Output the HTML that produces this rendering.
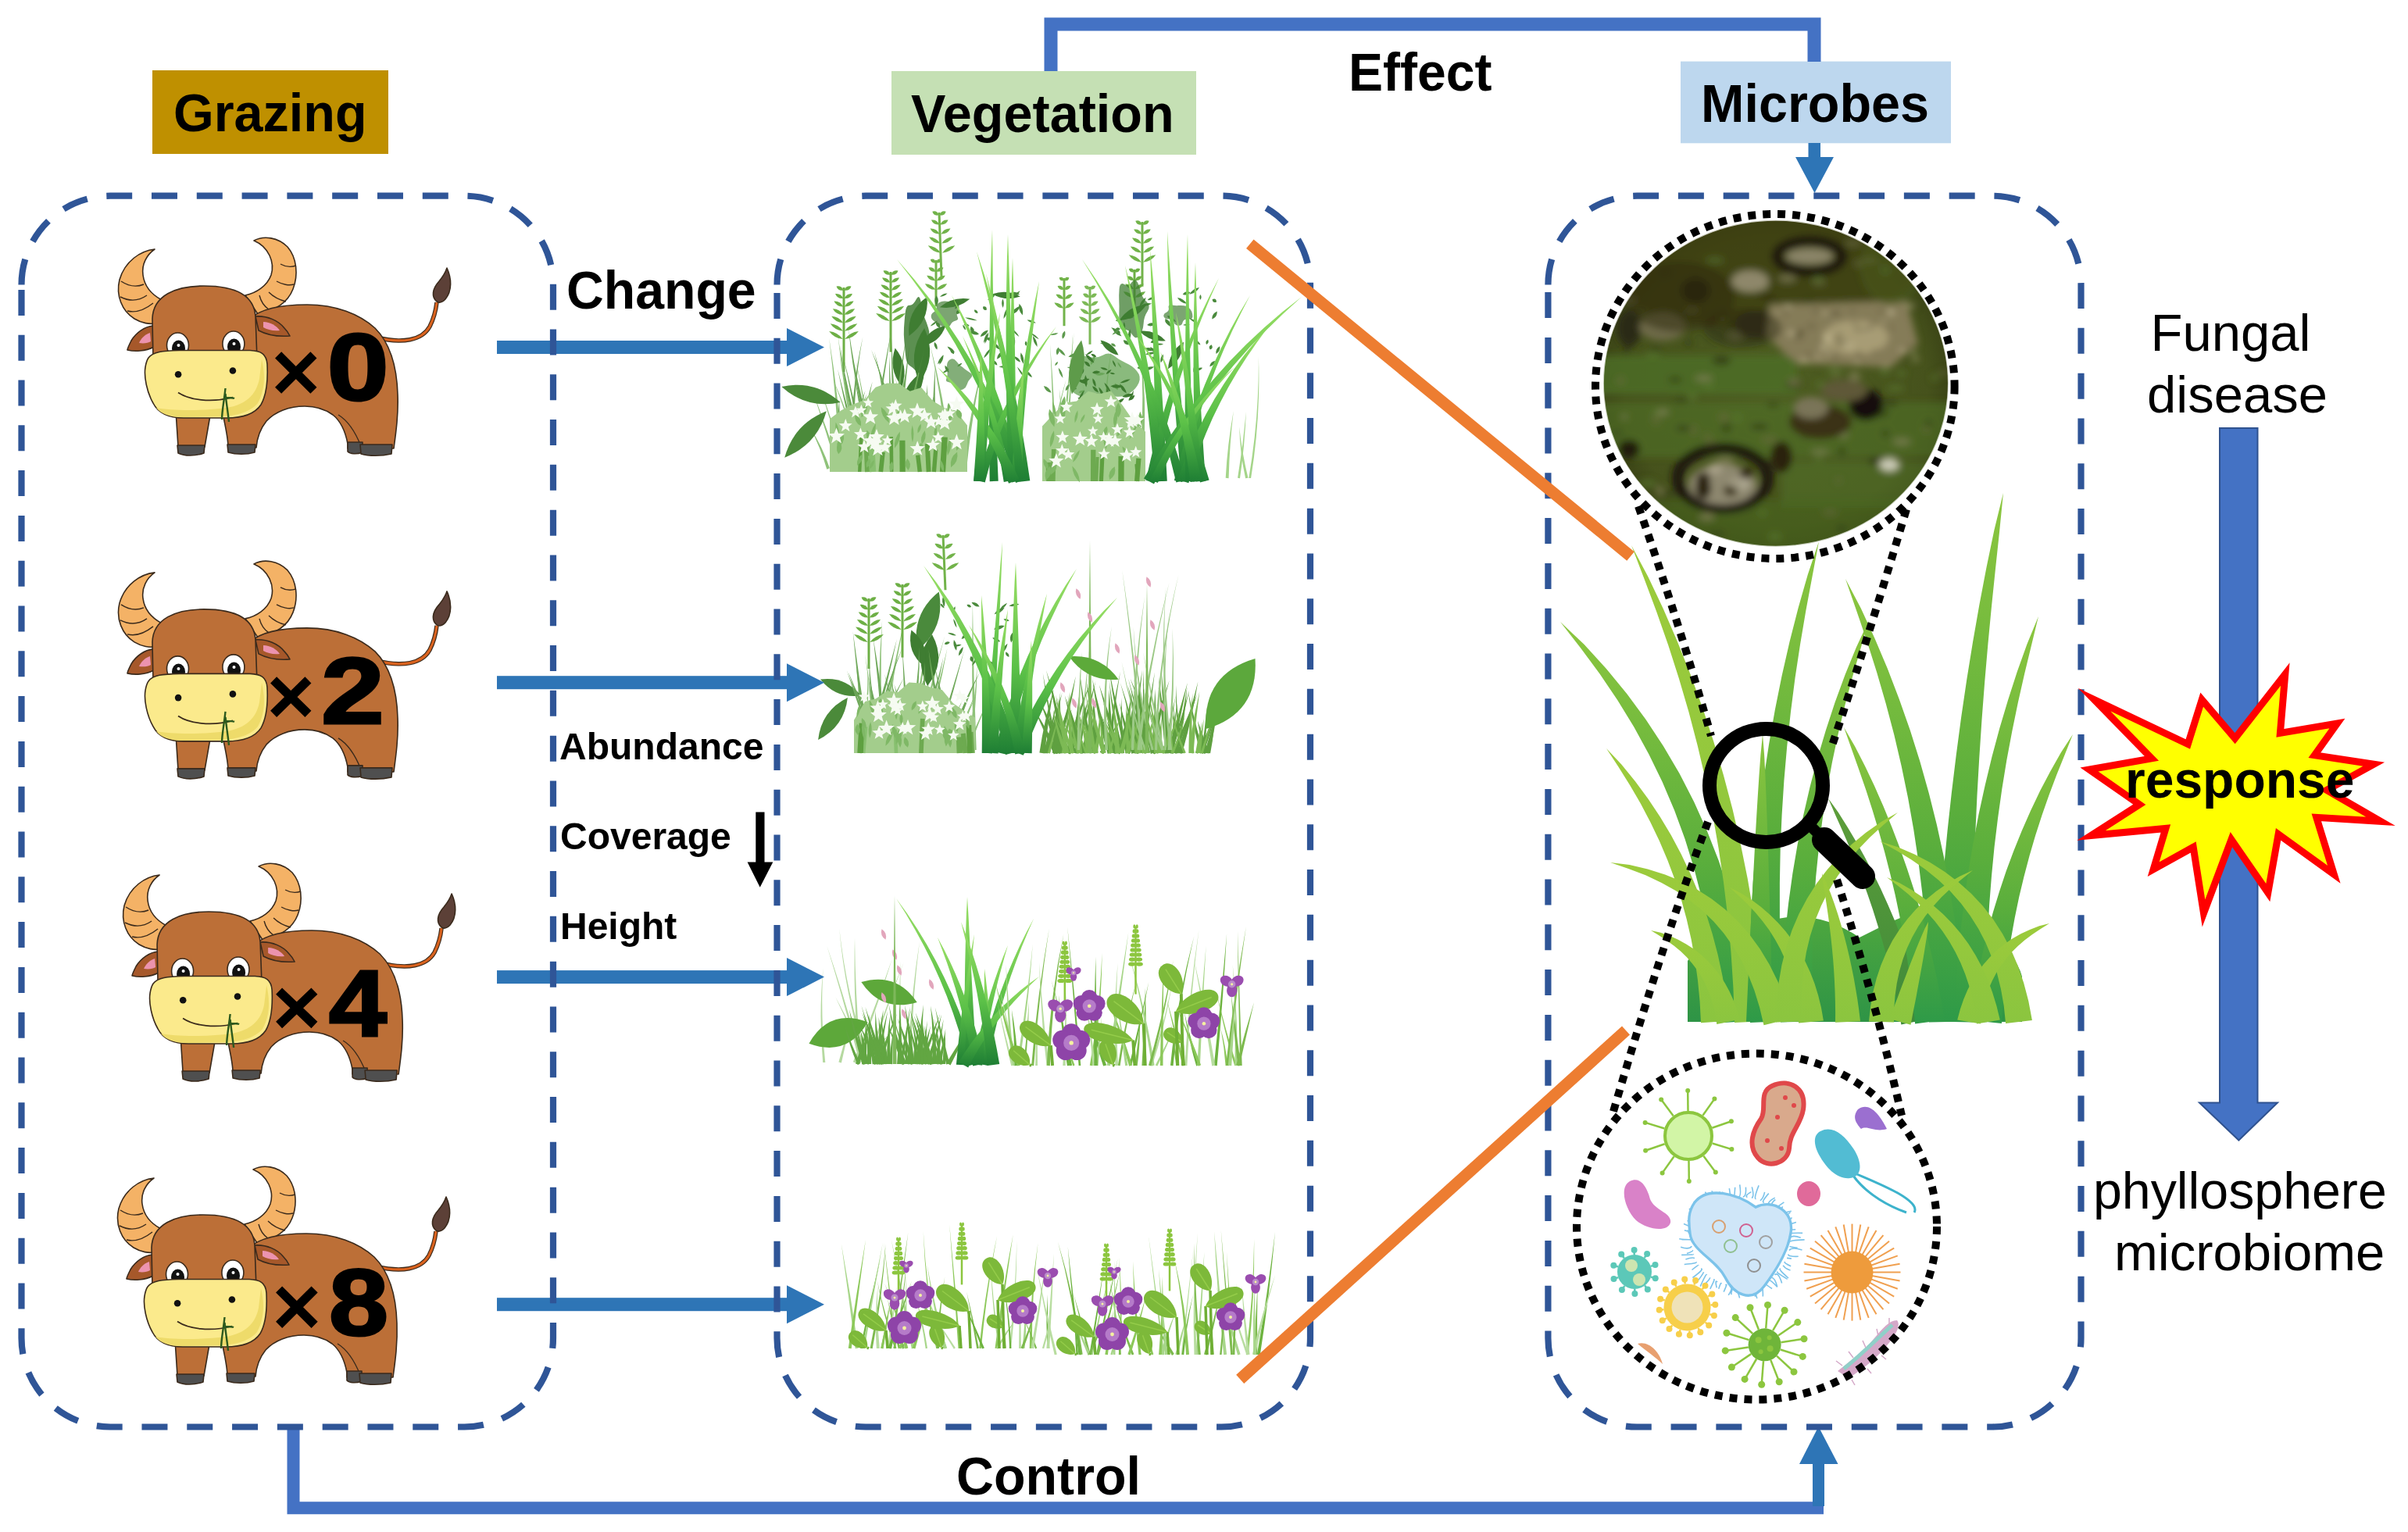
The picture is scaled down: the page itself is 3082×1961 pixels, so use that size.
<!DOCTYPE html>
<html><head><meta charset="utf-8">
<style>
html,body{margin:0;padding:0;background:#fff;width:3082px;height:1961px;overflow:hidden}
svg{display:block}
text{font-family:"Liberation Sans",sans-serif}
.b{font-weight:bold}
</style></head><body>
<svg width="3082" height="1961" viewBox="0 0 3082 1961">
<defs>
<linearGradient id="gG4" x1="0" y1="0" x2="0" y2="1"><stop offset="0" stop-color="#4FA83E"/><stop offset="1" stop-color="#2E9446"/></linearGradient>
<linearGradient id="gG1" x1="0" y1="0" x2="0" y2="1"><stop offset="0" stop-color="#8CC63F"/><stop offset="0.6" stop-color="#5AAE3C"/><stop offset="1" stop-color="#2E9A48"/></linearGradient>
<linearGradient id="gG2" x1="0" y1="0" x2="0" y2="1"><stop offset="0" stop-color="#9CCB3B"/><stop offset="1" stop-color="#8BC53F"/></linearGradient>
<linearGradient id="gG3" x1="0" y1="0" x2="0" y2="1"><stop offset="0" stop-color="#5E9E3A"/><stop offset="1" stop-color="#3E8A3A"/></linearGradient>
<radialGradient id="gPh" cx="0.5" cy="0.5" r="0.55"><stop offset="0" stop-color="#4E5E22"/><stop offset="0.8" stop-color="#46521C"/><stop offset="1" stop-color="#353C12"/></radialGradient>
<clipPath id="clipPh"><ellipse cx="2272.9" cy="490.7" rx="221" ry="209"/></clipPath>
<filter id="blur4" x="-20%" y="-20%" width="140%" height="140%"><feGaussianBlur stdDeviation="5"/></filter>
<linearGradient id="gBr" x1="0" y1="0" x2="0" y2="1" gradientUnits="objectBoundingBox"><stop offset="0" stop-color="#9BE066"/><stop offset="0.55" stop-color="#5CC148"/><stop offset="1" stop-color="#1E7E34"/></linearGradient>
<g id="cow" stroke="#3a2a1c" stroke-width="1.6" stroke-linejoin="round">
 <!-- tail -->
 <path d="M352,142 C385,150 410,146 420,128 C426,116 428,106 429,97" fill="none" stroke="#3a2a1c" stroke-width="5.5"/>
 <path d="M352,142 C385,150 410,146 420,128 C426,116 428,106 429,97" fill="none" stroke="#D9621E" stroke-width="3.2"/>
 <path d="M429,96 C422,90 423,80 432,70 C437,64 440,59 442,53 C448,66 449,82 440,93 C436,97 432,98 429,96 Z" fill="#5C4037"/>
 <!-- left horn -->
 <path d="M68,29 C50,31 30,44 23,68 C18,88 26,108 42,118 C52,124 62,125 67,124 L77,94 C66,88 55,78 53,62 C51,48 58,36 68,29 Z" fill="#F4B266"/>
 <path d="M25,70 C34,76 44,78 54,74 M24,90 C36,96 48,95 58,88 M33,108 C45,111 56,106 66,98" fill="none" stroke-width="1.4"/>
 <!-- right horn -->
 <path d="M195,18 C208,11 226,14 238,26 C250,40 252,62 245,80 C238,98 220,108 200,112 L184,88 C198,85 212,76 217,62 C222,46 214,26 195,18 Z" fill="#F4B266"/>
 <path d="M229,48 C236,52 243,52 249,50 M224,70 C231,74 240,76 246,74 M214,84 C220,90 228,94 236,96 M202,88 C204,96 208,102 214,106" fill="none" stroke-width="1.4"/>
 <!-- front left leg (behind) -->
 <path d="M95,236 L140,236 L132,282 L98,282 Z" fill="#BC6F37"/>
 <!-- body -->
 <path d="M190,118 C205,104 235,100 263,100 C300,100 330,112 350,130 C370,150 378,180 379,215 C380,240 377,262 374,284 L315,284 L315,278 C312,262 306,249 296,241 C285,233 272,230 260,230 C240,230 222,237 211,249 C203,259 199,270 198,283 L162,283 C162,260 150,230 150,200 C150,160 170,130 190,118 Z" fill="#BC6F37"/>
 <path d="M303,241 C318,250 326,266 332,281" fill="none" stroke-width="1.4"/>
 <!-- hooves -->
 <path d="M315,276 L334,276 L334,289 C326,292 318,291 315,288 Z" fill="#4f4f4f"/>
 <path d="M331,279 L372,279 L371,291 C358,294 342,294 332,291 Z" fill="#4f4f4f"/>
 <path d="M97,280 L132,280 L131,290 C120,294 106,294 98,290 Z" fill="#4f4f4f"/>
 <path d="M161,279 L197,279 L196,289 C186,292 172,292 162,289 Z" fill="#4f4f4f"/>
 <!-- ears -->
 <path d="M66,127 C55,128 44,136 38,146 C35,152 33,156 33,158 C42,160 56,160 67,154 Z" fill="#A6582A"/>
 <path d="M62,136 C55,138 50,144 48,149 C54,150 60,149 63,147 Z" fill="#EC93AE" stroke="none"/>
 <path d="M197,115 C212,114 226,120 234,130 C238,134 240,138 241,140 C228,141 212,139 201,133 Z" fill="#A6582A"/>
 <path d="M207,122 C216,122 224,127 228,133 C220,134 212,132 207,129 Z" fill="#EC93AE" stroke="none"/>
 <!-- head -->
 <path d="M66,170 L65,118 C66,88 95,76 131,76 C168,76 195,86 197,115 L199,170 Z" fill="#BC6F37"/>
 <!-- eyes -->
 <ellipse cx="97.5" cy="152" rx="14" ry="16" fill="#fff"/>
 <ellipse cx="98.5" cy="156" rx="8.5" ry="10.5" fill="#111" stroke="none"/>
 <circle cx="98.5" cy="152" r="2" fill="#fff" stroke="none"/>
 <ellipse cx="168.9" cy="150" rx="14" ry="16" fill="#fff"/>
 <ellipse cx="169.5" cy="154" rx="8.5" ry="10.5" fill="#111" stroke="none"/>
 <circle cx="169.5" cy="150" r="2" fill="#fff" stroke="none"/>
 <!-- muzzle -->
 <path d="M60,168 C66,160 78,159 100,158.5 L190,158.5 C204,159 211,163 212,176 C213,196 212,214 204,228 C196,240 180,245 160,245 L105,245 C85,245 72,238 66,226 C58,212 54,192 56,180 C57,174 58,171 60,168 Z" fill="#FBEA8C"/>
 <path d="M205,170 C210,190 209,210 200,226 C190,238 170,243 150,243 L105,244 C88,244 76,240 70,232 C90,236 130,236 160,232 C185,228 198,215 202,195 Z" fill="#EEDB6A" stroke="none"/>
 <circle cx="98.1" cy="189.2" r="4.3" fill="#111" stroke="none"/>
 <circle cx="167.9" cy="184.5" r="4.3" fill="#111" stroke="none"/>
 <path d="M98,212.5 C112,222 140,226 168,218.5" fill="none" stroke-width="1.8"/>
 <path d="M158.5,207 C157,222 154,236 154,247 M158.5,214 C160,228 162,240 163,250 M158,219 C164,219 168,219 170,220" fill="none" stroke="#2d5a1e" stroke-width="2.4"/>
</g>
</defs>
<rect width="3082" height="1961" fill="#fff"/>

<!-- GRASS -->
<g id="grass">
<g id="row1">
<path d="M1139.5,599.8 Q1142.5,574.6 1146.2,549.4 Q1145.2,574.8 1143.4,600.2Z" fill="#8FC27A"/>
<path d="M1163.7,600.5 Q1155.5,545.3 1140.5,491.7 Q1158.4,544.6 1167.8,599.5Z" fill="#8FC27A"/>
<path d="M1074.6,600.2 Q1071.4,516.1 1061.2,432.7 Q1074.6,515.8 1079.2,599.8Z" fill="#8FC27A"/>
<path d="M1065.9,598.6 Q1086.3,577.1 1106.1,555.1 Q1088.6,579.1 1069.2,601.4Z" fill="#8FC27A"/>
<path d="M1086.9,600.5 Q1064,548.8 1049.5,494 Q1066,548.1 1089.8,599.5Z" fill="#8FC27A"/>
<path d="M1101.7,600.6 Q1088.2,541.4 1066,485 Q1090.8,540.5 1105.4,599.4Z" fill="#8FC27A"/>
<path d="M1151.3,599.8 Q1157,544.8 1164.7,490 Q1160,545.1 1155.6,600.2Z" fill="#8FC27A"/>
<path d="M1108.4,598.4 Q1129.8,579.5 1149.9,559.4 Q1132.2,581.8 1111.7,601.6Z" fill="#8FC27A"/>
<path d="M1115.2,600.2 Q1109.3,529.7 1095.1,460.5 Q1111.5,529.4 1118.3,599.8Z" fill="#8FC27A"/>
<path d="M1129.7,599.5 Q1149.5,537.8 1159.8,474.1 Q1152.9,538.6 1134.5,600.5Z" fill="#8FC27A"/>
<path d="M1058.3,600.8 Q1050.3,572.9 1036.9,547.4 Q1052.8,571.8 1061.9,599.2Z" fill="#8FC27A"/>
<path d="M1129.4,600.8 Q1110.4,555.6 1097.4,508.1 Q1113.4,554.4 1133.7,599.2Z" fill="#8FC27A"/>
<path d="M1073.5,600.6 Q1065.4,578.5 1062.3,555 Q1068.4,577.6 1077.9,599.4Z" fill="#8FC27A"/>
<path d="M1102.1,600.4 Q1080.2,515.7 1072.4,428.4 Q1083.3,515.1 1106.6,599.6Z" fill="#8FC27A"/>
<path d="M1158.4,600.1 Q1150.2,523.6 1156.5,446.7 Q1153.3,523.5 1162.9,599.9Z" fill="#8FC27A"/>
<path d="M1174.2,600.4 Q1156,540.6 1145.2,478.9 Q1158.3,540 1177.5,599.6Z" fill="#8FC27A"/>
<path d="M1232.4,599.6 Q1240.5,530.2 1259,462.6 Q1243.8,530.7 1237.1,600.4Z" fill="#8FC27A"/>
<path d="M1129.4,599.5 Q1149.4,556.3 1159.3,509.9 Q1151.5,556.9 1132.5,600.5Z" fill="#8FC27A"/>
<path d="M1096.6,600.5 Q1085.7,564.9 1079,528.2 Q1088.2,564.2 1100.1,599.5Z" fill="#8FC27A"/>
<path d="M1071.6,600.6 Q1056.9,550.8 1040.4,501.6 Q1059.2,550 1074.9,599.4Z" fill="#8FC27A"/>
<path d="M1124.9,600.2 Q1124.1,577.2 1123.2,554.3 Q1126.8,577 1128.9,599.8Z" fill="#8FC27A"/>
<path d="M1213.6,600.4 Q1207.7,520.1 1190.6,441.6 Q1211,519.6 1218.4,599.6Z" fill="#8FC27A"/>
<path d="M1397.4,611.8 Q1398.9,565.7 1411.7,521.3 Q1401.2,566.1 1400.7,612.2Z" fill="#8FC27A"/>
<path d="M1383.5,612.6 Q1375.9,577.8 1367.5,543.2 Q1378.9,577 1387.7,611.4Z" fill="#8FC27A"/>
<path d="M1408.4,611.9 Q1408.6,526.4 1423.3,442.1 Q1411.3,526.6 1412.3,612.1Z" fill="#8FC27A"/>
<path d="M1455.9,612.7 Q1440.2,577.9 1422,544.5 Q1442.2,576.9 1458.7,611.3Z" fill="#8FC27A"/>
<path d="M1379,612.2 Q1372.3,580.6 1372.9,548 Q1374.4,580.3 1382,611.8Z" fill="#8FC27A"/>
<path d="M1456,612 Q1466.7,522.9 1459.2,433.8 Q1470.2,523 1461,612Z" fill="#8FC27A"/>
<path d="M1348.4,612.1 Q1348.4,526.2 1344,440.5 Q1350.9,526.1 1352,611.9Z" fill="#8FC27A"/>
<path d="M1355.4,611.9 Q1370.8,520.4 1372.8,427.8 Q1373.1,520.6 1358.7,612.1Z" fill="#8FC27A"/>
<path d="M1387.1,612.1 Q1383,561.5 1382.6,510.6 Q1385.8,561.3 1391,611.9Z" fill="#8FC27A"/>
<path d="M1336.8,611.1 Q1347.4,589.2 1357.2,567.1 Q1350.7,590.5 1341.4,612.9Z" fill="#8FC27A"/>
<path d="M1380.9,612.3 Q1372.1,569.1 1372.2,524.9 Q1375.1,568.8 1385.3,611.7Z" fill="#8FC27A"/>
<path d="M1364.4,612.2 Q1359.6,555 1355.8,497.7 Q1362.9,554.7 1369,611.8Z" fill="#8FC27A"/>
<path d="M1336.8,611.6 Q1346.1,547.5 1364.6,485.4 Q1348.9,548.1 1340.8,612.4Z" fill="#8FC27A"/>
<path d="M1391.1,612.2 Q1387.5,574.7 1383.7,537.3 Q1389.8,574.5 1394.3,611.8Z" fill="#8FC27A"/>
<path d="M1357.3,611.9 Q1362.1,518.4 1374.7,425.6 Q1364.6,518.6 1360.8,612.1Z" fill="#8FC27A"/>
<path d="M1419.3,612.5 Q1398.7,552.2 1385.2,489.8 Q1401,551.5 1422.6,611.5Z" fill="#8FC27A"/>
<path d="M1000.3,494.9 Q1032.8,524.3 1075.7,515.1 Q1043.2,485.7 1000.3,494.9Z" fill="#4B8A3A"/>
<path d="M1004.2,585.7 Q1045.9,569.4 1057.8,526.3 Q1016.1,542.6 1004.2,585.7Z" fill="#4B8A3A"/>
<path d="M1080,368 L1080,476" stroke="#6DAF45" stroke-width="3" fill="none"/><path d="M1070.5,366.4 Q1072.7,372.9 1079.4,371.6 Q1077.2,365.1 1070.5,366.4Z" fill="#6DAF45"/><path d="M1080.6,371.6 Q1087.3,372.9 1089.5,366.4 Q1082.8,365.1 1080.6,371.6Z" fill="#6DAF45"/><path d="M1069,376 Q1071.9,382.9 1079.3,382 Q1076.4,375.1 1069,376Z" fill="#6DAF45"/><path d="M1080.7,382 Q1088.1,382.9 1091,376 Q1083.6,375.1 1080.7,382Z" fill="#6DAF45"/><path d="M1067.4,385.6 Q1071,392.9 1079.2,392.4 Q1075.5,385.1 1067.4,385.6Z" fill="#6DAF45"/><path d="M1080.8,392.4 Q1089,392.9 1092.6,385.6 Q1084.5,385.1 1080.8,392.4Z" fill="#6DAF45"/><path d="M1065.8,395.2 Q1070.2,402.9 1079.1,402.8 Q1074.7,395.1 1065.8,395.2Z" fill="#6DAF45"/><path d="M1080.9,402.8 Q1089.8,402.9 1094.2,395.2 Q1085.3,395.1 1080.9,402.8Z" fill="#6DAF45"/><path d="M1064.2,404.8 Q1069.3,412.9 1079,413.2 Q1073.8,405.1 1064.2,404.8Z" fill="#6DAF45"/><path d="M1081,413.2 Q1090.7,412.9 1095.8,404.8 Q1086.2,405.1 1081,413.2Z" fill="#6DAF45"/><path d="M1062.7,414.3 Q1068.5,422.9 1078.9,423.7 Q1073,415.1 1062.7,414.3Z" fill="#6DAF45"/><path d="M1081.1,423.7 Q1091.5,422.9 1097.3,414.3 Q1087,415.1 1081.1,423.7Z" fill="#6DAF45"/><path d="M1061.1,423.9 Q1067.7,432.9 1078.8,434.1 Q1072.2,425.1 1061.1,423.9Z" fill="#6DAF45"/><path d="M1081.2,434.1 Q1092.3,432.9 1098.9,423.9 Q1087.8,425.1 1081.2,434.1Z" fill="#6DAF45"/>
<path d="M1140,348 L1140,450.6" stroke="#6DAF45" stroke-width="3" fill="none"/><path d="M1130.5,346.4 Q1132.7,352.9 1139.4,351.6 Q1137.2,345.1 1130.5,346.4Z" fill="#6DAF45"/><path d="M1140.6,351.6 Q1147.3,352.9 1149.5,346.4 Q1142.8,345.1 1140.6,351.6Z" fill="#6DAF45"/><path d="M1129,355.5 Q1131.9,362.4 1139.3,361.5 Q1136.4,354.6 1129,355.5Z" fill="#6DAF45"/><path d="M1140.7,361.5 Q1148.1,362.4 1151,355.5 Q1143.6,354.6 1140.7,361.5Z" fill="#6DAF45"/><path d="M1127.4,364.6 Q1131,371.9 1139.2,371.4 Q1135.5,364.1 1127.4,364.6Z" fill="#6DAF45"/><path d="M1140.8,371.4 Q1149,371.9 1152.6,364.6 Q1144.5,364.1 1140.8,371.4Z" fill="#6DAF45"/><path d="M1125.8,373.7 Q1130.2,381.4 1139.1,381.3 Q1134.7,373.6 1125.8,373.7Z" fill="#6DAF45"/><path d="M1140.9,381.3 Q1149.8,381.4 1154.2,373.7 Q1145.3,373.6 1140.9,381.3Z" fill="#6DAF45"/><path d="M1124.2,382.8 Q1129.3,390.9 1139,391.2 Q1133.8,383.1 1124.2,382.8Z" fill="#6DAF45"/><path d="M1141,391.2 Q1150.7,390.9 1155.8,382.8 Q1146.2,383.1 1141,391.2Z" fill="#6DAF45"/><path d="M1122.7,391.8 Q1128.5,400.4 1138.9,401.2 Q1133,392.6 1122.7,391.8Z" fill="#6DAF45"/><path d="M1141.1,401.2 Q1151.5,400.4 1157.3,391.8 Q1147,392.6 1141.1,401.2Z" fill="#6DAF45"/><path d="M1121.1,400.9 Q1127.7,409.9 1138.8,411.1 Q1132.2,402.1 1121.1,400.9Z" fill="#6DAF45"/><path d="M1141.2,411.1 Q1152.3,409.9 1158.9,400.9 Q1147.8,402.1 1141.2,411.1Z" fill="#6DAF45"/>
<path d="M1202,272 L1205,354.8" stroke="#72B34A" stroke-width="3" fill="none"/><path d="M1193.3,270.7 Q1195.1,276.9 1201.4,275.3 Q1199.6,269.1 1193.3,270.7Z" fill="#72B34A"/><path d="M1202.6,275.3 Q1208.9,276.9 1210.7,270.7 Q1204.4,269.1 1202.6,275.3Z" fill="#72B34A"/><path d="M1191.9,281.6 Q1194.7,288.4 1202,287.4 Q1199.2,280.6 1191.9,281.6Z" fill="#72B34A"/><path d="M1203.5,287.4 Q1210.8,288.4 1213.6,281.6 Q1206.3,280.6 1203.5,287.4Z" fill="#72B34A"/><path d="M1190.5,292.5 Q1194.3,299.9 1202.6,299.5 Q1198.8,292.1 1190.5,292.5Z" fill="#72B34A"/><path d="M1204.4,299.5 Q1212.7,299.9 1216.5,292.5 Q1208.2,292.1 1204.4,299.5Z" fill="#72B34A"/><path d="M1189.1,303.4 Q1193.9,311.4 1203.3,311.6 Q1198.4,303.6 1189.1,303.4Z" fill="#72B34A"/><path d="M1205.2,311.6 Q1214.6,311.4 1219.4,303.4 Q1210.1,303.6 1205.2,311.6Z" fill="#72B34A"/><path d="M1187.7,314.3 Q1193.5,322.9 1203.9,323.7 Q1198,315.1 1187.7,314.3Z" fill="#72B34A"/><path d="M1206.1,323.7 Q1216.5,322.9 1222.3,314.3 Q1212,315.1 1206.1,323.7Z" fill="#72B34A"/>
<path d="M1198,333 L1198,392.4" stroke="#72B34A" stroke-width="3" fill="none"/><path d="M1190.9,332.1 Q1192,337.9 1197.5,335.9 Q1196.5,330.1 1190.9,332.1Z" fill="#72B34A"/><path d="M1198.5,335.9 Q1204,337.9 1205.1,332.1 Q1199.5,330.1 1198.5,335.9Z" fill="#72B34A"/><path d="M1188.5,342.4 Q1190.7,348.9 1197.4,347.6 Q1195.2,341.1 1188.5,342.4Z" fill="#72B34A"/><path d="M1198.6,347.6 Q1205.3,348.9 1207.5,342.4 Q1200.8,341.1 1198.6,347.6Z" fill="#72B34A"/><path d="M1186.2,352.8 Q1189.5,359.9 1197.2,359.2 Q1194,352.1 1186.2,352.8Z" fill="#72B34A"/><path d="M1198.8,359.2 Q1206.5,359.9 1209.8,352.8 Q1202,352.1 1198.8,359.2Z" fill="#72B34A"/><path d="M1183.8,363.2 Q1188.2,370.9 1197.1,370.8 Q1192.7,363.1 1183.8,363.2Z" fill="#72B34A"/><path d="M1198.9,370.8 Q1207.8,370.9 1212.2,363.2 Q1203.3,363.1 1198.9,370.8Z" fill="#72B34A"/>
<path d="M1462,284 L1462,366.8" stroke="#72B34A" stroke-width="3" fill="none"/><path d="M1453.3,282.7 Q1455.1,288.9 1461.4,287.3 Q1459.6,281.1 1453.3,282.7Z" fill="#72B34A"/><path d="M1462.6,287.3 Q1468.9,288.9 1470.7,282.7 Q1464.4,281.1 1462.6,287.3Z" fill="#72B34A"/><path d="M1451.2,293.6 Q1454,300.4 1461.3,299.4 Q1458.5,292.6 1451.2,293.6Z" fill="#72B34A"/><path d="M1462.7,299.4 Q1470,300.4 1472.8,293.6 Q1465.5,292.6 1462.7,299.4Z" fill="#72B34A"/><path d="M1449,304.5 Q1452.8,311.9 1461.1,311.5 Q1457.3,304.1 1449,304.5Z" fill="#72B34A"/><path d="M1462.9,311.5 Q1471.2,311.9 1475,304.5 Q1466.7,304.1 1462.9,311.5Z" fill="#72B34A"/><path d="M1446.8,315.4 Q1451.7,323.4 1461,323.6 Q1456.2,315.6 1446.8,315.4Z" fill="#72B34A"/><path d="M1463,323.6 Q1472.3,323.4 1477.2,315.4 Q1467.8,315.6 1463,323.6Z" fill="#72B34A"/><path d="M1444.7,326.3 Q1450.5,334.9 1460.9,335.7 Q1455,327.1 1444.7,326.3Z" fill="#72B34A"/><path d="M1463.1,335.7 Q1473.5,334.9 1479.3,326.3 Q1469,327.1 1463.1,335.7Z" fill="#72B34A"/>
<path d="M1452,345 L1452,400.8" stroke="#6DAF45" stroke-width="3" fill="none"/><path d="M1444.9,344.1 Q1446,349.9 1451.5,347.9 Q1450.5,342.1 1444.9,344.1Z" fill="#6DAF45"/><path d="M1452.5,347.9 Q1458,349.9 1459.1,344.1 Q1453.5,342.1 1452.5,347.9Z" fill="#6DAF45"/><path d="M1442.5,353.8 Q1444.7,360.2 1451.4,358.9 Q1449.2,352.4 1442.5,353.8Z" fill="#6DAF45"/><path d="M1452.6,358.9 Q1459.3,360.2 1461.5,353.8 Q1454.8,352.4 1452.6,358.9Z" fill="#6DAF45"/><path d="M1440.2,363.5 Q1443.5,370.6 1451.2,369.9 Q1448,362.8 1440.2,363.5Z" fill="#6DAF45"/><path d="M1452.8,369.9 Q1460.5,370.6 1463.8,363.5 Q1456,362.8 1452.8,369.9Z" fill="#6DAF45"/><path d="M1437.8,373.2 Q1442.2,380.9 1451.1,380.8 Q1446.7,373.1 1437.8,373.2Z" fill="#6DAF45"/><path d="M1452.9,380.8 Q1461.8,380.9 1466.2,373.2 Q1457.3,373.1 1452.9,380.8Z" fill="#6DAF45"/>
<path d="M1362,356 L1362,417.2" stroke="#72B34A" stroke-width="3" fill="none"/><path d="M1355.7,355.3 Q1356.4,360.9 1361.6,358.7 Q1360.9,353.1 1355.7,355.3Z" fill="#72B34A"/><path d="M1362.4,358.7 Q1367.6,360.9 1368.3,355.3 Q1363.1,353.1 1362.4,358.7Z" fill="#72B34A"/><path d="M1353.6,366.1 Q1355.3,372.2 1361.4,370.6 Q1359.8,364.4 1353.6,366.1Z" fill="#72B34A"/><path d="M1362.6,370.6 Q1368.7,372.2 1370.4,366.1 Q1364.2,364.4 1362.6,370.6Z" fill="#72B34A"/><path d="M1351.5,376.8 Q1354.2,383.6 1361.3,382.5 Q1358.7,375.8 1351.5,376.8Z" fill="#72B34A"/><path d="M1362.7,382.5 Q1369.8,383.6 1372.5,376.8 Q1365.3,375.8 1362.7,382.5Z" fill="#72B34A"/><path d="M1349.4,387.6 Q1353,394.9 1361.2,394.4 Q1357.5,387.1 1349.4,387.6Z" fill="#72B34A"/><path d="M1362.8,394.4 Q1371,394.9 1374.6,387.6 Q1366.5,387.1 1362.8,394.4Z" fill="#72B34A"/>
<path d="M1163.4,429.9 Q1189.5,411.8 1186.6,380.1 Q1160.5,398.2 1163.4,429.9Z" fill="#3F7D32"/>
<path d="M1176.9,489.9 Q1199.9,456.7 1183.1,420.1 Q1160.1,453.3 1176.9,489.9Z" fill="#3F7D32"/>
<path d="M1153,526 Q1181.9,508 1183,474 Q1154.1,492 1153,526Z" fill="#3F7D32"/>
<path d="M1202.7,393.2 Q1224.3,396.7 1241.3,382.8 Q1219.7,379.3 1202.7,393.2Z" fill="#3F7D32"/>
<path d="M1270.1,376.4 Q1287.3,386 1305.9,379.6 Q1288.7,370 1270.1,376.4Z" fill="#3F7D32"/>
<path d="M1154.3,494.6 Q1163.8,467.6 1145.7,445.4 Q1136.2,472.4 1154.3,494.6Z" fill="#3F7D32"/>
<path d="M1179.7,442.9 Q1202.7,439.2 1210.3,417.1 Q1187.3,420.8 1179.7,442.9Z" fill="#3F7D32"/>
<path d="M1212.5,443.5 Q1215.3,449.9 1222.1,451.3 Q1219.3,444.9 1212.5,443.5Z" fill="#4A8A3C"/>
<path d="M1297.9,456.1 Q1299.8,462.2 1306.1,463.6 Q1304.2,457.4 1297.9,456.1Z" fill="#4A8A3C"/>
<path d="M1200.2,410.4 Q1194.1,412.2 1190.7,417.5 Q1196.7,415.7 1200.2,410.4Z" fill="#4A8A3C"/>
<path d="M1228.5,397.1 Q1223.1,396.4 1224.2,401.8 Q1229.6,402.5 1228.5,397.1Z" fill="#4A8A3C"/>
<path d="M1313.1,436.5 Q1310.3,439.7 1313.2,442.8 Q1316,439.6 1313.1,436.5Z" fill="#4A8A3C"/>
<path d="M1214.7,472.3 Q1209.3,473 1206.6,477.6 Q1211.9,477 1214.7,472.3Z" fill="#4A8A3C"/>
<path d="M1209.4,467.8 Q1208.9,474 1214.4,477.1 Q1214.8,470.8 1209.4,467.8Z" fill="#4A8A3C"/>
<path d="M1258.1,392.5 Q1257.6,397.7 1262.8,396.8 Q1263.2,391.5 1258.1,392.5Z" fill="#4A8A3C"/>
<path d="M1306,391.4 Q1297.4,393.9 1294.7,402.4 Q1303.3,399.9 1306,391.4Z" fill="#4A8A3C"/>
<path d="M1297.5,429.3 Q1295.7,436.2 1298.5,442.6 Q1300.3,435.8 1297.5,429.3Z" fill="#4A8A3C"/>
<path d="M1304.5,388.8 Q1302.6,397.3 1308.8,403.4 Q1310.7,394.9 1304.5,388.8Z" fill="#4A8A3C"/>
<path d="M1242.6,417.8 Q1240.1,424 1246,427 Q1248.5,420.8 1242.6,417.8Z" fill="#4A8A3C"/>
<path d="M1198.5,378.2 Q1194.1,384.8 1198.7,391.4 Q1203.1,384.7 1198.5,378.2Z" fill="#4A8A3C"/>
<path d="M1263.6,426.4 Q1259,431.9 1259.1,439.1 Q1263.8,433.7 1263.6,426.4Z" fill="#4A8A3C"/>
<path d="M1268.3,436.9 Q1268,441.5 1271.9,443.8 Q1272.3,439.3 1268.3,436.9Z" fill="#4A8A3C"/>
<path d="M1314.5,409.5 Q1319.3,414 1325.8,413.3 Q1321,408.8 1314.5,409.5Z" fill="#4A8A3C"/>
<path d="M1207.6,454.7 Q1201.4,458.8 1200.1,466.2 Q1206.3,462 1207.6,454.7Z" fill="#4A8A3C"/>
<path d="M1294,469.1 Q1286.1,466.3 1278.5,469.6 Q1286.3,472.4 1294,469.1Z" fill="#4A8A3C"/>
<path d="M1322,430.1 Q1321.8,438.2 1327.6,443.9 Q1327.8,435.8 1322,430.1Z" fill="#4A8A3C"/>
<path d="M1231.5,464.8 Q1227.1,465.2 1225.3,469.2 Q1229.6,468.8 1231.5,464.8Z" fill="#4A8A3C"/>
<path d="M1294.5,420.5 Q1297.9,427.2 1304.4,430.9 Q1301,424.3 1294.5,420.5Z" fill="#4A8A3C"/>
<path d="M1232.3,415.7 Q1232.2,420.1 1236,422.4 Q1236,418 1232.3,415.7Z" fill="#4A8A3C"/>
<path d="M1311.7,473.5 Q1314.1,480.5 1321.1,483.1 Q1318.7,476 1311.7,473.5Z" fill="#4A8A3C"/>
<path d="M1319.2,426.1 Q1323.2,431.8 1329.7,434.3 Q1325.7,428.6 1319.2,426.1Z" fill="#4A8A3C"/>
<path d="M1306.5,451.3 Q1304.8,459.3 1309.9,465.7 Q1311.6,457.7 1306.5,451.3Z" fill="#4A8A3C"/>
<path d="M1270.5,460.7 Q1270.9,466.3 1276.4,467.6 Q1276,462 1270.5,460.7Z" fill="#4A8A3C"/>
<path d="M1292.3,375.6 Q1298.4,380.4 1305.1,376.5 Q1299,371.7 1292.3,375.6Z" fill="#4A8A3C"/>
<path d="M1270.1,437.4 Q1272.6,445 1280.2,447.9 Q1277.6,440.2 1270.1,437.4Z" fill="#4A8A3C"/>
<path d="M1242.6,473.5 Q1249.1,477.9 1257,477.9 Q1250.4,473.4 1242.6,473.5Z" fill="#4A8A3C"/>
<path d="M1212.5,375.5 Q1206.7,375.5 1202.9,379.8 Q1208.6,379.8 1212.5,375.5Z" fill="#4A8A3C"/>
<path d="M1283.4,382.6 Q1280.7,388.3 1283.6,394 Q1286.3,388.2 1283.4,382.6Z" fill="#4A8A3C"/>
<path d="M1227,389.3 Q1222.3,390.6 1222.2,395.5 Q1227,394.2 1227,389.3Z" fill="#4A8A3C"/>
<path d="M1274.2,375.6 Q1266.5,376.7 1264.3,384.1 Q1272,383 1274.2,375.6Z" fill="#4A8A3C"/>
<path d="M1305.7,372.2 Q1300.3,374.2 1297.8,379.4 Q1303.2,377.4 1305.7,372.2Z" fill="#4A8A3C"/>
<path d="M1216.3,446.2 Q1215.5,451.8 1221,453.3 Q1221.8,447.6 1216.3,446.2Z" fill="#4A8A3C"/>
<path d="M1197.9,412.2 Q1197.3,418.4 1203.4,419.5 Q1204.1,413.3 1197.9,412.2Z" fill="#4A8A3C"/>
<path d="M1265.3,425.3 Q1260.8,432 1260.5,440 Q1265.1,433.4 1265.3,425.3Z" fill="#4A8A3C"/>
<path d="M1268.2,445.8 Q1261.4,450.5 1259,458.5 Q1265.9,453.8 1268.2,445.8Z" fill="#4A8A3C"/>
<path d="M1269.3,433.6 Q1265.7,429.8 1262.7,434.1 Q1266.3,437.9 1269.3,433.6Z" fill="#4A8A3C"/>
<path d="M1235.2,406.5 Q1242.4,410.6 1250.7,410.3 Q1243.5,406.2 1235.2,406.5Z" fill="#4A8A3C"/>
<path d="M1207.4,454.2 Q1202,459.3 1202.4,466.8 Q1207.8,461.7 1207.4,454.2Z" fill="#4A8A3C"/>
<path d="M1195.9,437.8 Q1194.6,443.8 1199.4,447.6 Q1200.8,441.6 1195.9,437.8Z" fill="#4A8A3C"/>
<path d="M1246.9,396.4 Q1247,400.9 1251.5,400.9 Q1251.4,396.5 1246.9,396.4Z" fill="#4A8A3C"/>
<path d="M1285.2,456.3 Q1287.9,463.1 1294.9,465.3 Q1292.2,458.5 1285.2,456.3Z" fill="#4A8A3C"/>
<path d="M1241.1,424.5 Q1245.9,430.4 1253,427.7 Q1248.2,421.9 1241.1,424.5Z" fill="#4A8A3C"/>
<path d="M1264.8,422.4 Q1257.1,423.4 1254.7,430.9 Q1262.5,429.9 1264.8,422.4Z" fill="#4A8A3C"/>
<path d="M1283.3,449.5 Q1276.3,452.2 1275.9,459.8 Q1283,457.1 1283.3,449.5Z" fill="#4A8A3C"/>
<path d="M1289.9,393.7 Q1284.4,399.7 1284.5,407.9 Q1290,401.8 1289.9,393.7Z" fill="#4A8A3C"/>
<path d="M1301.9,469.6 Q1304.7,477.3 1310.8,482.8 Q1308,475.1 1301.9,469.6Z" fill="#4A8A3C"/>
<path d="M1233.5,415.2 Q1236.2,419.4 1240.7,417 Q1237.9,412.8 1233.5,415.2Z" fill="#4A8A3C"/>
<path d="M1551.7,383 Q1551.9,388.5 1557,386.4 Q1556.8,381 1551.7,383Z" fill="#4A8A3C"/>
<path d="M1437.8,435.3 Q1438.5,441.6 1444.8,441.5 Q1444.1,435.2 1437.8,435.3Z" fill="#4A8A3C"/>
<path d="M1557.8,398.5 Q1550.9,401.2 1551.2,408.6 Q1558.1,405.9 1557.8,398.5Z" fill="#4A8A3C"/>
<path d="M1550.6,441.2 Q1545.7,443.2 1548.8,447.5 Q1553.8,445.5 1550.6,441.2Z" fill="#4A8A3C"/>
<path d="M1474.1,388.6 Q1466.3,386.6 1459.8,391.4 Q1467.6,393.4 1474.1,388.6Z" fill="#4A8A3C"/>
<path d="M1531.5,465.5 Q1526,469.6 1527.5,476.4 Q1533,472.2 1531.5,465.5Z" fill="#4A8A3C"/>
<path d="M1464.4,469.8 Q1459.3,466.5 1455.4,471.1 Q1460.4,474.4 1464.4,469.8Z" fill="#4A8A3C"/>
<path d="M1506.9,381 Q1510.9,388 1518.8,388.8 Q1514.9,381.9 1506.9,381Z" fill="#4A8A3C"/>
<path d="M1431.7,422.7 Q1427.3,425.8 1431.6,429 Q1435.9,425.9 1431.7,422.7Z" fill="#4A8A3C"/>
<path d="M1491.2,407.8 Q1491.3,415.4 1498.4,418.2 Q1498.4,410.5 1491.2,407.8Z" fill="#4A8A3C"/>
<path d="M1476.1,426.7 Q1472,430.7 1474.9,435.6 Q1478.9,431.6 1476.1,426.7Z" fill="#4A8A3C"/>
<path d="M1489.2,440.6 Q1483.5,438.5 1477.9,440.8 Q1483.5,442.9 1489.2,440.6Z" fill="#4A8A3C"/>
<path d="M1478,414.6 Q1472.4,411.1 1468.1,416.1 Q1473.7,419.6 1478,414.6Z" fill="#4A8A3C"/>
<path d="M1491.1,410.3 Q1491.9,415.7 1497.1,413.9 Q1496.3,408.4 1491.1,410.3Z" fill="#4A8A3C"/>
<path d="M1495,404 Q1497.2,409 1502.6,409.3 Q1500.4,404.3 1495,404Z" fill="#4A8A3C"/>
<path d="M1424.4,422.1 Q1427.9,429.1 1435.6,430.4 Q1432.1,423.3 1424.4,422.1Z" fill="#4A8A3C"/>
<path d="M1523.5,374.2 Q1517.6,371.5 1513.7,376.7 Q1519.6,379.4 1523.5,374.2Z" fill="#4A8A3C"/>
<path d="M1488.6,453.6 Q1484,458 1485.7,464.2 Q1490.4,459.8 1488.6,453.6Z" fill="#4A8A3C"/>
<path d="M1561.2,443.3 Q1555.4,446.4 1556.5,452.9 Q1562.3,449.7 1561.2,443.3Z" fill="#4A8A3C"/>
<path d="M1479.7,451.1 Q1472.1,448.9 1465.8,453.6 Q1473.4,455.8 1479.7,451.1Z" fill="#4A8A3C"/>
<path d="M1422.2,419.3 Q1426,424.9 1432.8,425.7 Q1428.9,420.1 1422.2,419.3Z" fill="#4A8A3C"/>
<path d="M1522.8,415.2 Q1518.2,413.5 1514.1,416.1 Q1518.6,417.7 1522.8,415.2Z" fill="#4A8A3C"/>
<path d="M1476.3,380.7 Q1471.5,380 1468.8,384.1 Q1473.6,384.8 1476.3,380.7Z" fill="#4A8A3C"/>
<path d="M1446.6,396.9 Q1447.5,401.5 1452.2,401.1 Q1451.3,396.5 1446.6,396.9Z" fill="#4A8A3C"/>
<path d="M1463.9,446.3 Q1471,451.2 1479,448.1 Q1471.9,443.1 1463.9,446.3Z" fill="#4A8A3C"/>
<path d="M1475.9,456 Q1473.5,459.2 1476.1,462.3 Q1478.5,459.1 1475.9,456Z" fill="#4A8A3C"/>
<path d="M1472,444.1 Q1474.4,451 1481.3,453.4 Q1478.9,446.5 1472,444.1Z" fill="#4A8A3C"/>
<path d="M1453.2,396.4 Q1454.4,401.2 1459.1,399.5 Q1457.9,394.7 1453.2,396.4Z" fill="#4A8A3C"/>
<path d="M1546.1,434.7 Q1542,436.8 1544,440.9 Q1548.1,438.9 1546.1,434.7Z" fill="#4A8A3C"/>
<path d="M1427.6,421.1 Q1430.7,425 1433.9,421.1 Q1430.8,417.2 1427.6,421.1Z" fill="#4A8A3C"/>
<path d="M1511.1,466.3 Q1507.8,473.2 1509.5,480.7 Q1512.9,473.8 1511.1,466.3Z" fill="#4A8A3C"/>
<path d="M1436.6,405.7 Q1443.8,410 1451.2,406.1 Q1444,401.9 1436.6,405.7Z" fill="#4A8A3C"/>
<path d="M1479.9,435.9 Q1475,433.4 1472.6,438.5 Q1477.6,441 1479.9,435.9Z" fill="#4A8A3C"/>
<path d="M1493.4,404 Q1497.6,410.7 1505.4,412.1 Q1501.3,405.3 1493.4,404Z" fill="#4A8A3C"/>
<path d="M1466.7,380.8 Q1459.8,384.8 1458.3,392.6 Q1465.2,388.6 1466.7,380.8Z" fill="#4A8A3C"/>
<path d="M1539,470.7 Q1534.2,469.5 1531.7,473.8 Q1536.5,475 1539,470.7Z" fill="#4A8A3C"/>
<path d="M1522.3,407.6 Q1526.6,412.8 1533.3,413.7 Q1529,408.4 1522.3,407.6Z" fill="#4A8A3C"/>
<path d="M1436,409.5 Q1431.5,406.6 1427.7,410.3 Q1432.1,413.1 1436,409.5Z" fill="#4A8A3C"/>
<path d="M1446.3,421.3 Q1442.2,428.3 1445,435.9 Q1449.1,428.9 1446.3,421.3Z" fill="#4A8A3C"/>
<path d="M1535,367.9 Q1526.5,369.2 1522.3,376.7 Q1530.8,375.3 1535,367.9Z" fill="#4A8A3C"/>
<path d="M1536.5,377 Q1534,380.3 1536.4,383.7 Q1538.8,380.4 1536.5,377Z" fill="#4A8A3C"/>
<path d="M1555.1,461.8 Q1549.1,463 1548.2,469.2 Q1554.3,467.9 1555.1,461.8Z" fill="#4A8A3C"/>
<path d="M1477.2,469.6 Q1468.7,468.3 1462.5,474.3 Q1471,475.5 1477.2,469.6Z" fill="#4A8A3C"/>
<path d="M1529.7,435.3 Q1531.3,440.5 1536.5,441.6 Q1535,436.5 1529.7,435.3Z" fill="#4A8A3C"/>
<path d="M1430.3,463.5 Q1431,468.3 1435.2,471 Q1434.5,466.1 1430.3,463.5Z" fill="#4A8A3C"/>
<path d="M1438.6,412.1 Q1436.5,416.9 1439.3,421.4 Q1441.4,416.6 1438.6,412.1Z" fill="#4A8A3C"/>
<path d="M1424.6,507.7 Q1420.4,514.2 1420.4,522 Q1424.6,515.5 1424.6,507.7Z" fill="#5E9A4E"/>
<path d="M1371.7,469.4 Q1369.9,473.4 1373,476.6 Q1374.8,472.6 1371.7,469.4Z" fill="#5E9A4E"/>
<path d="M1354,463 Q1350.4,464.1 1350.2,468 Q1353.9,466.9 1354,463Z" fill="#5E9A4E"/>
<path d="M1365.6,470.1 Q1371.6,474.1 1378.7,472.5 Q1372.6,468.4 1365.6,470.1Z" fill="#5E9A4E"/>
<path d="M1414.6,478.3 Q1408,475.4 1402,479.5 Q1408.6,482.4 1414.6,478.3Z" fill="#5E9A4E"/>
<path d="M1368.6,491.7 Q1363.3,494.3 1363.9,500.2 Q1369.3,497.6 1368.6,491.7Z" fill="#5E9A4E"/>
<path d="M1362.9,423.4 Q1357.8,427.5 1359.9,433.7 Q1365.1,429.6 1362.9,423.4Z" fill="#5E9A4E"/>
<path d="M1372.7,480.9 Q1372.7,485.5 1376.8,487.6 Q1376.8,482.9 1372.7,480.9Z" fill="#5E9A4E"/>
<path d="M1408,439.1 Q1411.3,441.8 1415.1,440 Q1411.9,437.3 1408,439.1Z" fill="#5E9A4E"/>
<path d="M1354.7,470.8 Q1355,478.4 1360.4,483.8 Q1360.1,476.2 1354.7,470.8Z" fill="#5E9A4E"/>
<path d="M1354.1,445.5 Q1356.4,452.8 1363.6,455.5 Q1361.3,448.2 1354.1,445.5Z" fill="#5E9A4E"/>
<path d="M1335.9,493.9 Q1337.9,501.4 1345.5,502.8 Q1343.5,495.4 1335.9,493.9Z" fill="#5E9A4E"/>
<path d="M1379.4,508.9 Q1382.4,515.6 1389.7,514.9 Q1386.7,508.1 1379.4,508.9Z" fill="#5E9A4E"/>
<path d="M1431.7,422.7 Q1426.3,423.9 1423.3,428.5 Q1428.7,427.3 1431.7,422.7Z" fill="#5E9A4E"/>
<path d="M1399.6,510.4 Q1394.4,516.8 1397.9,524.3 Q1403.1,517.9 1399.6,510.4Z" fill="#5E9A4E"/>
<path d="M1427,490.5 Q1424.7,496.6 1430.6,499.3 Q1432.9,493.2 1427,490.5Z" fill="#5E9A4E"/>
<path d="M1354.5,426.5 Q1348.8,425.2 1344.1,428.7 Q1349.8,430 1354.5,426.5Z" fill="#5E9A4E"/>
<path d="M1422,439.8 Q1423.4,444.5 1428.1,443.4 Q1426.7,438.7 1422,439.8Z" fill="#5E9A4E"/>
<path d="M1388.4,500 Q1383.4,498.4 1380.3,502.6 Q1385.3,504.2 1388.4,500Z" fill="#5E9A4E"/>
<path d="M1381.5,451.9 Q1373.2,450.5 1367.4,456.7 Q1375.8,458.1 1381.5,451.9Z" fill="#5E9A4E"/>
<path d="M1401.5,455.4 Q1395.1,459.5 1396,467.1 Q1402.5,463 1401.5,455.4Z" fill="#5E9A4E"/>
<path d="M1354.7,444.6 Q1350,448.8 1352.9,454.5 Q1357.7,450.2 1354.7,444.6Z" fill="#5E9A4E"/>
<path d="M1432.7,410 Q1455,408.7 1467.3,390 Q1445,391.3 1432.7,410Z" fill="#3F7D32"/>
<path d="M1458.1,423.8 Q1471.9,438.5 1491.9,436.2 Q1478.1,421.5 1458.1,423.8Z" fill="#3F7D32"/>
<path d="M1495,472.3 Q1513.7,460 1515,437.7 Q1496.3,450 1495,472.3Z" fill="#3F7D32"/>
<path d="M1408.5,435.4 Q1414.9,451.1 1431.5,454.6 Q1425.1,438.9 1408.5,435.4Z" fill="#3F7D32"/>
<path d="M1101.4,559.6 Q1105.8,523.4 1116.6,488.4 Q1109.1,524 1106,560.4Z" fill="#6FA85A"/>
<path d="M1097.8,560.5 Q1080.9,502.7 1075.3,442.5 Q1083.9,502 1102.2,559.5Z" fill="#6FA85A"/>
<path d="M1137.2,560.3 Q1132.2,504.2 1119,449.5 Q1134.9,503.7 1141,559.7Z" fill="#6FA85A"/>
<path d="M1147.5,560.5 Q1136,502.6 1115.1,447.6 Q1138.2,501.9 1150.7,559.5Z" fill="#6FA85A"/>
<path d="M1173.2,559.2 Q1187.6,531.9 1196.7,502.6 Q1190.5,533 1177.4,560.8Z" fill="#6FA85A"/>
<path d="M1171.3,560.6 Q1165,532.4 1156.2,505 Q1167.7,531.6 1175.1,559.4Z" fill="#6FA85A"/>
<path d="M1141.4,560.1 Q1137.2,508.4 1138.4,456.4 Q1139.9,508.3 1145.3,559.9Z" fill="#6FA85A"/>
<path d="M1082.9,559.1 Q1096.2,529.8 1107.6,499.8 Q1099.5,531 1087.6,560.9Z" fill="#6FA85A"/>
<path d="M1139.9,559.7 Q1148.4,496.4 1159.4,433.5 Q1151.4,496.8 1144.2,560.3Z" fill="#6FA85A"/>
<path d="M1091.3,560.4 Q1080.9,516.5 1072.1,472.3 Q1083.3,516 1094.7,559.6Z" fill="#6FA85A"/>
<path d="M1146.7,560.1 Q1139.6,496.9 1141.4,433.1 Q1142.4,496.7 1150.7,559.9Z" fill="#6FA85A"/>
<path d="M1099.1,560.3 Q1090.7,508.2 1079.3,456.6 Q1092.9,507.7 1102.2,559.7Z" fill="#6FA85A"/>
<path d="M1191.6,560.3 Q1184.7,526.6 1186.3,491.9 Q1188.1,526.2 1196.4,559.7Z" fill="#6FA85A"/>
<path d="M1086.4,559.2 Q1095.4,530.5 1109.9,503.8 Q1098.2,531.6 1090.4,560.8Z" fill="#6FA85A"/>
<path d="M1121.7,559 Q1133.4,532.7 1149.5,508.6 Q1136.3,534.1 1125.8,561Z" fill="#6FA85A"/>
<path d="M1179.4,560.2 Q1179.3,525.5 1172.2,491.7 Q1181.6,525.2 1182.6,559.8Z" fill="#6FA85A"/>
<path d="M1146.4,559.7 Q1155.9,500.5 1164,441.2 Q1158.9,500.9 1150.6,560.3Z" fill="#6FA85A"/>
<path d="M1145,560.3 Q1139,526.8 1137,492.8 Q1141.6,526.4 1148.7,559.7Z" fill="#6FA85A"/>
<path d="M1089.7,559.8 Q1090,494.8 1104.3,431.2 Q1092.4,495.1 1093.1,560.2Z" fill="#6FA85A"/>
<path d="M1152.1,559.9 Q1153.9,517.1 1157.6,474.3 Q1156.1,517.2 1155.2,560.1Z" fill="#6FA85A"/>
<path d="M1112.2,560.5 Q1092.3,491.8 1086.1,420.3 Q1095.7,491.1 1117,559.5Z" fill="#6FA85A"/>
<path d="M1107.6,560.3 Q1099.7,520.1 1093,479.7 Q1101.9,519.7 1110.7,559.7Z" fill="#6FA85A"/>
<path d="M1115.9,559.7 Q1128.1,490.1 1141.1,420.6 Q1130.6,490.5 1119.5,560.3Z" fill="#6FA85A"/>
<path d="M1193.9,560 Q1192.9,513.7 1197.2,467.4 Q1195.9,513.7 1198.2,560Z" fill="#6FA85A"/>
<path d="M1071.9,560 Q1071.2,535.5 1074.2,511 Q1074.3,535.5 1076.4,560Z" fill="#6FA85A"/>
<path d="M1156.9,559.6 Q1167.7,502.2 1183.4,445.9 Q1170.6,502.8 1161,560.4Z" fill="#6FA85A"/>
<path d="M1188.2,419.9 Q1190.7,428 1188.2,436.1 Q1185.7,444.2 1185.8,457.3 Q1185.8,470.4 1181.3,475.2 Q1176.9,480 1172.5,475.1 Q1168.1,470.2 1164,467.7 Q1159.9,465.2 1159,454.8 Q1158.1,444.4 1157.3,436.2 Q1156.5,428 1157,419.5 Q1157.5,410.9 1158.6,400.6 Q1159.7,390.3 1164.1,390.8 Q1168.6,391.3 1172.8,383.1 Q1176.9,375 1178.9,388 Q1180.8,401 1183.3,406.4 Q1185.7,411.8 1188.2,419.9 Z" fill="#3F7D32" opacity="0.85"/>
<path d="M1226.2,398 Q1223.6,402 1225.6,405.8 Q1227.5,409.5 1223.1,410.6 Q1218.6,411.6 1216.6,415.8 Q1214.6,419.9 1210.1,419.3 Q1205.7,418.8 1202.7,416.1 Q1199.7,413.5 1196.1,411.5 Q1192.4,409.5 1191.8,405.8 Q1191.2,402 1195.1,399.6 Q1199,397.3 1198.8,393.3 Q1198.5,389.2 1202.1,387.2 Q1205.7,385.1 1209.9,385.6 Q1214.1,386.2 1219.1,386.2 Q1224.2,386.2 1226.5,390 Q1228.9,393.9 1226.2,398 Z" fill="#447F36" opacity="0.7"/>
<path d="M1241.5,476.9 Q1246.4,480 1242.7,483.8 Q1239,487.6 1237.7,491.9 Q1236.5,496.2 1232.8,498.3 Q1229.1,500.4 1225.6,497.2 Q1222.2,494 1220.1,492 Q1218,489.9 1213.8,489.1 Q1209.5,488.4 1211.4,484.2 Q1213.2,480 1212.5,476.4 Q1211.8,472.8 1212,467.5 Q1212.3,462.1 1216.4,460 Q1220.5,457.9 1224.1,462.5 Q1227.6,467.1 1229.8,468.6 Q1232.1,470 1234.3,471.9 Q1236.6,473.7 1241.5,476.9 Z" fill="#4E8C40" opacity="0.7"/>
<path d="M1455.1,474.9 Q1461,482 1457.6,490 Q1454.1,497.9 1446.2,503.3 Q1438.4,508.7 1427.9,507.6 Q1417.4,506.5 1409.7,507.4 Q1402,508.3 1391.9,508.4 Q1381.9,508.5 1374.6,502.9 Q1367.3,497.4 1374.5,489.7 Q1381.6,482 1381.4,476.8 Q1381.2,471.6 1380.2,462.3 Q1379.1,453 1391.1,456.2 Q1403.1,459.5 1411.4,454.7 Q1419.7,450 1426.1,455.5 Q1432.4,460.9 1440.8,464.4 Q1449.2,467.8 1455.1,474.9 Z" fill="#6DA95C" opacity="0.8"/>
<path d="M1467.6,386.3 Q1473.3,392 1468.7,398.6 Q1464.1,405.2 1463.6,414.6 Q1463,424 1458.4,429.8 Q1453.9,435.6 1449,428.2 Q1444.1,420.8 1438.7,422.2 Q1433.2,423.6 1432.6,414.3 Q1432.1,405 1432.4,398.5 Q1432.7,392 1432.3,385.4 Q1431.9,378.8 1432.6,369.8 Q1433.3,360.7 1439,363.9 Q1444.6,367 1448.8,361.1 Q1452.9,355.2 1456.1,361.7 Q1459.2,368.2 1460.5,374.4 Q1461.8,380.7 1467.6,386.3 Z" fill="#3F7D32" opacity="0.75"/>
<path d="M1525.3,399.1 Q1526.4,402 1526.4,405.3 Q1526.5,408.7 1520.5,408.4 Q1514.6,408.2 1513.6,412.8 Q1512.7,417.3 1508.2,416.8 Q1503.6,416.3 1502.4,412.4 Q1501.1,408.5 1495.8,408.4 Q1490.5,408.3 1489.5,405.2 Q1488.6,402 1492.7,400 Q1496.7,397.9 1495.7,393.7 Q1494.7,389.5 1499.8,390.5 Q1504.8,391.4 1508.1,391.1 Q1511.4,390.7 1515.2,391.2 Q1519,391.6 1521.7,393.9 Q1524.3,396.1 1525.3,399.1 Z" fill="#447F36" opacity="0.7"/>
<path d="M1389.3,479.9 Q1386.1,488 1390.2,495.6 Q1393.4,487.6 1389.3,479.9Z" fill="#3E7A30"/>
<path d="M1389.1,453.3 Q1392,461.7 1400.4,464.6 Q1397.5,456.2 1389.1,453.3Z" fill="#3E7A30"/>
<path d="M1413.4,489.8 Q1415.3,497.6 1421.7,502.3 Q1419.8,494.6 1413.4,489.8Z" fill="#3E7A30"/>
<path d="M1378.1,485.1 Q1383.4,491.8 1391.9,491.6 Q1386.6,484.9 1378.1,485.1Z" fill="#3E7A30"/>
<path d="M1396.4,453.2 Q1398.3,457.8 1403.1,456.7 Q1401.3,452.1 1396.4,453.2Z" fill="#3E7A30"/>
<path d="M1387.9,462.4 Q1388.9,468.9 1395.4,469.2 Q1394.4,462.7 1387.9,462.4Z" fill="#3E7A30"/>
<path d="M1422.5,473.1 Q1417.3,473.9 1415.6,478.9 Q1420.8,478.1 1422.5,473.1Z" fill="#3E7A30"/>
<path d="M1433,491.6 Q1434.3,499.9 1441.8,503.6 Q1440.5,495.3 1433,491.6Z" fill="#3E7A30"/>
<path d="M1394.5,485.1 Q1387.6,483 1382.9,488.6 Q1389.9,490.6 1394.5,485.1Z" fill="#3E7A30"/>
<path d="M1439,509.7 Q1431.6,510.4 1428.7,517.2 Q1436,516.4 1439,509.7Z" fill="#3E7A30"/>
<path d="M1406.3,495.4 Q1406.9,503.4 1413.2,508.4 Q1412.6,500.3 1406.3,495.4Z" fill="#3E7A30"/>
<path d="M1398.5,484.3 Q1397.4,490.9 1402.5,495.3 Q1403.5,488.7 1398.5,484.3Z" fill="#3E7A30"/>
<path d="M1421.4,494.2 Q1428.9,498.9 1436.7,494.8 Q1429.2,490.1 1421.4,494.2Z" fill="#3E7A30"/>
<path d="M1398.1,494.2 Q1399.5,500.7 1406,502.4 Q1404.6,495.8 1398.1,494.2Z" fill="#3E7A30"/>
<path d="M1407,504.3 Q1399.8,501.9 1394.7,507.6 Q1401.9,510 1407,504.3Z" fill="#3E7A30"/>
<path d="M1451.1,504.6 Q1442.7,502.1 1436.3,507.9 Q1444.6,510.4 1451.1,504.6Z" fill="#3E7A30"/>
<path d="M1408.3,476.1 Q1402.8,472.6 1397.9,476.9 Q1403.4,480.4 1408.3,476.1Z" fill="#3E7A30"/>
<path d="M1420.4,477.2 Q1423.3,480.2 1427.1,478.6 Q1424.2,475.6 1420.4,477.2Z" fill="#3E7A30"/>
<path d="M1386.9,449.2 Q1381.5,447.3 1377,450.8 Q1382.4,452.8 1386.9,449.2Z" fill="#3E7A30"/>
<path d="M1382.6,448.5 Q1378,455.9 1382,463.5 Q1386.6,456.2 1382.6,448.5Z" fill="#3E7A30"/>
<path d="M1408.4,470.4 Q1412.3,474.5 1417.9,473.5 Q1414,469.4 1408.4,470.4Z" fill="#3E7A30"/>
<path d="M1451.2,499.7 Q1446,505.4 1445.1,513 Q1450.3,507.4 1451.2,499.7Z" fill="#3E7A30"/>
<path d="M1371.9,494.9 Q1373.2,499.6 1377.8,498.1 Q1376.5,493.4 1371.9,494.9Z" fill="#3E7A30"/>
<path d="M1452.3,506.1 Q1445.6,506 1444.3,512.6 Q1451,512.6 1452.3,506.1Z" fill="#3E7A30"/>
<path d="M1388,499.5 Q1381.9,504.5 1380.5,512.2 Q1386.5,507.2 1388,499.5Z" fill="#3E7A30"/>
<path d="M1398.8,448.8 Q1393.1,449.8 1390,454.6 Q1395.7,453.7 1398.8,448.8Z" fill="#3E7A30"/>
<path d="M1423.9,461.1 Q1424.1,466.6 1428.2,470.1 Q1428,464.7 1423.9,461.1Z" fill="#3E7A30"/>
<path d="M1416.7,496.2 Q1414.6,504.6 1419.5,511.7 Q1421.6,503.4 1416.7,496.2Z" fill="#3E7A30"/>
<path d="M1446.7,485.5 Q1439.1,485.2 1433.4,490.3 Q1441.1,490.6 1446.7,485.5Z" fill="#3E7A30"/>
<path d="M1387.1,471.8 Q1382.8,474.6 1384.1,479.6 Q1388.3,476.7 1387.1,471.8Z" fill="#3E7A30"/>
<path d="M1395,367 L1395,440.8" stroke="#7CB956" stroke-width="3" fill="none"/><path d="M1387.9,366.1 Q1389,371.9 1394.5,369.9 Q1393.5,364.1 1387.9,366.1Z" fill="#7CB956"/><path d="M1395.5,369.9 Q1401,371.9 1402.1,366.1 Q1396.5,364.1 1395.5,369.9Z" fill="#7CB956"/><path d="M1386.1,375.9 Q1388,382.1 1394.4,380.6 Q1392.5,374.4 1386.1,375.9Z" fill="#7CB956"/><path d="M1395.6,380.6 Q1402,382.1 1403.9,375.9 Q1397.5,374.4 1395.6,380.6Z" fill="#7CB956"/><path d="M1384.4,385.6 Q1387.1,392.4 1394.3,391.4 Q1391.6,384.6 1384.4,385.6Z" fill="#7CB956"/><path d="M1395.7,391.4 Q1402.9,392.4 1405.6,385.6 Q1398.4,384.6 1395.7,391.4Z" fill="#7CB956"/><path d="M1382.6,395.4 Q1386.1,402.6 1394.2,402.1 Q1390.6,394.9 1382.6,395.4Z" fill="#7CB956"/><path d="M1395.8,402.1 Q1403.9,402.6 1407.4,395.4 Q1399.4,394.9 1395.8,402.1Z" fill="#7CB956"/><path d="M1380.8,405.2 Q1385.2,412.9 1394.1,412.8 Q1389.7,405.1 1380.8,405.2Z" fill="#7CB956"/><path d="M1395.9,412.8 Q1404.8,412.9 1409.2,405.2 Q1400.3,405.1 1395.9,412.8Z" fill="#7CB956"/>
<path d="M1062,604 1062,536.2 1076.7,525.2 1091.3,517.8 1106,512.3 1120.7,495.8 1135.3,490.5 1150,490.7 1164.7,500.8 1179.3,495.9 1194,513.2 1208.7,522.1 1223.3,525.5 1238,544.6 1238,604Z" fill="#A3CD8C"/>
<path d="M1141.2,604 L1140.7,559.1" stroke="#5EA040" stroke-width="4.5"/>
<path d="M1195.4,604 L1197.7,575.5" stroke="#5EA040" stroke-width="5.3"/>
<path d="M1127.3,604 L1130,578.7" stroke="#5EA040" stroke-width="5.7"/>
<path d="M1177.3,604 L1174.7,582.7" stroke="#5EA040" stroke-width="5.4"/>
<path d="M1100.2,604 L1102.3,559.3" stroke="#5EA040" stroke-width="4.3"/>
<path d="M1155.2,604 L1154.9,563.8" stroke="#5EA040" stroke-width="7.2"/>
<path d="M1188.6,604 L1186.8,568" stroke="#5EA040" stroke-width="5.9"/>
<path d="M1110.3,604 L1109,569.7" stroke="#6DAA50" stroke-width="6.6"/>
<path d="M1206.5,604 L1209.2,559.6" stroke="#5EA040" stroke-width="7.2"/>
<path d="M1117.5,604 L1115.5,568.4" stroke="#88C070" stroke-width="7.4"/>
<path d="M1115.6,604 L1113.6,583.3" stroke="#88C070" stroke-width="5.5"/>
<path d="M1224.1,577.1 Q1230.7,571.4 1229.5,562.7 Q1222.8,568.4 1224.1,577.1Z" fill="#7FB866"/>
<path d="M1215.4,529.9 Q1219,522.2 1213.9,515.5 Q1210.3,523.1 1215.4,529.9Z" fill="#7FB866"/>
<path d="M1073.1,581.2 Q1080.6,574.6 1075.2,566.2 Q1067.7,572.8 1073.1,581.2Z" fill="#7FB866"/>
<path d="M1229.9,536.6 Q1233.9,527.6 1224.9,523.6 Q1220.9,532.6 1229.9,536.6Z" fill="#7FB866"/>
<path d="M1071.4,572.9 Q1081.4,568.1 1080.1,557 Q1070.1,561.9 1071.4,572.9Z" fill="#7FB866"/>
<path d="M1145,573.8 Q1153.1,564.7 1151.8,552.6 Q1143.7,561.7 1145,573.8Z" fill="#7FB866"/>
<path d="M1168,566.3 Q1171,555.3 1167.7,544.3 Q1164.8,555.3 1168,566.3Z" fill="#7FB866"/>
<path d="M1196.7,560.3 Q1200.7,553.2 1198,545.5 Q1193.9,552.6 1196.7,560.3Z" fill="#7FB866"/>
<path d="M1140.1,604.2 Q1146.1,598 1141.7,590.7 Q1135.7,596.8 1140.1,604.2Z" fill="#7FB866"/>
<path d="M1217.1,598.3 Q1227.4,590.9 1225.1,578.4 Q1214.8,585.8 1217.1,598.3Z" fill="#7FB866"/>
<path d="M1179.8,569.3 Q1186.7,561.2 1183.8,551 Q1176.9,559 1179.8,569.3Z" fill="#7FB866"/>
<path d="M1152,539.3 Q1155.9,531.2 1149.2,525.3 Q1145.2,533.4 1152,539.3Z" fill="#7FB866"/>
<path d="M1205,548.8 Q1208.7,539.9 1202.3,532.6 Q1198.6,541.5 1205,548.8Z" fill="#7FB866"/>
<path d="M1102,545.2 Q1103.6,535.1 1094.4,530.5 Q1092.8,540.7 1102,545.2Z" fill="#7FB866"/>
<path d="M1175.4,581.9 Q1181.9,576.8 1181.1,568.6 Q1174.6,573.7 1175.4,581.9Z" fill="#7FB866"/>
<path d="M1097.1,595.8 Q1105.3,591 1103.7,581.6 Q1095.6,586.4 1097.1,595.8Z" fill="#7FB866"/>
<path d="M1109.2,598.7 Q1115.9,594.5 1113.4,587 Q1106.7,591.2 1109.2,598.7Z" fill="#7FB866"/>
<path d="M1114.6,566.8 Q1117.6,556.9 1109.5,550.4 Q1106.5,560.3 1114.6,566.8Z" fill="#7FB866"/>
<path d="M1073.5,560.8 Q1075.5,550 1069.7,540.6 Q1067.7,551.4 1073.5,560.8Z" fill="#7FB866"/>
<path d="M1112.8,600.4 Q1119.3,596.4 1119,588.7 Q1112.5,592.7 1112.8,600.4Z" fill="#7FB866"/>
<path d="M1212.9,583.1 Q1219.4,572.7 1216.4,560.8 Q1209.9,571.2 1212.9,583.1Z" fill="#7FB866"/>
<path d="M1174.6,554.6 Q1180,549.7 1178.6,542.4 Q1173.2,547.4 1174.6,554.6Z" fill="#7FB866"/>
<path d="M1207.5,603.9 Q1209.7,595.5 1204,588.9 Q1201.8,597.3 1207.5,603.9Z" fill="#7FB866"/>
<path d="M1211.7,540.8 Q1221.2,537 1219.1,527 Q1209.6,530.8 1211.7,540.8Z" fill="#7FB866"/>
<path d="M1102.6,534.3 Q1111.8,527.3 1109.7,516 Q1100.5,522.9 1102.6,534.3Z" fill="#7FB866"/>
<path d="M1178.7,579.3 Q1185.2,573.1 1178.6,567 Q1172,573.2 1178.7,579.3Z" fill="#7FB866"/>
<path d="M1113.9,564 Q1121.3,554.1 1120.9,541.8 Q1113.6,551.6 1113.9,564Z" fill="#7FB866"/>
<path d="M1138,541.2 Q1138.3,528.4 1127.7,521.1 Q1127.5,533.9 1138,541.2Z" fill="#7FB866"/>
<path d="M1162.5,601.9 Q1168.2,593.9 1161.2,587.1 Q1155.5,595.1 1162.5,601.9Z" fill="#7FB866"/>
<polygon points="1216,521.5 1217.8,526.4 1223.1,526.6 1219,529.9 1220.4,534.9 1216,532 1211.6,534.9 1213,529.9 1208.9,526.6 1214.2,526.4" fill="#F6FBF2"/>
<polygon points="1157.9,523 1160.3,529.6 1167.3,529.9 1161.9,534.2 1163.7,541 1157.9,537.1 1152.1,541 1153.9,534.2 1148.5,529.9 1155.4,529.6" fill="#F6FBF2"/>
<polygon points="1191.6,530.2 1194.1,536.8 1201.2,537.1 1195.7,541.5 1197.6,548.4 1191.6,544.4 1185.7,548.4 1187.6,541.5 1182.1,537.1 1189.2,536.8" fill="#F6FBF2"/>
<polygon points="1119.4,556.6 1122.1,563.7 1129.7,564 1123.7,568.7 1125.8,576 1119.4,571.8 1113.1,576 1115.2,568.7 1109.2,564 1116.8,563.7" fill="#F6FBF2"/>
<polygon points="1106.1,562.7 1108.3,568.8 1114.8,569 1109.7,573.1 1111.5,579.3 1106.1,575.7 1100.7,579.3 1102.4,573.1 1097.3,569 1103.8,568.8" fill="#F6FBF2"/>
<polygon points="1082.3,536.1 1084.5,542 1090.7,542.3 1085.8,546.2 1087.5,552.2 1082.3,548.8 1077,552.2 1078.7,546.2 1073.8,542.3 1080.1,542" fill="#F6FBF2"/>
<polygon points="1113.5,554.7 1115.9,561.1 1122.7,561.4 1117.3,565.6 1119.2,572.2 1113.5,568.4 1107.8,572.2 1109.6,565.6 1104.3,561.4 1111.1,561.1" fill="#F6FBF2"/>
<polygon points="1070.5,547.6 1073.2,554.8 1080.9,555.2 1074.9,560 1077,567.4 1070.5,563.1 1064.1,567.4 1066.2,560 1060.2,555.2 1067.8,554.8" fill="#F6FBF2"/>
<polygon points="1174,515.2 1176.7,522.4 1184.4,522.8 1178.4,527.6 1180.4,535 1174,530.8 1167.5,535 1169.6,527.6 1163.5,522.8 1171.3,522.4" fill="#F6FBF2"/>
<polygon points="1144.4,524.5 1147.1,531.6 1154.7,531.9 1148.7,536.6 1150.8,543.9 1144.4,539.7 1138.1,543.9 1140.1,536.6 1134.2,531.9 1141.8,531.6" fill="#F6FBF2"/>
<polygon points="1132.7,563 1135.1,569.3 1141.7,569.6 1136.5,573.7 1138.3,580.1 1132.7,576.5 1127.1,580.1 1128.9,573.7 1123.7,569.6 1130.4,569.3" fill="#F6FBF2"/>
<polygon points="1102.4,517.8 1104.1,522.5 1109.2,522.8 1105.2,525.9 1106.6,530.8 1102.4,528 1098.1,530.8 1099.5,525.9 1095.5,522.8 1100.6,522.5" fill="#F6FBF2"/>
<polygon points="1209.1,531 1211.7,538 1219.1,538.3 1213.3,542.9 1215.3,550.1 1209.1,546 1202.9,550.1 1204.9,542.9 1199.1,538.3 1206.5,538" fill="#F6FBF2"/>
<polygon points="1135.9,556.3 1137.8,561.3 1143.1,561.5 1139,564.9 1140.4,570 1135.9,567 1131.5,570 1132.9,564.9 1128.8,561.5 1134.1,561.3" fill="#F6FBF2"/>
<polygon points="1224.4,555.6 1227.1,562.8 1234.7,563.1 1228.7,567.8 1230.8,575.2 1224.4,571 1218,575.2 1220.1,567.8 1214.1,563.1 1221.7,562.8" fill="#F6FBF2"/>
<polygon points="1152.6,524.3 1154.6,529.6 1160.2,529.8 1155.8,533.3 1157.3,538.7 1152.6,535.6 1148,538.7 1149.5,533.3 1145.1,529.8 1150.7,529.6" fill="#F6FBF2"/>
<polygon points="1111.2,508.4 1113,513.2 1118.1,513.4 1114.1,516.6 1115.5,521.5 1111.2,518.7 1107,521.5 1108.3,516.6 1104.3,513.4 1109.4,513.2" fill="#F6FBF2"/>
<polygon points="1209.4,521.6 1211.8,528 1218.7,528.4 1213.3,532.7 1215.2,539.3 1209.4,535.5 1203.6,539.3 1205.4,532.7 1200,528.4 1206.9,528" fill="#F6FBF2"/>
<polygon points="1101.4,547.2 1103.6,553 1109.8,553.3 1104.9,557.2 1106.6,563.2 1101.4,559.8 1096.2,563.2 1097.8,557.2 1092.9,553.3 1099.2,553" fill="#F6FBF2"/>
<polygon points="1114,523.2 1116.6,530.2 1124.1,530.6 1118.2,535.3 1120.3,542.5 1114,538.4 1107.7,542.5 1109.7,535.3 1103.8,530.6 1111.3,530.2" fill="#F6FBF2"/>
<polygon points="1194,560.5 1196.3,566.7 1202.9,567 1197.7,571.1 1199.5,577.5 1194,573.8 1188.5,577.5 1190.2,571.1 1185,567 1191.7,566.7" fill="#F6FBF2"/>
<polygon points="1201.3,532.4 1203.1,537.2 1208.2,537.4 1204.2,540.6 1205.6,545.6 1201.3,542.7 1197,545.6 1198.4,540.6 1194.4,537.4 1199.5,537.2" fill="#F6FBF2"/>
<polygon points="1174.2,564.2 1176.8,571 1184,571.3 1178.3,575.8 1180.3,582.8 1174.2,578.8 1168.2,582.8 1170.1,575.8 1164.5,571.3 1171.7,571" fill="#F6FBF2"/>
<polygon points="1224.4,507.1 1227,514 1234.3,514.3 1228.6,518.8 1230.6,525.9 1224.4,521.9 1218.3,525.9 1220.3,518.8 1214.5,514.3 1221.9,514" fill="#F6FBF2"/>
<polygon points="1183.3,522 1185.7,528.4 1192.5,528.7 1187.2,532.9 1189,539.5 1183.3,535.7 1177.7,539.5 1179.5,532.9 1174.1,528.7 1180.9,528.4" fill="#F6FBF2"/>
<polygon points="1142.1,514.3 1144.3,520.3 1150.7,520.6 1145.7,524.5 1147.4,530.7 1142.1,527.2 1136.8,530.7 1138.5,524.5 1133.5,520.6 1139.8,520.3" fill="#F6FBF2"/>
<polygon points="1123.4,564.2 1126,571.2 1133.4,571.5 1127.6,576.1 1129.6,583.2 1123.4,579.1 1117.2,583.2 1119.2,576.1 1113.4,571.5 1120.8,571.2" fill="#F6FBF2"/>
<polygon points="1146.3,510.7 1148.4,516.5 1154.6,516.8 1149.8,520.6 1151.4,526.5 1146.3,523.1 1141.1,526.5 1142.8,520.6 1138,516.8 1144.1,516.5" fill="#F6FBF2"/>
<polygon points="1094.9,519.4 1097,524.8 1102.8,525.1 1098.2,528.7 1099.8,534.4 1094.9,531.1 1090.1,534.4 1091.6,528.7 1087,525.1 1092.9,524.8" fill="#F6FBF2"/>
<polygon points="1206.3,524.2 1208.1,529 1213.2,529.2 1209.2,532.4 1210.6,537.3 1206.3,534.5 1202.1,537.3 1203.4,532.4 1199.4,529.2 1204.5,529" fill="#F6FBF2"/>
<polygon points="1122,549 1124.5,555.8 1131.8,556.2 1126.1,560.7 1128.1,567.8 1122,563.7 1115.9,567.8 1117.8,560.7 1112.1,556.2 1119.4,555.8" fill="#F6FBF2"/>
<polygon points="1200.8,552 1202.7,557.2 1208.3,557.5 1203.9,561 1205.4,566.3 1200.8,563.3 1196.1,566.3 1197.6,561 1193.3,557.5 1198.8,557.2" fill="#F6FBF2"/>
<path d="M1334,616 1334,545.4 1348.7,529.8 1363.3,515.5 1378,513.4 1392.7,500.7 1407.3,504.3 1422,500.6 1436.7,518.8 1451.3,539.8 1466,552.6 1466,616Z" fill="#A3CD8C"/>
<path d="M1455.1,616 L1457.4,586.7" stroke="#5EA040" stroke-width="6.2"/>
<path d="M1434.9,616 L1435.1,583.9" stroke="#5EA040" stroke-width="7.3"/>
<path d="M1456.2,616 L1454.4,594" stroke="#5EA040" stroke-width="4.1"/>
<path d="M1403.2,616 L1404.5,585" stroke="#6DAA50" stroke-width="4.2"/>
<path d="M1342.7,616 L1341.9,591.9" stroke="#6DAA50" stroke-width="6.9"/>
<path d="M1399.1,616 L1399.3,575.7" stroke="#6DAA50" stroke-width="6.3"/>
<path d="M1409.4,616 L1411,581.3" stroke="#5EA040" stroke-width="5.2"/>
<path d="M1347.8,616 L1348.7,575" stroke="#6DAA50" stroke-width="5.7"/>
<path d="M1344.3,572.5 Q1351.3,562.9 1348.9,551.2 Q1342,560.9 1344.3,572.5Z" fill="#7FB866"/>
<path d="M1351.3,533.5 Q1352.4,523.1 1347.2,514 Q1346.1,524.4 1351.3,533.5Z" fill="#7FB866"/>
<path d="M1382.9,541.3 Q1388.4,537.2 1388.5,530.3 Q1383,534.4 1382.9,541.3Z" fill="#7FB866"/>
<path d="M1420.1,613.9 Q1429.7,608.1 1426.7,597.3 Q1417.1,603 1420.1,613.9Z" fill="#7FB866"/>
<path d="M1415.8,575.3 Q1418.5,565.8 1413.5,557.3 Q1410.8,566.8 1415.8,575.3Z" fill="#7FB866"/>
<path d="M1426.4,547 Q1432.6,536.5 1428.8,524.9 Q1422.6,535.4 1426.4,547Z" fill="#7FB866"/>
<path d="M1443.3,583.4 Q1443.4,575.5 1436.5,571.5 Q1436.4,579.4 1443.3,583.4Z" fill="#7FB866"/>
<path d="M1338.6,614.7 Q1348,607.5 1344.2,596.4 Q1334.8,603.5 1338.6,614.7Z" fill="#7FB866"/>
<path d="M1382,617.4 Q1381.5,604.9 1372.3,596.5 Q1372.8,609 1382,617.4Z" fill="#7FB866"/>
<path d="M1375.7,541.3 Q1380.7,534 1379.3,525.3 Q1374.2,532.6 1375.7,541.3Z" fill="#7FB866"/>
<path d="M1459.7,548.1 Q1464.8,537.3 1459.3,526.7 Q1454.1,537.5 1459.7,548.1Z" fill="#7FB866"/>
<path d="M1445.4,562.4 Q1453.3,554.2 1455.6,543.1 Q1447.7,551.2 1445.4,562.4Z" fill="#7FB866"/>
<path d="M1358.6,529.4 Q1366.4,519.4 1362.7,507.2 Q1354.9,517.3 1358.6,529.4Z" fill="#7FB866"/>
<path d="M1429.9,558.7 Q1436.8,554.7 1436,546.8 Q1429.2,550.8 1429.9,558.7Z" fill="#7FB866"/>
<path d="M1456.1,547.1 Q1464.1,541.1 1463.3,531.3 Q1455.3,537.2 1456.1,547.1Z" fill="#7FB866"/>
<path d="M1341.5,601.2 Q1343.5,592.3 1335.8,587.3 Q1333.9,596.3 1341.5,601.2Z" fill="#7FB866"/>
<path d="M1345.1,607.6 Q1354.8,601.8 1351.8,590.9 Q1342,596.7 1345.1,607.6Z" fill="#7FB866"/>
<path d="M1431.3,534.4 Q1438.3,524.9 1431.3,515.3 Q1424.3,524.8 1431.3,534.4Z" fill="#7FB866"/>
<path d="M1349.3,546.5 Q1352.8,533.2 1343,523.5 Q1339.5,536.8 1349.3,546.5Z" fill="#7FB866"/>
<path d="M1373.1,591.7 Q1380.8,585.6 1381.9,575.9 Q1374.2,582 1373.1,591.7Z" fill="#7FB866"/>
<path d="M1413.4,557.5 Q1419.8,552.9 1416.6,545.7 Q1410.1,550.3 1413.4,557.5Z" fill="#7FB866"/>
<path d="M1361.4,536.3 Q1366.7,525.2 1358.7,515.8 Q1353.4,526.9 1361.4,536.3Z" fill="#7FB866"/>
<polygon points="1396.9,555.8 1399.1,561.8 1405.5,562.1 1400.5,566.1 1402.2,572.3 1396.9,568.7 1391.5,572.3 1393.2,566.1 1388.2,562.1 1394.6,561.8" fill="#F6FBF2"/>
<polygon points="1356.9,528.2 1358.8,533.3 1364.3,533.6 1360,537 1361.5,542.3 1356.9,539.3 1352.3,542.3 1353.8,537 1349.4,533.6 1355,533.3" fill="#F6FBF2"/>
<polygon points="1364.9,512.5 1367,518.1 1373,518.4 1368.3,522.2 1369.9,528 1364.9,524.7 1359.8,528 1361.5,522.2 1356.7,518.4 1362.8,518.1" fill="#F6FBF2"/>
<polygon points="1367.4,573.5 1369.5,579 1375.3,579.2 1370.7,582.9 1372.3,588.5 1367.4,585.3 1362.6,588.5 1364.1,582.9 1359.6,579.2 1365.4,579" fill="#F6FBF2"/>
<polygon points="1453.7,570.8 1455.7,576.1 1461.4,576.4 1457,579.9 1458.5,585.4 1453.7,582.3 1449,585.4 1450.5,579.9 1446,576.4 1451.7,576.1" fill="#F6FBF2"/>
<polygon points="1359.9,550.9 1362.1,556.7 1368.3,557 1363.4,560.9 1365.1,567 1359.9,563.5 1354.7,567 1356.3,560.9 1351.4,557 1357.7,556.7" fill="#F6FBF2"/>
<polygon points="1404.1,514.7 1406.3,520.8 1412.7,521 1407.7,525 1409.4,531.2 1404.1,527.7 1398.7,531.2 1400.4,525 1395.4,521 1401.8,520.8" fill="#F6FBF2"/>
<polygon points="1430.1,541.6 1432.1,546.9 1437.7,547.1 1433.3,550.7 1434.8,556.1 1430.1,553 1425.4,556.1 1426.9,550.7 1422.4,547.1 1428.1,546.9" fill="#F6FBF2"/>
<polygon points="1449,526.7 1451.7,534 1459.4,534.3 1453.4,539.1 1455.4,546.6 1449,542.3 1442.5,546.6 1444.6,539.1 1438.5,534.3 1446.3,534" fill="#F6FBF2"/>
<polygon points="1421.9,505.4 1424.1,511.2 1430.3,511.5 1425.4,515.3 1427.1,521.3 1421.9,517.9 1416.7,521.3 1418.4,515.3 1413.5,511.5 1419.7,511.2" fill="#F6FBF2"/>
<polygon points="1359.3,568.2 1361.4,574 1367.6,574.2 1362.8,578 1364.4,583.9 1359.3,580.6 1354.2,583.9 1355.8,578 1351,574.2 1357.2,574" fill="#F6FBF2"/>
<polygon points="1351.9,580 1354.4,586.7 1361.6,587 1356,591.5 1357.9,598.4 1351.9,594.4 1345.9,598.4 1347.8,591.5 1342.2,587 1349.4,586.7" fill="#F6FBF2"/>
<polygon points="1412.5,552.1 1414.3,556.9 1419.4,557.2 1415.4,560.4 1416.8,565.3 1412.5,562.5 1408.2,565.3 1409.6,560.4 1405.6,557.2 1410.7,556.9" fill="#F6FBF2"/>
<polygon points="1456,529 1458.2,535 1464.6,535.3 1459.6,539.3 1461.3,545.5 1456,542 1450.6,545.5 1452.3,539.3 1447.3,535.3 1453.7,535" fill="#F6FBF2"/>
<polygon points="1398.8,544.7 1400.6,549.4 1405.6,549.6 1401.7,552.7 1403,557.5 1398.8,554.8 1394.7,557.5 1396,552.7 1392.1,549.6 1397.1,549.4" fill="#F6FBF2"/>
<polygon points="1445.6,544.8 1447.7,550.5 1453.8,550.8 1449,554.5 1450.6,560.3 1445.6,557 1440.6,560.3 1442.2,554.5 1437.5,550.8 1443.5,550.5" fill="#F6FBF2"/>
<polygon points="1441.8,572.9 1444.3,579.5 1451.2,579.8 1445.8,584.1 1447.6,590.8 1441.8,587 1436,590.8 1437.9,584.1 1432.4,579.8 1439.4,579.5" fill="#F6FBF2"/>
<polygon points="1447.3,534.5 1449.1,539.4 1454.3,539.7 1450.2,542.9 1451.6,548 1447.3,545.1 1442.9,548 1444.3,542.9 1440.2,539.7 1445.4,539.4" fill="#F6FBF2"/>
<polygon points="1382.3,552 1384.8,558.7 1392,559 1386.4,563.4 1388.3,570.3 1382.3,566.4 1376.4,570.3 1378.3,563.4 1372.7,559 1379.8,558.7" fill="#F6FBF2"/>
<polygon points="1427.2,555 1429.5,561.2 1436.1,561.5 1430.9,565.6 1432.7,572 1427.2,568.3 1421.7,572 1423.4,565.6 1418.2,561.5 1424.9,561.2" fill="#F6FBF2"/>
<polygon points="1419.3,552.9 1421,557.6 1426,557.8 1422.1,560.9 1423.4,565.7 1419.3,563 1415.1,565.7 1416.4,560.9 1412.5,557.8 1417.5,557.6" fill="#F6FBF2"/>
<polygon points="1405.4,528.8 1407.2,533.6 1412.3,533.8 1408.3,537 1409.7,541.9 1405.4,539.1 1401.1,541.9 1402.5,537 1398.5,533.8 1403.6,533.6" fill="#F6FBF2"/>
<polygon points="1413,573.1 1415,578.5 1420.8,578.8 1416.3,582.3 1417.8,587.8 1413,584.7 1408.3,587.8 1409.8,582.3 1405.3,578.8 1411,578.5" fill="#F6FBF2"/>
<polygon points="1419.7,554.3 1422.1,560.7 1429,561 1423.6,565.3 1425.4,571.9 1419.7,568.1 1414,571.9 1415.8,565.3 1410.5,561 1417.3,560.7" fill="#F6FBF2"/>
<path d="M1371.9,504.5 Q1395.7,473.1 1384.1,435.5 Q1360.3,466.9 1371.9,504.5Z" fill="#5E9B4A"/>
<path d="M1277.7,615.8 1276.4,583.7 1275.2,551.5 1274.2,519.3 1273.3,487.2 1272.5,455 1271.9,422.8 1271.3,390.6 1270.8,358.4 1270.5,326.2 1270,294 1270,294 1268.7,326.2 1267.8,358.4 1267.1,390.6 1266.6,422.8 1266.2,455 1266,487.3 1265.9,519.5 1266,551.7 1266.3,583.9 1266.7,616.2Z" fill="url(#gBr)"/>
<path d="M1318.3,615.2 1313.8,585.3 1308.8,555.5 1303.3,525.8 1297.3,496.3 1290.8,466.9 1283.7,437.6 1276.2,408.5 1268.1,379.5 1259.4,350.6 1250,322 1250,322 1257.4,351.2 1264.5,380.4 1271.2,409.7 1277.4,439.1 1283.2,468.5 1288.5,498 1293.3,527.6 1297.7,557.3 1301.6,587 1304.9,616.8Z" fill="url(#gBr)"/>
<path d="M1301.2,616 1300.9,587.4 1300.6,558.8 1300.2,530.2 1299.8,501.6 1299.4,473 1298.9,444.4 1298.3,415.8 1297.7,387.2 1297,358.6 1296,330 1296,330 1295,358.6 1294.3,387.2 1293.6,415.8 1293,444.4 1292.3,473 1291.6,501.6 1291,530.2 1290.3,558.8 1289.6,587.4 1288.9,616Z" fill="url(#gBr)"/>
<path d="M1304.9,616.5 1306.3,590.8 1308.1,565.1 1310.1,539.4 1312.3,513.7 1314.7,488.1 1317.4,462.5 1320.3,436.8 1323.4,411.2 1326.7,385.6 1330,360 1330,360 1324.6,385.3 1319.8,410.7 1315.2,436.1 1311,461.6 1307,487.1 1303.4,512.7 1300,538.3 1296.9,564 1294,589.7 1291.4,615.5Z" fill="url(#gBr)"/>
<path d="M1308.7,614.6 1302.7,589.7 1296.1,565 1288.7,540.7 1280.8,516.5 1272.1,492.7 1262.7,469.2 1252.6,445.9 1241.9,422.9 1230.4,400.3 1218,378 1218,378 1228.4,401.2 1238.4,424.5 1247.7,447.9 1256.4,471.6 1264.5,495.4 1271.9,519.4 1278.7,543.6 1284.8,568 1290.2,592.6 1295,617.4Z" fill="url(#gBr)"/>
<path d="M1312.1,614.1 1300.9,582.8 1288.5,552.1 1274.9,522.2 1260.2,492.9 1244.4,464.3 1227.5,436.4 1209.4,409.2 1190.1,382.7 1169.7,356.9 1148,332 1148,332 1168.1,358.2 1187.3,384.8 1205.4,411.9 1222.3,439.6 1238.1,467.9 1252.7,496.7 1266.3,526.1 1278.7,556.1 1290,586.7 1300.1,617.9Z" fill="url(#gBr)"/>
<path d="M1260.7,617.4 1266.4,596 1272.9,574.9 1280.1,554.2 1288.1,533.7 1296.9,513.7 1306.4,493.9 1316.7,474.5 1327.8,455.4 1339.6,436.6 1352,418 1352,418 1338.2,435.6 1325.3,453.8 1313.1,472.4 1301.8,491.4 1291.3,510.9 1281.5,530.8 1272.5,551.1 1264.3,571.9 1256.9,593 1250.2,614.6Z" fill="url(#gBr)"/>
<path d="M1304.5,615.6 1302.4,584.1 1300.5,552.6 1298.7,521.1 1297.1,489.5 1295.7,458 1294.3,426.4 1293.1,394.8 1292.1,363.2 1291.1,331.6 1290,300 1290,300 1288.9,331.6 1288.2,363.2 1287.8,394.9 1287.6,426.5 1287.7,458.1 1287.9,489.8 1288.3,521.4 1288.8,553.1 1289.6,584.7 1290.6,616.4Z" fill="url(#gBr)"/>
<path d="M1295,615.1 1290.9,595.8 1286.3,576.7 1281.2,557.7 1275.6,538.9 1269.6,520.3 1263.1,501.9 1256.1,483.6 1248.6,465.5 1240.6,447.6 1232,430 1232,430 1239.1,448.3 1246,466.6 1252.4,485 1258.4,503.5 1263.9,522.1 1269,540.8 1273.7,559.7 1277.8,578.6 1281.6,597.7 1284.8,616.9Z" fill="url(#gBr)"/>
<path d="M1309.6,616.1 1309.3,601.5 1309.1,587 1309,572.4 1309,557.8 1309,543.2 1309.2,528.6 1309.4,513.9 1309.6,499.3 1309.9,484.7 1310,470 1310,470 1307.5,484.5 1305.4,499 1303.6,513.5 1301.9,528.1 1300.3,542.7 1298.9,557.3 1297.6,571.9 1296.4,586.5 1295.4,601.2 1294.4,615.9Z" fill="url(#gBr)"/>
<path d="M1311.9,615.4 1308.6,588.6 1304.9,561.7 1300.9,535 1296.5,508.3 1291.7,481.7 1286.6,455.2 1281.1,428.8 1275.2,402.4 1268.9,376.1 1262,350 1262,350 1267.1,376.5 1272.2,403 1276.9,429.6 1281.3,456.2 1285.3,482.8 1289.1,509.5 1292.5,536.2 1295.5,562.9 1298.2,589.7 1300.6,616.6Z" fill="url(#gBr)"/>
<path d="M1304.4,613.2 1296.6,596.9 1288.2,580.9 1279.3,565.5 1269.7,550.4 1259.6,535.8 1248.9,521.7 1237.6,508 1225.7,494.8 1213.2,482.1 1200,470 1200,470 1211.6,483.6 1222.7,497.4 1233.3,511.4 1243.3,525.7 1252.7,540.4 1261.6,555.4 1269.8,570.7 1277.5,586.4 1284.6,602.4 1291.1,618.8Z" fill="url(#gBr)"/>
<path d="M1260.2,616.5 1261.4,594.8 1262.7,573.1 1264.3,551.5 1266,529.8 1267.9,508.2 1270.1,486.5 1272.4,464.9 1274.8,443.3 1277.5,421.7 1280,400 1280,400 1275.3,421.3 1271,442.7 1267.1,464.1 1263.4,485.6 1260,507.2 1256.8,528.8 1253.8,550.4 1251.1,572 1248.5,593.7 1246.3,615.5Z" fill="url(#gBr)"/>
<path d="M1260.2,616.3 1260.3,599.6 1260.3,583 1260.2,566.3 1259.9,549.7 1259.5,533.1 1259,516.4 1258.3,499.8 1257.5,483.2 1256.4,466.6 1255,450 1255,450 1254.2,466.6 1253.6,483.2 1252.9,499.8 1252.2,516.4 1251.4,533 1250.5,549.5 1249.6,566.1 1248.5,582.6 1247.3,599.2 1246.1,615.7Z" fill="url(#gBr)"/>
<path d="M1523.7,615.3 1519.8,583.5 1516.1,551.7 1512.6,519.8 1509.3,487.9 1506.3,456 1503.5,424 1500.9,392.1 1498.5,360.1 1496.2,328 1494,296 1494,296 1494.4,328.1 1495.2,360.2 1496.4,392.3 1497.9,424.4 1499.6,456.5 1501.6,488.5 1503.9,520.6 1506.4,552.6 1509.1,584.6 1512.2,616.7Z" fill="url(#gBr)"/>
<path d="M1493.8,615.8 1492.2,586.2 1490.6,556.5 1488.8,526.9 1486.9,497.3 1484.8,467.7 1482.6,438.2 1480.3,408.6 1477.8,379 1475.1,349.5 1472,320 1472,320 1472.9,349.6 1473.9,379.3 1474.9,408.9 1475.9,438.5 1476.7,468.1 1477.5,497.7 1478.2,527.4 1478.8,557 1479.3,586.6 1479.7,616.2Z" fill="url(#gBr)"/>
<path d="M1543.2,615.6 1541.1,587.7 1539.3,559.8 1537.6,531.9 1536.1,503.9 1534.7,476 1533.6,448 1532.5,420 1531.6,392 1530.9,364 1530,336 1530,336 1528.9,364 1528.2,392 1527.7,420.1 1527.5,448.1 1527.5,476.1 1527.8,504.2 1528.2,532.2 1528.8,560.3 1529.6,588.3 1530.7,616.4Z" fill="url(#gBr)"/>
<path d="M1477.8,617.1 1482.9,590.1 1488.8,563.3 1495.3,536.7 1502.5,510.3 1510.4,484.1 1519,458.1 1528.3,432.3 1538.3,406.7 1548.9,381.3 1560,356 1560,356 1547.3,380.6 1535.4,405.5 1524.3,430.7 1513.9,456.2 1504.3,482 1495.3,508.1 1487.1,534.4 1479.6,561 1472.8,587.8 1466.7,614.9Z" fill="url(#gBr)"/>
<path d="M1512.9,617.1 1518.3,592.1 1524.5,567.3 1531.4,542.8 1539.1,518.5 1547.5,494.5 1556.6,470.7 1566.4,447.2 1576.9,423.9 1588.2,400.9 1600,378 1600,378 1586.8,400.1 1574.4,422.7 1562.9,445.6 1552.1,468.8 1542,492.4 1532.7,516.3 1524.2,540.5 1516.3,565 1509.3,589.8 1502.9,614.9Z" fill="url(#gBr)"/>
<path d="M1491.8,615.3 1488.4,587.4 1484.6,559.6 1480.4,531.9 1475.8,504.2 1470.9,476.6 1465.6,449.1 1459.9,421.7 1453.7,394.4 1447.2,367.1 1440,340 1440,340 1445,367.6 1450,395.1 1454.6,422.7 1459,450.3 1463,477.9 1466.7,505.6 1470,533.3 1473,561 1475.7,588.8 1478,616.7Z" fill="url(#gBr)"/>
<path d="M1516.4,614.6 1507.8,584.2 1498.3,554.2 1487.7,524.7 1476.1,495.6 1463.5,467.1 1449.9,439.1 1435.2,411.5 1419.6,384.4 1402.9,357.9 1385,332 1385,332 1401.4,358.9 1416.9,386 1431.4,413.5 1445,441.4 1457.5,469.7 1469.1,498.4 1479.7,527.6 1489.2,557.1 1497.8,587 1505.4,617.4Z" fill="url(#gBr)"/>
<path d="M1521.3,618.2 1527.9,596.8 1535.2,575.7 1543.4,555 1552.3,534.6 1562,514.7 1572.5,495.1 1583.8,475.8 1595.8,456.9 1608.6,438.4 1622,420 1622,420 1606.8,436.9 1592.5,454.6 1579.1,472.7 1566.4,491.4 1554.6,510.6 1543.5,530.2 1533.2,550.4 1523.7,571 1515,592.2 1507.1,613.8Z" fill="url(#gBr)"/>
<path d="M1477,619.5 1491.7,592.3 1507.3,565.9 1523.8,540.2 1541.3,515.2 1559.7,490.9 1579.1,467.4 1599.5,444.6 1620.8,422.4 1643,401 1666,380 1666,380 1641.4,399.2 1617.9,419.5 1595.4,440.6 1573.8,462.6 1553.2,485.5 1533.4,509.2 1514.7,533.8 1496.8,559.2 1479.9,585.4 1464,612.5Z" fill="url(#gBr)"/>
<path d="M1527.8,615.9 1526.8,584.3 1525.8,552.7 1524.9,521.2 1524.1,489.6 1523.3,458 1522.6,426.4 1521.9,394.8 1521.3,363.2 1520.7,331.6 1520,300 1520,300 1519,331.6 1518.3,363.2 1517.8,394.8 1517.3,426.4 1517,458 1516.8,489.6 1516.7,521.3 1516.7,552.9 1516.7,584.5 1516.9,616.1Z" fill="url(#gBr)"/>
<path d="M1547.6,614.5 1541.5,594.4 1534.8,574.6 1527.3,555.2 1519.1,536.2 1510.2,517.5 1500.6,499.2 1490.3,481.3 1479.3,463.7 1467.6,446.6 1455,430 1455,430 1466,447.7 1476.5,465.5 1486.3,483.5 1495.5,501.8 1503.9,520.4 1511.7,539.3 1518.8,558.4 1525.2,577.8 1530.9,597.5 1536,617.5Z" fill="url(#gBr)"/>
<path d="M1481.8,618.1 1489,601.7 1496.8,585.6 1505.2,569.9 1514.1,554.6 1523.7,539.6 1533.8,525 1544.5,510.8 1555.8,496.9 1567.7,483.3 1580,470 1580,470 1566.5,482.2 1553.6,494.9 1541.4,508.2 1529.8,521.9 1518.7,536.1 1508.2,550.7 1498.3,565.8 1489,581.4 1480.3,597.4 1472.1,613.9Z" fill="url(#gBr)"/>
<path d="M1540.4,615.5 1538,593.7 1535.3,572 1532.5,550.3 1529.4,528.7 1526,507.1 1522.4,485.6 1518.5,464.1 1514.4,442.7 1509.9,421.3 1505,400 1505,400 1507.8,421.7 1510.7,443.3 1513.4,464.9 1515.9,486.5 1518.3,508.1 1520.4,529.8 1522.3,551.4 1524,573.1 1525.5,594.8 1526.8,616.5Z" fill="url(#gBr)"/>
<path d="M1537.6,614.9 1534.1,597.8 1530.2,580.8 1526,564 1521.3,547.2 1516.3,530.7 1510.9,514.2 1505.1,497.9 1498.9,481.8 1492.3,465.8 1485,450 1485,450 1490.1,466.5 1495.1,483 1499.9,499.6 1504.3,516.2 1508.3,532.8 1512.1,549.6 1515.4,566.4 1518.5,583.2 1521.1,600.1 1523.4,617.1Z" fill="url(#gBr)"/>
<path d="M1568.7,611.8 Q1571,568.7 1578.8,526.1 Q1573.7,568.9 1572.6,612.2Z" fill="#A5D58A"/>
<path d="M1584.1,611.8 Q1591.1,569.6 1594.9,526.9 Q1593.2,569.8 1587,612.2Z" fill="#A5D58A"/>
<path d="M1598.3,611.9 Q1611.8,534.3 1610.8,455.6 Q1613.7,534.4 1601.1,612.1Z" fill="#A5D58A"/>
<path d="M1594.1,612.2 Q1587,579.7 1586.2,546.2 Q1589.4,579.3 1597.5,611.8Z" fill="#A5D58A"/>
</g>
<g id="row2">
<path d="M1126.6,960 Q1122.1,877.1 1129.1,794.3 Q1125.3,877.1 1131.3,960Z" fill="#8FC27A"/>
<path d="M1176,959.4 Q1197.4,895.3 1212.5,829.6 Q1200.7,896.2 1180.8,960.6Z" fill="#8FC27A"/>
<path d="M1175.8,959.8 Q1187.6,909.4 1188,857.9 Q1190.2,909.7 1179.5,960.2Z" fill="#8FC27A"/>
<path d="M1153.3,959.2 Q1171.3,927.3 1193.3,897.9 Q1173.1,928.4 1155.9,960.8Z" fill="#8FC27A"/>
<path d="M1164.4,959.7 Q1175,877.7 1191.6,796.6 Q1177.9,878.1 1168.5,960.3Z" fill="#8FC27A"/>
<path d="M1214.2,959.3 Q1234,922.7 1249.8,884.3 Q1236.2,923.7 1217.3,960.7Z" fill="#8FC27A"/>
<path d="M1157.8,959.5 Q1178.9,901.5 1187.1,840.5 Q1182.2,902.2 1162.5,960.5Z" fill="#8FC27A"/>
<path d="M1219.9,959.2 Q1230.9,924.9 1248,892.9 Q1233.7,925.9 1223.8,960.8Z" fill="#8FC27A"/>
<path d="M1245.9,960 Q1243.1,866.3 1244.9,772.4 Q1245.8,866.2 1249.7,960Z" fill="#8FC27A"/>
<path d="M1119.8,959.5 Q1139.9,873.3 1159,786.8 Q1143.2,874 1124.5,960.5Z" fill="#8FC27A"/>
<path d="M1117,960.1 Q1115.6,898.5 1107.2,837.5 Q1117.9,898.3 1120.2,959.9Z" fill="#8FC27A"/>
<path d="M1192.3,958.8 Q1216.1,928.7 1232.8,894.5 Q1218.8,930.4 1196.2,961.2Z" fill="#8FC27A"/>
<path d="M1237.1,959.8 Q1247.6,905.7 1250.6,850.9 Q1250.4,906 1241.1,960.2Z" fill="#8FC27A"/>
<path d="M1236.6,959.4 Q1249.7,927.3 1264.5,895.9 Q1251.7,928.1 1239.5,960.6Z" fill="#8FC27A"/>
<path d="M1101.9,959.9 Q1110.3,908.7 1110.8,857 Q1113.2,908.9 1106,960.1Z" fill="#8FC27A"/>
<path d="M1124.3,959.7 Q1139.8,909.8 1144.3,858 Q1142.2,910.2 1127.7,960.3Z" fill="#8FC27A"/>
<path d="M1096.5,960.1 Q1102,905 1095.8,850.3 Q1105,905 1100.7,959.9Z" fill="#8FC27A"/>
<path d="M1176.3,959.6 Q1186.2,885.5 1209.2,814.2 Q1188.9,886.1 1180.2,960.4Z" fill="#8FC27A"/>
<path d="M1050,869.5 Q1070,894.8 1102,890.5 Q1082,865.2 1050,869.5Z" fill="#4B8A3A"/>
<path d="M1047.1,947 Q1080.7,930.3 1084.9,893 Q1051.3,909.7 1047.1,947Z" fill="#4B8A3A"/>
<path d="M1112,766 L1112,856" stroke="#6DAF45" stroke-width="3" fill="none"/><path d="M1102.5,764.5 Q1104.7,770.9 1111.4,769.5 Q1109.2,763.1 1102.5,764.5Z" fill="#6DAF45"/><path d="M1112.6,769.5 Q1119.3,770.9 1121.5,764.5 Q1114.8,763.1 1112.6,769.5Z" fill="#6DAF45"/><path d="M1100.7,773.9 Q1103.7,780.9 1111.3,780.1 Q1108.2,773.1 1100.7,773.9Z" fill="#6DAF45"/><path d="M1112.7,780.1 Q1120.3,780.9 1123.3,773.9 Q1115.8,773.1 1112.7,780.1Z" fill="#6DAF45"/><path d="M1098.8,783.4 Q1102.7,790.9 1111.1,790.6 Q1107.2,783.1 1098.8,783.4Z" fill="#6DAF45"/><path d="M1112.9,790.6 Q1121.3,790.9 1125.2,783.4 Q1116.8,783.1 1112.9,790.6Z" fill="#6DAF45"/><path d="M1096.9,792.9 Q1101.7,800.9 1111,801.1 Q1106.2,793.1 1096.9,792.9Z" fill="#6DAF45"/><path d="M1113,801.1 Q1122.3,800.9 1127.1,792.9 Q1117.8,793.1 1113,801.1Z" fill="#6DAF45"/><path d="M1095,802.4 Q1100.7,810.9 1110.9,811.6 Q1105.2,803.1 1095,802.4Z" fill="#6DAF45"/><path d="M1113.1,811.6 Q1123.3,810.9 1129,802.4 Q1118.8,803.1 1113.1,811.6Z" fill="#6DAF45"/><path d="M1093.1,811.9 Q1099.7,820.9 1110.8,822.1 Q1104.2,813.1 1093.1,811.9Z" fill="#6DAF45"/><path d="M1113.2,822.1 Q1124.3,820.9 1130.9,811.9 Q1119.8,813.1 1113.2,822.1Z" fill="#6DAF45"/>
<path d="M1155,748 L1155,841.6" stroke="#6DAF45" stroke-width="3" fill="none"/><path d="M1145.5,746.5 Q1147.7,752.9 1154.4,751.5 Q1152.2,745.1 1145.5,746.5Z" fill="#6DAF45"/><path d="M1155.6,751.5 Q1162.3,752.9 1164.5,746.5 Q1157.8,745.1 1155.6,751.5Z" fill="#6DAF45"/><path d="M1143.7,756.3 Q1146.7,763.3 1154.3,762.5 Q1151.2,755.5 1143.7,756.3Z" fill="#6DAF45"/><path d="M1155.7,762.5 Q1163.3,763.3 1166.3,756.3 Q1158.8,755.5 1155.7,762.5Z" fill="#6DAF45"/><path d="M1141.8,766.2 Q1145.7,773.7 1154.1,773.4 Q1150.2,765.9 1141.8,766.2Z" fill="#6DAF45"/><path d="M1155.9,773.4 Q1164.3,773.7 1168.2,766.2 Q1159.8,765.9 1155.9,773.4Z" fill="#6DAF45"/><path d="M1139.9,776.1 Q1144.7,784.1 1154,784.3 Q1149.2,776.3 1139.9,776.1Z" fill="#6DAF45"/><path d="M1156,784.3 Q1165.3,784.1 1170.1,776.1 Q1160.8,776.3 1156,784.3Z" fill="#6DAF45"/><path d="M1138,786 Q1143.7,794.5 1153.9,795.2 Q1148.2,786.7 1138,786Z" fill="#6DAF45"/><path d="M1156.1,795.2 Q1166.3,794.5 1172,786 Q1161.8,786.7 1156.1,795.2Z" fill="#6DAF45"/><path d="M1136.1,795.9 Q1142.7,804.9 1153.8,806.1 Q1147.2,797.1 1136.1,795.9Z" fill="#6DAF45"/><path d="M1156.2,806.1 Q1167.3,804.9 1173.9,795.9 Q1162.8,797.1 1156.2,806.1Z" fill="#6DAF45"/>
<path d="M1207,685 L1210,755.2" stroke="#72B34A" stroke-width="3" fill="none"/><path d="M1198.3,683.7 Q1200.1,689.9 1206.4,688.3 Q1204.6,682.1 1198.3,683.7Z" fill="#72B34A"/><path d="M1207.6,688.3 Q1213.9,689.9 1215.7,683.7 Q1209.4,682.1 1207.6,688.3Z" fill="#72B34A"/><path d="M1196.4,695.9 Q1199.6,702.9 1207.2,702.1 Q1204.1,695.1 1196.4,695.9Z" fill="#72B34A"/><path d="M1208.8,702.1 Q1216.4,702.9 1219.6,695.9 Q1211.9,695.1 1208.8,702.1Z" fill="#72B34A"/><path d="M1194.6,708.1 Q1199,715.9 1208,715.9 Q1203.5,708.1 1194.6,708.1Z" fill="#72B34A"/><path d="M1210,715.9 Q1219,715.9 1223.4,708.1 Q1214.5,708.1 1210,715.9Z" fill="#72B34A"/><path d="M1192.7,720.3 Q1198.5,728.9 1208.9,729.7 Q1203,721.1 1192.7,720.3Z" fill="#72B34A"/><path d="M1211.1,729.7 Q1221.5,728.9 1227.3,720.3 Q1217,721.1 1211.1,729.7Z" fill="#72B34A"/>
<path d="M1174.3,832.6 Q1210.6,803.2 1201.7,757.4 Q1165.4,786.8 1174.3,832.6Z" fill="#4A8A3C"/>
<path d="M1187.1,877.9 Q1211.9,846.9 1192.9,812.1 Q1168.1,843.1 1187.1,877.9Z" fill="#3F7D32"/>
<path d="M1183.6,853.5 Q1190,824.5 1166.4,806.5 Q1160,835.5 1183.6,853.5Z" fill="#3F7D32"/>
<path d="M1304.5,773.2 Q1297.4,771.2 1291.4,775.6 Q1298.5,777.5 1304.5,773.2Z" fill="#4A8A3C"/>
<path d="M1242.6,839.9 Q1239.3,844.8 1244.7,847.2 Q1248,842.3 1242.6,839.9Z" fill="#4A8A3C"/>
<path d="M1220.3,791.9 Q1220.4,798.4 1224.5,803.5 Q1224.4,797 1220.3,791.9Z" fill="#4A8A3C"/>
<path d="M1203.5,772.6 Q1204.1,777.2 1208.6,778.5 Q1208,773.9 1203.5,772.6Z" fill="#4A8A3C"/>
<path d="M1285.8,800.9 Q1277.6,799.3 1272,805.6 Q1280.3,807.3 1285.8,800.9Z" fill="#4A8A3C"/>
<path d="M1295.9,809.8 Q1290.9,815.5 1294.2,822.4 Q1299.2,816.6 1295.9,809.8Z" fill="#4A8A3C"/>
<path d="M1213.1,810 Q1217.8,814 1223.9,813.3 Q1219.2,809.3 1213.1,810Z" fill="#4A8A3C"/>
<path d="M1220.9,818.9 Q1219,826.6 1224.1,832.7 Q1226.1,825 1220.9,818.9Z" fill="#4A8A3C"/>
<path d="M1206.9,764.1 Q1204.4,770.8 1208.6,776.6 Q1211,769.9 1206.9,764.1Z" fill="#4A8A3C"/>
<path d="M1222.5,776.2 Q1219.1,779.2 1220.1,783.6 Q1223.5,780.6 1222.5,776.2Z" fill="#4A8A3C"/>
<path d="M1237.7,810.7 Q1231.7,812 1230.6,818.1 Q1236.6,816.7 1237.7,810.7Z" fill="#4A8A3C"/>
<path d="M1285.7,777.8 Q1276.9,778.5 1272.6,786.2 Q1281.4,785.5 1285.7,777.8Z" fill="#4A8A3C"/>
<path d="M1251.9,840.3 Q1245.9,844.7 1244.1,852 Q1250.2,847.6 1251.9,840.3Z" fill="#4A8A3C"/>
<path d="M1289.5,823.8 Q1282.8,828.5 1281.8,836.7 Q1288.5,831.9 1289.5,823.8Z" fill="#4A8A3C"/>
<path d="M1215.8,822 Q1211.1,819.5 1208.7,824.2 Q1213.4,826.8 1215.8,822Z" fill="#4A8A3C"/>
<path d="M1237.5,774.1 Q1238.8,778.5 1243.1,777.1 Q1241.8,772.7 1237.5,774.1Z" fill="#4A8A3C"/>
<path d="M1270.3,816.3 Q1273.5,822 1280.1,821.3 Q1276.9,815.5 1270.3,816.3Z" fill="#4A8A3C"/>
<path d="M1243.5,771 Q1246.7,777.2 1253.6,776.4 Q1250.4,770.2 1243.5,771Z" fill="#4A8A3C"/>
<path d="M1267.2,846.2 Q1268.6,851.3 1273.7,852.8 Q1272.2,847.8 1267.2,846.2Z" fill="#4A8A3C"/>
<path d="M1289.1,771.7 Q1282.3,774.5 1279.2,781.2 Q1286,778.4 1289.1,771.7Z" fill="#4A8A3C"/>
<path d="M1287.1,834.5 Q1286.4,839.6 1291.4,841.1 Q1292.1,836 1287.1,834.5Z" fill="#4A8A3C"/>
<path d="M1284.4,792.6 Q1287.3,796.5 1291.8,794.6 Q1289,790.7 1284.4,792.6Z" fill="#4A8A3C"/>
<path d="M1230.7,825.3 Q1225.7,823.8 1221.6,827.2 Q1226.7,828.6 1230.7,825.3Z" fill="#4A8A3C"/>
<path d="M1232.7,827.9 Q1226.8,832.1 1226.9,839.4 Q1232.8,835.2 1232.7,827.9Z" fill="#4A8A3C"/>
<path d="M1178.1,929.4 Q1197.1,886.5 1207.5,841.1 Q1200,887.4 1182.3,930.6Z" fill="#6FA85A"/>
<path d="M1165.4,929.4 Q1170.7,896.4 1184,865.5 Q1173.9,897.3 1170,930.6Z" fill="#6FA85A"/>
<path d="M1120.5,929.1 Q1140.2,899 1156.8,867.2 Q1142.3,900.2 1123.5,930.9Z" fill="#6FA85A"/>
<path d="M1120.3,930.2 Q1112,885.4 1112.2,839.7 Q1114.4,885.1 1123.7,929.8Z" fill="#6FA85A"/>
<path d="M1163.8,929.8 Q1175.5,879.8 1176.3,828.6 Q1178.5,880.1 1168.1,930.2Z" fill="#6FA85A"/>
<path d="M1105,930.3 Q1096.6,869.4 1091.6,808.1 Q1099.6,869 1109.3,929.7Z" fill="#6FA85A"/>
<path d="M1155,930.6 Q1146.4,900.5 1139.4,869.9 Q1149.4,899.6 1159.3,929.4Z" fill="#6FA85A"/>
<path d="M1204.8,930.5 Q1192.9,881.4 1188.4,831 Q1196.3,880.8 1209.7,929.5Z" fill="#6FA85A"/>
<path d="M1116.6,931 Q1097.1,897.7 1086,860.5 Q1100.1,896.3 1120.8,929Z" fill="#6FA85A"/>
<path d="M1160.4,930.1 Q1155.9,879.9 1154.9,829.5 Q1158.4,879.8 1163.9,929.9Z" fill="#6FA85A"/>
<path d="M1116.4,929.5 Q1133.6,874.1 1147.9,817.9 Q1136.4,874.8 1120.3,930.5Z" fill="#6FA85A"/>
<path d="M1183,930.1 Q1179.6,888.6 1183.7,847.1 Q1183,888.6 1187.9,929.9Z" fill="#6FA85A"/>
<path d="M1124.2,930.4 Q1117,898.8 1112.2,866.6 Q1119.6,898.2 1128,929.6Z" fill="#6FA85A"/>
<path d="M1108.4,930.6 Q1095.5,894.9 1083.9,858.6 Q1097.8,894 1111.7,929.4Z" fill="#6FA85A"/>
<path d="M1128.5,930.3 Q1124.3,873.6 1117.7,817.2 Q1127.6,873.2 1133.3,929.7Z" fill="#6FA85A"/>
<path d="M1161.3,930.7 Q1150,904 1144.3,875.3 Q1152.7,903 1165.2,929.3Z" fill="#6FA85A"/>
<path d="M1121.7,929.4 Q1133.1,877.6 1155,829 Q1135.6,878.4 1125.3,930.6Z" fill="#6FA85A"/>
<path d="M1211.4,930.5 Q1203.5,890.6 1195.8,850.7 Q1206.5,889.9 1215.7,929.5Z" fill="#6FA85A"/>
<path d="M1147.2,930.4 Q1140.2,896.3 1132.1,862.4 Q1142.6,895.7 1150.6,929.6Z" fill="#6FA85A"/>
<path d="M1222.5,929.2 Q1235,893.4 1254,860.4 Q1237.7,894.6 1226.4,930.8Z" fill="#6FA85A"/>
<path d="M1204.2,929.6 Q1219.4,880.4 1234.4,831.2 Q1221.5,881 1207.2,930.4Z" fill="#6FA85A"/>
<path d="M1154.3,929.3 Q1167.3,898.5 1180.6,867.8 Q1169.8,899.5 1157.9,930.7Z" fill="#6FA85A"/>
<path d="M1093,964 1093,921.7 1107.1,898 1121.2,894.3 1135.3,884.5 1149.4,886 1163.5,873.5 1177.5,874.6 1191.6,879.9 1205.7,882.9 1219.8,900 1233.9,909.8 1248,918.6 1248,964Z" fill="#A3CD8C"/>
<path d="M1105.2,964 L1108.2,930.3" stroke="#88C070" stroke-width="4.4"/>
<path d="M1147,964 L1145.8,933.6" stroke="#88C070" stroke-width="4.6"/>
<path d="M1244,964 L1242.5,937" stroke="#6DAA50" stroke-width="6.3"/>
<path d="M1102.4,964 L1103.5,934.9" stroke="#5EA040" stroke-width="4.9"/>
<path d="M1100,964 L1102.4,925.7" stroke="#5EA040" stroke-width="5.5"/>
<path d="M1235.7,964 L1232.8,938.8" stroke="#6DAA50" stroke-width="6.3"/>
<path d="M1241.5,964 L1239.9,928.2" stroke="#5EA040" stroke-width="6.6"/>
<path d="M1178.9,964 L1180.8,919.8" stroke="#6DAA50" stroke-width="5.7"/>
<path d="M1228.5,964 L1227.7,943.5" stroke="#6DAA50" stroke-width="7.7"/>
<path d="M1224.3,919.5 Q1226.4,909.6 1217.4,904.8 Q1215.4,914.7 1224.3,919.5Z" fill="#7FB866"/>
<path d="M1108.2,932.8 Q1110.2,924.2 1103,919 Q1101.1,927.6 1108.2,932.8Z" fill="#7FB866"/>
<path d="M1240.2,933.1 Q1242.4,924.3 1236.4,917.4 Q1234.2,926.3 1240.2,933.1Z" fill="#7FB866"/>
<path d="M1210.8,955.5 Q1218.7,945.5 1213.2,934.1 Q1205.3,944.1 1210.8,955.5Z" fill="#7FB866"/>
<path d="M1153.6,927.2 Q1157.9,920.3 1153.4,913.6 Q1149,920.4 1153.6,927.2Z" fill="#7FB866"/>
<path d="M1225.4,937.1 Q1229.3,929.7 1223.2,924.1 Q1219.2,931.4 1225.4,937.1Z" fill="#7FB866"/>
<path d="M1216.3,957 Q1221.1,947 1214.7,937.9 Q1209.9,947.9 1216.3,957Z" fill="#7FB866"/>
<path d="M1133.4,954.7 Q1142.7,947.4 1142.6,935.6 Q1133.3,942.9 1133.4,954.7Z" fill="#7FB866"/>
<path d="M1220.1,944.5 Q1223.6,935.6 1214.6,932.4 Q1211.1,941.3 1220.1,944.5Z" fill="#7FB866"/>
<path d="M1126.2,908 Q1132.4,901.3 1127,893.9 Q1120.8,900.6 1126.2,908Z" fill="#7FB866"/>
<path d="M1118.9,916.1 Q1120,904.8 1112.8,896.1 Q1111.8,907.3 1118.9,916.1Z" fill="#7FB866"/>
<path d="M1213.6,916.2 Q1220.1,911.1 1216.8,903.6 Q1210.3,908.6 1213.6,916.2Z" fill="#7FB866"/>
<path d="M1097.9,940.9 Q1104.1,933.6 1097.4,926.7 Q1091.1,934 1097.9,940.9Z" fill="#7FB866"/>
<path d="M1147.1,921.3 Q1150.2,914.8 1147.1,908.4 Q1143.9,914.8 1147.1,921.3Z" fill="#7FB866"/>
<path d="M1166.9,909.3 Q1174,905.3 1172.6,897.2 Q1165.4,901.3 1166.9,909.3Z" fill="#7FB866"/>
<path d="M1106.8,948 Q1109.4,936 1103.7,925 Q1101.1,937.1 1106.8,948Z" fill="#7FB866"/>
<path d="M1175.5,913.8 Q1181.3,909.6 1180.4,902.5 Q1174.7,906.7 1175.5,913.8Z" fill="#7FB866"/>
<path d="M1161.9,956.8 Q1165.6,948.4 1157.9,943.3 Q1154.1,951.8 1161.9,956.8Z" fill="#7FB866"/>
<path d="M1146.7,952.8 Q1157.1,943.6 1154.3,930.1 Q1143.9,939.3 1146.7,952.8Z" fill="#7FB866"/>
<path d="M1113.1,944.8 Q1117.7,934.6 1114.2,924.1 Q1109.6,934.2 1113.1,944.8Z" fill="#7FB866"/>
<path d="M1148.3,947.4 Q1150.6,935.6 1142,927.2 Q1139.7,939 1148.3,947.4Z" fill="#7FB866"/>
<path d="M1096.6,918.2 Q1101.9,910.3 1100.8,900.9 Q1095.6,908.8 1096.6,918.2Z" fill="#7FB866"/>
<path d="M1209.9,947.4 Q1216.3,938 1209,929.3 Q1202.6,938.7 1209.9,947.4Z" fill="#7FB866"/>
<path d="M1152.2,957.1 Q1156.7,947.3 1150.9,938.1 Q1146.4,948 1152.2,957.1Z" fill="#7FB866"/>
<path d="M1127.8,918.8 Q1133.3,910 1126.5,902.2 Q1120.9,911 1127.8,918.8Z" fill="#7FB866"/>
<polygon points="1144.1,886.4 1146.6,893.2 1153.9,893.5 1148.2,898 1150.1,905 1144.1,901 1138.1,905 1140,898 1134.3,893.5 1141.6,893.2" fill="#F6FBF2"/>
<polygon points="1148.9,902.5 1150.6,907.2 1155.7,907.4 1151.7,910.6 1153.1,915.4 1148.9,912.6 1144.6,915.4 1146,910.6 1142,907.4 1147.1,907.2" fill="#F6FBF2"/>
<polygon points="1200,899.5 1202.1,905 1207.9,905.2 1203.3,908.8 1204.9,914.4 1200,911.2 1195.2,914.4 1196.7,908.8 1192.2,905.2 1198,905" fill="#F6FBF2"/>
<polygon points="1152,894.7 1154,900.3 1160,900.6 1155.3,904.3 1156.9,910 1152,906.7 1147,910 1148.6,904.3 1143.9,900.6 1149.9,900.3" fill="#F6FBF2"/>
<polygon points="1145.6,894.7 1148.1,901.4 1155.3,901.7 1149.6,906.2 1151.6,913.1 1145.6,909.2 1139.6,913.1 1141.5,906.2 1135.9,901.7 1143.1,901.4" fill="#F6FBF2"/>
<polygon points="1232.2,909.4 1234.1,914.4 1239.5,914.7 1235.2,918 1236.7,923.2 1232.2,920.2 1227.7,923.2 1229.1,918 1224.9,914.7 1230.3,914.4" fill="#F6FBF2"/>
<polygon points="1123.5,896.2 1126.1,903.2 1133.6,903.6 1127.8,908.2 1129.7,915.4 1123.5,911.3 1117.3,915.4 1119.3,908.2 1113.4,903.6 1120.9,903.2" fill="#F6FBF2"/>
<polygon points="1233.5,887.2 1235.4,892.1 1240.6,892.3 1236.5,895.6 1237.9,900.6 1233.5,897.7 1229.2,900.6 1230.6,895.6 1226.5,892.3 1231.7,892.1" fill="#F6FBF2"/>
<polygon points="1228.2,918.2 1230.4,924.1 1236.7,924.4 1231.8,928.3 1233.5,934.4 1228.2,930.9 1222.9,934.4 1224.6,928.3 1219.7,924.4 1226,924.1" fill="#F6FBF2"/>
<polygon points="1194.9,910.6 1196.7,915.6 1202.1,915.8 1197.9,919.2 1199.3,924.4 1194.9,921.4 1190.4,924.4 1191.8,919.2 1187.6,915.8 1193,915.6" fill="#F6FBF2"/>
<polygon points="1228.4,882.5 1230.5,888.1 1236.4,888.4 1231.8,892.1 1233.4,897.8 1228.4,894.5 1223.5,897.8 1225,892.1 1220.4,888.4 1226.3,888.1" fill="#F6FBF2"/>
<polygon points="1106,884.1 1107.9,889.2 1113.4,889.5 1109.1,892.9 1110.5,898.1 1106,895.1 1101.4,898.1 1102.9,892.9 1098.6,889.5 1104.1,889.2" fill="#F6FBF2"/>
<polygon points="1125.1,929 1127.4,935.1 1133.9,935.4 1128.8,939.5 1130.5,945.7 1125.1,942.2 1119.6,945.7 1121.4,939.5 1116.3,935.4 1122.8,935.1" fill="#F6FBF2"/>
<polygon points="1188.2,924.2 1190.5,930.4 1197.1,930.7 1192,934.8 1193.7,941.1 1188.2,937.5 1182.7,941.1 1184.5,934.8 1179.3,930.7 1185.9,930.4" fill="#F6FBF2"/>
<polygon points="1129.9,894.3 1131.8,899.2 1136.9,899.4 1132.9,902.6 1134.3,907.6 1129.9,904.8 1125.6,907.6 1127,902.6 1122.9,899.4 1128.1,899.2" fill="#F6FBF2"/>
<polygon points="1162,920.7 1164.7,927.9 1172.3,928.3 1166.3,933 1168.4,940.4 1162,936.2 1155.6,940.4 1157.7,933 1151.7,928.3 1159.3,927.9" fill="#F6FBF2"/>
<polygon points="1193.2,890.2 1195.8,897 1203,897.4 1197.3,901.9 1199.3,908.9 1193.2,904.9 1187.1,908.9 1189.1,901.9 1183.4,897.4 1190.7,897" fill="#F6FBF2"/>
<polygon points="1189.8,904.5 1192.4,911.4 1199.6,911.7 1194,916.2 1195.9,923.2 1189.8,919.2 1183.8,923.2 1185.7,916.2 1180,911.7 1187.3,911.4" fill="#F6FBF2"/>
<polygon points="1155.3,923.9 1157.4,929.6 1163.5,929.9 1158.7,933.7 1160.4,939.6 1155.3,936.3 1150.1,939.6 1151.8,933.7 1147,929.9 1153.1,929.6" fill="#F6FBF2"/>
<polygon points="1180.8,896.4 1182.8,901.6 1188.3,901.8 1184,905.3 1185.4,910.7 1180.8,907.6 1176.2,910.7 1177.7,905.3 1173.3,901.8 1178.9,901.6" fill="#F6FBF2"/>
<polygon points="1202.8,926.8 1204.6,931.6 1209.8,931.9 1205.7,935.1 1207.1,940 1202.8,937.2 1198.5,940 1199.9,935.1 1195.9,931.9 1201,931.6" fill="#F6FBF2"/>
<polygon points="1134.6,921.6 1137.2,928.7 1144.9,929.1 1138.9,933.8 1140.9,941.2 1134.6,937 1128.2,941.2 1130.2,933.8 1124.2,929.1 1131.9,928.7" fill="#F6FBF2"/>
<polygon points="1184.5,930.2 1186.8,936.3 1193.3,936.6 1188.2,940.6 1189.9,946.9 1184.5,943.3 1179.1,946.9 1180.8,940.6 1175.7,936.6 1182.2,936.3" fill="#F6FBF2"/>
<polygon points="1236.4,907.7 1238.5,913.5 1244.7,913.8 1239.9,917.6 1241.5,923.5 1236.4,920.1 1231.3,923.5 1232.9,917.6 1228.1,913.8 1234.3,913.5" fill="#F6FBF2"/>
<polygon points="1220.3,933.7 1222.3,938.8 1227.7,939 1223.4,942.4 1224.9,947.7 1220.3,944.7 1215.8,947.7 1217.3,942.4 1213,939 1218.4,938.8" fill="#F6FBF2"/>
<polygon points="1123.2,899.7 1125,904.7 1130.3,905 1126.2,908.3 1127.6,913.4 1123.2,910.5 1118.7,913.4 1120.1,908.3 1116,905 1121.3,904.7" fill="#F6FBF2"/>
<polygon points="1124.4,904.6 1127.1,911.8 1134.8,912.1 1128.7,916.9 1130.8,924.3 1124.4,920.1 1118,924.3 1120,916.9 1114,912.1 1121.7,911.8" fill="#F6FBF2"/>
<polygon points="1214.9,896.7 1216.9,902.1 1222.7,902.4 1218.2,906 1219.7,911.5 1214.9,908.4 1210.1,911.5 1211.6,906 1207.1,902.4 1212.9,902.1" fill="#F6FBF2"/>
<path d="M1347,963.2 Q1365.4,915.2 1376.9,865.3 Q1369.4,916.3 1352.7,964.8Z" fill="#5FA040"/>
<path d="M1491.5,964.4 Q1491.1,921.3 1482.5,879.3 Q1495.2,920.7 1497.3,963.6Z" fill="#5FA040"/>
<path d="M1473.5,963.9 Q1477.5,922.9 1478.2,881.8 Q1480.8,923 1478.1,964.1Z" fill="#5FA040"/>
<path d="M1421.6,963.9 Q1419.8,931.1 1426.4,898.5 Q1423.7,931.2 1427.1,964.1Z" fill="#5FA040"/>
<path d="M1377.6,963.4 Q1381,928.1 1393.1,894.4 Q1385.4,928.9 1383.9,964.6Z" fill="#5FA040"/>
<path d="M1379.1,964 Q1381.5,935.3 1381.1,906.5 Q1384.2,935.3 1382.9,964Z" fill="#5FA040"/>
<path d="M1418.6,964.4 Q1416,937.8 1408.6,912.2 Q1418.3,937.2 1422,963.6Z" fill="#5FA040"/>
<path d="M1395.9,964.2 Q1396.4,916.3 1390.1,869 Q1399.8,916 1400.7,963.8Z" fill="#5FA040"/>
<path d="M1376.5,963.9 Q1375.3,924.5 1381.9,885.4 Q1378.2,924.6 1380.7,964.1Z" fill="#5FA040"/>
<path d="M1480.8,964.2 Q1475.5,926.1 1478.4,887.4 Q1479.3,925.8 1486.2,963.8Z" fill="#5FA040"/>
<path d="M1506.9,963.2 Q1521.7,918.3 1533.3,872.5 Q1525.9,919.4 1512.9,964.8Z" fill="#5FA040"/>
<path d="M1393.3,964.3 Q1386.5,912.7 1381.8,860.8 Q1389.7,912.3 1397.9,963.7Z" fill="#5FA040"/>
<path d="M1435.4,964 Q1433,928.5 1436,892.9 Q1435.4,928.4 1438.9,964Z" fill="#5FA040"/>
<path d="M1451,964 Q1456.3,915.4 1451.4,867 Q1459.2,915.4 1455.1,964Z" fill="#5FA040"/>
<path d="M1503.5,963.6 Q1513.1,921.8 1519.4,879.5 Q1516.3,922.4 1508.1,964.4Z" fill="#5FA040"/>
<path d="M1450.7,963.8 Q1451.9,910.3 1462,857.5 Q1456,910.6 1456.5,964.2Z" fill="#5FA040"/>
<path d="M1399.7,963.9 Q1402.1,942.2 1403.9,920.5 Q1405.3,942.3 1404.4,964.1Z" fill="#5FA040"/>
<path d="M1373.4,963.3 Q1389.3,918.1 1402.3,872.1 Q1392.8,919.1 1378.4,964.7Z" fill="#5FA040"/>
<path d="M1482.3,964.1 Q1484.8,931.7 1480.5,899.7 Q1487,931.6 1485.3,963.9Z" fill="#5FA040"/>
<path d="M1450.4,963.8 Q1455.5,918.3 1458.5,872.6 Q1459,918.5 1455.3,964.2Z" fill="#5FA040"/>
<path d="M1417.6,964.8 Q1403.8,917.6 1398,868.6 Q1408.2,916.6 1423.9,963.2Z" fill="#5FA040"/>
<path d="M1440,963.6 Q1447,916.8 1455.8,870.3 Q1451.4,917.4 1446.2,964.4Z" fill="#5FA040"/>
<path d="M1536.2,964.5 Q1525.8,925 1520.6,884.3 Q1528.9,924.3 1540.5,963.5Z" fill="#5FA040"/>
<path d="M1420.5,964.2 Q1417.6,923.3 1419.4,882.2 Q1422.1,923.1 1427,963.8Z" fill="#5FA040"/>
<path d="M1340.8,963.7 Q1351.2,924.7 1357.4,885 Q1353.4,925.2 1343.9,964.3Z" fill="#5FA040"/>
<path d="M1487.7,963.6 Q1495.1,937.9 1499,911.6 Q1497.9,938.4 1491.7,964.4Z" fill="#5FA040"/>
<path d="M1407.7,962.8 Q1418.8,942.9 1431.6,923.9 Q1422,944.6 1412.3,965.2Z" fill="#5FA040"/>
<path d="M1490,963.7 Q1495.8,926.5 1504.8,889.9 Q1498.1,926.9 1493.3,964.3Z" fill="#5FA040"/>
<path d="M1476.6,965.1 Q1465,923.6 1450.5,883.2 Q1469.4,922.1 1482.8,962.9Z" fill="#5FA040"/>
<path d="M1384.7,964.8 Q1372.8,930.3 1365.4,894.4 Q1376.4,929.2 1389.9,963.2Z" fill="#5FA040"/>
<path d="M1441.1,962.9 Q1453.2,929.6 1473,899.9 Q1456.5,931.1 1445.8,965.1Z" fill="#5FA040"/>
<path d="M1432.3,965.4 Q1419.1,943.4 1405.7,921.5 Q1422,941.4 1436.5,962.6Z" fill="#5FA040"/>
<path d="M1477.2,965.4 Q1461.5,940.2 1452.2,911.7 Q1465.1,938.3 1482.3,962.6Z" fill="#5FA040"/>
<path d="M1529.7,963.2 Q1543.2,944.2 1553.2,923.3 Q1545.3,945.3 1532.7,964.8Z" fill="#5FA040"/>
<path d="M1498.6,964.4 Q1486.7,913.3 1486.7,860.5 Q1490.6,912.7 1504.3,963.6Z" fill="#5FA040"/>
<path d="M1448.4,963.5 Q1457.4,922.7 1468.8,882.4 Q1460.3,923.3 1452.6,964.5Z" fill="#5FA040"/>
<path d="M1352.2,965.1 Q1344,928.2 1328.8,893.9 Q1348.2,926.7 1358,962.9Z" fill="#5FA040"/>
<path d="M1350.9,964.5 Q1347.3,937.6 1341.1,911.4 Q1350.1,937 1354.9,963.5Z" fill="#5FA040"/>
<path d="M1534.2,963.1 Q1548.6,931.3 1558.5,898.1 Q1552.6,932.6 1539.8,964.9Z" fill="#5FA040"/>
<path d="M1358.6,964.4 Q1356.3,934.8 1351.2,905.6 Q1359.7,934.2 1363.4,963.6Z" fill="#5FA040"/>
<path d="M1541.5,963.4 Q1552.6,930.1 1557.9,895.7 Q1556.7,930.9 1547.3,964.6Z" fill="#5FA040"/>
<path d="M1348.8,965.4 Q1337.1,937.3 1324.5,909.6 Q1341.1,935.3 1354.5,962.6Z" fill="#5FA040"/>
<path d="M1427.6,964.9 Q1423.9,943.3 1416.4,922.9 Q1427.7,942 1433.2,963.1Z" fill="#5FA040"/>
<path d="M1472.4,963.3 Q1479.4,916 1496.6,870.9 Q1483.4,916.9 1478.2,964.7Z" fill="#5FA040"/>
<path d="M1398.5,964.1 Q1399.1,927.6 1398.9,891.1 Q1404,927.4 1405.4,963.9Z" fill="#5FA040"/>
<path d="M1350.6,963 Q1363.4,936 1371.5,907.4 Q1367.6,937.3 1356.7,965Z" fill="#5FA040"/>
<path d="M1500.3,964 Q1500.4,932.4 1503,900.9 Q1502.6,932.4 1503.5,964Z" fill="#5FA040"/>
<path d="M1417.9,963.7 Q1422.3,911 1434,859.3 Q1425,911.4 1421.7,964.3Z" fill="#5FA040"/>
<path d="M1372,964.1 Q1369.7,943.9 1372.5,923.6 Q1372.7,943.8 1376.3,963.9Z" fill="#5FA040"/>
<path d="M1330.4,963.4 Q1336.4,922.2 1348.6,882.2 Q1341.1,923.1 1337.3,964.6Z" fill="#5FA040"/>
<path d="M1540.9,964.9 Q1535.8,944 1532.9,922.4 Q1540.3,942.7 1547.4,963.1Z" fill="#5FA040"/>
<path d="M1346.9,963.7 Q1348.4,929.2 1356.9,895.4 Q1352.3,929.6 1352.4,964.3Z" fill="#5FA040"/>
<path d="M1512.8,964.2 Q1503.6,921.1 1505.1,876.9 Q1505.9,920.9 1516.1,963.8Z" fill="#5FA040"/>
<path d="M1425.9,964.7 Q1418.4,920 1406.7,876.3 Q1422.4,919 1431.6,963.3Z" fill="#5FA040"/>
<path d="M1425.8,964.6 Q1422,930.6 1411.5,898.3 Q1425.1,929.8 1430.2,963.4Z" fill="#5FA040"/>
<path d="M1495.5,963.3 Q1506.3,918.2 1519.9,873.7 Q1510.4,919.1 1501.4,964.7Z" fill="#5FA040"/>
<path d="M1383.2,964.8 Q1370.3,928.4 1362.8,890.3 Q1374.1,927.3 1388.5,963.2Z" fill="#5FA040"/>
<path d="M1348.2,963.8 Q1354.9,927.8 1356.4,891.4 Q1359,928.1 1354.1,964.2Z" fill="#5FA040"/>
<path d="M1363.8,963.1 Q1376,918 1395,875 Q1380,919.2 1369.5,964.9Z" fill="#5FA040"/>
<path d="M1494,964.4 Q1492.8,927.6 1488.3,891.1 Q1497.3,927 1500.5,963.6Z" fill="#5FA040"/>
<path d="M1495.1,963.4 Q1511.4,924.2 1522,883.3 Q1514,925.1 1499,964.6Z" fill="#5FA040"/>
<path d="M1455.2,965 Q1450.8,943.6 1444.7,922.8 Q1455.2,942.2 1461.5,963Z" fill="#5FA040"/>
<path d="M1429.4,963.5 Q1442.2,923.6 1449.7,882.5 Q1445,924.2 1433.4,964.5Z" fill="#5FA040"/>
<path d="M1460.9,963.6 Q1467.9,911.7 1478,860.2 Q1471.4,912.2 1465.9,964.4Z" fill="#5FA040"/>
<path d="M1336.6,963.4 Q1348.3,924.9 1359.6,886.3 Q1351.6,925.8 1341.3,964.6Z" fill="#5FA040"/>
<path d="M1465.1,964.4 Q1455.8,916.3 1444.1,868.7 Q1458.1,915.7 1468.4,963.6Z" fill="#5FA040"/>
<path d="M1364.4,963.4 Q1374.3,937 1379,909.6 Q1378.4,937.9 1370.3,964.6Z" fill="#5FA040"/>
<path d="M1441.3,963.9 Q1443.5,929.4 1446.3,894.9 Q1447.2,929.5 1446.7,964.1Z" fill="#5FA040"/>
<path d="M1384.8,963.5 Q1388.8,934.9 1399.1,907.7 Q1391.8,935.6 1389.1,964.5Z" fill="#5FA040"/>
<path d="M1455.7,964.6 Q1452.2,920.6 1443.8,877.6 Q1456.6,919.9 1462.1,963.4Z" fill="#5FA040"/>
<path d="M1537.8,963.8 Q1541.8,934.5 1544.7,905 Q1544.5,934.7 1541.8,964.2Z" fill="#5FA040"/>
<path d="M1448.3,964.7 Q1437.6,932.7 1433,899 Q1441.4,931.6 1453.6,963.3Z" fill="#5FA040"/>
<path d="M1500,964.6 Q1496.2,940 1488.6,916.4 Q1498.9,939.2 1504,963.4Z" fill="#5FA040"/>
<path d="M1492.1,964.3 Q1485.5,915.4 1483,865.9 Q1489,914.9 1497.1,963.7Z" fill="#5FA040"/>
<path d="M1461.7,964 Q1462.7,910.6 1463.4,857.2 Q1465.6,910.6 1465.9,964Z" fill="#5FA040"/>
<path d="M1480.4,964.4 Q1475.5,928.3 1467.2,892.9 Q1478.1,927.7 1484.1,963.6Z" fill="#5FA040"/>
<path d="M1465.2,964.4 Q1456.5,914.9 1457,864.3 Q1461.4,914.3 1472.1,963.6Z" fill="#5FA040"/>
<path d="M1452.8,964.4 Q1447,918.4 1433.9,874.1 Q1449.6,917.8 1456.5,963.6Z" fill="#5FA040"/>
<path d="M1440.7,964.6 Q1426.4,912 1419.7,857.7 Q1430.1,911.1 1445.9,963.4Z" fill="#5FA040"/>
<path d="M1498.4,963.8 Q1500.1,932.2 1506.8,901 Q1502.7,932.4 1502.1,964.2Z" fill="#5FA040"/>
<path d="M1501.1,963.1 Q1516.3,925.3 1532.7,887.8 Q1519.5,926.5 1505.7,964.9Z" fill="#5FA040"/>
<path d="M1352.5,964.3 Q1341.4,913.3 1334.7,861.4 Q1343.8,912.8 1355.8,963.7Z" fill="#5FA040"/>
<path d="M1363.8,962.5 Q1375.3,934 1394.3,909.2 Q1379.6,936.1 1369.9,965.5Z" fill="#5FA040"/>
<path d="M1507.8,963.6 Q1519.5,934.9 1525.2,904.6 Q1521.7,935.5 1510.9,964.4Z" fill="#5FA040"/>
<path d="M1545.3,963.7 Q1552.3,934.1 1555.2,903.9 Q1555,934.5 1549.1,964.3Z" fill="#5FA040"/>
<path d="M1347.6,963.7 Q1351.3,939.9 1356.4,916.2 Q1354.3,940.3 1351.8,964.3Z" fill="#5FA040"/>
<path d="M1472.8,964.9 Q1464.3,915.3 1446.6,868.4 Q1468.5,914 1478.7,963.1Z" fill="#5FA040"/>
<path d="M1356.6,964.6 Q1353.3,910.2 1339,857.9 Q1357.4,909.4 1362.5,963.4Z" fill="#5FA040"/>
<path d="M1335.4,963.6 Q1345.6,928.8 1353.5,893.6 Q1348.3,929.5 1339.2,964.4Z" fill="#5FA040"/>
<path d="M1435,964.4 Q1422.5,918.4 1419.7,870.7 Q1425.3,917.9 1439,963.6Z" fill="#5FA040"/>
<path d="M1453.3,964.7 Q1443.7,937.5 1441.4,908.2 Q1447.7,936.4 1459,963.3Z" fill="#7DBA55"/>
<path d="M1427.1,964.3 Q1428.3,928.1 1422.6,892.7 Q1432.2,927.7 1432.7,963.7Z" fill="#7DBA55"/>
<path d="M1499.1,964.1 Q1497.5,941.3 1496.7,918.4 Q1499.9,941.1 1502.4,963.9Z" fill="#7DBA55"/>
<path d="M1432,964.7 Q1421,935 1412.7,904.4 Q1423.7,934 1435.9,963.3Z" fill="#7DBA55"/>
<path d="M1358.7,963.8 Q1366.8,925.2 1368.6,885.9 Q1368.9,925.4 1361.8,964.2Z" fill="#7DBA55"/>
<path d="M1399.4,963.7 Q1405.6,938 1407.7,911.9 Q1409.3,938.4 1404.7,964.3Z" fill="#7DBA55"/>
<path d="M1369.2,964.1 Q1366.1,925 1369.2,885.7 Q1369.7,924.9 1374.3,963.9Z" fill="#7DBA55"/>
<path d="M1390.5,964.5 Q1387,937.7 1380.2,911.6 Q1390,937 1394.8,963.5Z" fill="#7DBA55"/>
<path d="M1455.9,963.8 Q1458,936.6 1462.2,909.5 Q1460.8,936.8 1459.9,964.2Z" fill="#7DBA55"/>
<path d="M1394.8,964.8 Q1387.9,942.5 1382.3,919.8 Q1391.1,941.4 1399.4,963.2Z" fill="#7DBA55"/>
<path d="M1461.9,964.8 Q1453.3,942.3 1447.8,918.7 Q1456.3,941.2 1466.1,963.2Z" fill="#7DBA55"/>
<path d="M1477.3,964 Q1480.3,937.5 1478.3,911 Q1482.7,937.4 1480.7,964Z" fill="#7DBA55"/>
<path d="M1514.9,964.5 Q1502.8,934.7 1497.8,902.8 Q1504.9,934.1 1517.8,963.5Z" fill="#7DBA55"/>
<path d="M1379.4,965 Q1369.5,943.6 1359.8,922 Q1372.2,942.1 1383.3,963Z" fill="#7DBA55"/>
<path d="M1481,964.4 Q1477,932.8 1472.5,901.3 Q1480.5,932.2 1486,963.6Z" fill="#7DBA55"/>
<path d="M1400.4,965.3 Q1392.7,941.3 1381,919.3 Q1396.5,939.5 1405.7,962.7Z" fill="#7DBA55"/>
<path d="M1363.3,964.5 Q1355.9,927 1351.2,889 Q1359.7,926.3 1368.7,963.5Z" fill="#7DBA55"/>
<path d="M1487,963.6 Q1497.8,933.2 1501.8,901.4 Q1500.3,933.7 1490.6,964.4Z" fill="#7DBA55"/>
<path d="M1452.1,963.6 Q1462,923.1 1467.4,881.9 Q1465.2,923.6 1456.8,964.4Z" fill="#7DBA55"/>
<path d="M1409.6,964.2 Q1409.1,940.8 1407.8,917.4 Q1412.2,940.5 1414.1,963.8Z" fill="#7DBA55"/>
<path d="M1410.9,964.8 Q1402,933.6 1390.8,903.3 Q1405.2,932.5 1415.4,963.2Z" fill="#7DBA55"/>
<path d="M1418.5,963.5 Q1424.4,938.8 1435.4,915.6 Q1426.6,939.5 1421.6,964.5Z" fill="#7DBA55"/>
<path d="M1499,963.5 Q1510.1,939.8 1516.7,914.7 Q1512.3,940.6 1502.2,964.5Z" fill="#7DBA55"/>
<path d="M1361.9,964.7 Q1351.2,937.5 1347.7,908.1 Q1354.7,936.5 1366.8,963.3Z" fill="#7DBA55"/>
<path d="M1478,964.5 Q1470.9,930.4 1460.2,897.3 Q1473.4,929.6 1481.5,963.5Z" fill="#7DBA55"/>
<path d="M1430.4,964.9 Q1422.2,940.3 1410.3,917.4 Q1424.8,939.1 1434.1,963.1Z" fill="#7DBA55"/>
<path d="M1370.5,964.6 Q1357.5,930.2 1353.4,893.5 Q1360.4,929.5 1374.6,963.4Z" fill="#7DBA55"/>
<path d="M1461.9,963.4 Q1472.4,934.9 1479,905.4 Q1475.4,935.7 1466.3,964.6Z" fill="#7DBA55"/>
<path d="M1410.3,964.7 Q1398.6,928.7 1394.5,890.8 Q1402.4,927.8 1415.8,963.3Z" fill="#7DBA55"/>
<path d="M1420.1,964.5 Q1416.2,942.4 1413.9,920.1 Q1419.6,941.8 1425,963.5Z" fill="#7DBA55"/>
<path d="M1399,964.3 Q1394.5,924 1389.2,883.9 Q1397.4,923.6 1403.1,963.7Z" fill="#7DBA55"/>
<path d="M1477.1,964.2 Q1477.3,925 1469.8,886.7 Q1480.2,924.6 1481.1,963.8Z" fill="#7DBA55"/>
<path d="M1485.1,963.1 Q1500.9,935.4 1511.9,905.7 Q1503.8,936.7 1489.3,964.9Z" fill="#7DBA55"/>
<path d="M1378.1,964.3 Q1368.8,927.7 1366.7,889.7 Q1371.3,927.2 1381.7,963.7Z" fill="#7DBA55"/>
<path d="M1524.1,964.1 Q1521.1,933.1 1524.2,902 Q1524.2,933 1528.6,963.9Z" fill="#7DBA55"/>
<path d="M1372.5,964.8 Q1360.2,941.8 1350.6,917.6 Q1362.4,940.7 1375.6,963.2Z" fill="#7DBA55"/>
<path d="M1536.5,963.5 Q1544.4,939.6 1553.5,916 Q1546.7,940.3 1539.7,964.5Z" fill="#7DBA55"/>
<path d="M1532.6,963.7 Q1536.1,941.7 1540.8,919.8 Q1539,942.1 1536.8,964.3Z" fill="#7DBA55"/>
<path d="M1521.9,963.6 Q1525.9,923.9 1535.3,884.9 Q1529.9,924.4 1527.5,964.4Z" fill="#7DBA55"/>
<path d="M1340.7,963.6 Q1347.5,939.6 1355.1,915.7 Q1349.7,940.2 1343.9,964.4Z" fill="#7DBA55"/>
<path d="M1391.9,964.3 Q1390.9,939.4 1385.9,915.2 Q1393.4,939 1395.4,963.7Z" fill="#7DBA55"/>
<path d="M1442,964.1 Q1439.2,932.2 1442,900.1 Q1442.5,932.1 1446.8,963.9Z" fill="#7DBA55"/>
<path d="M1379.4,964 Q1376.8,932.3 1382.7,900.7 Q1380.8,932.3 1385.2,964Z" fill="#7DBA55"/>
<path d="M1439.8,963.4 Q1447.7,941.4 1456.5,919.7 Q1450,942.2 1443.2,964.6Z" fill="#7DBA55"/>
<path d="M1441.4,963.3 Q1452.8,929.9 1467.8,897.8 Q1455.5,930.9 1445.2,964.7Z" fill="#7DBA55"/>
<path d="M1481.6,963.9 Q1483.1,940.9 1486.7,918 Q1486.8,941 1487,964.1Z" fill="#7DBA55"/>
<path d="M1530.1,963.7 Q1533.1,943.6 1538.3,923.8 Q1535.8,944 1534,964.3Z" fill="#7DBA55"/>
<path d="M1521.4,963.9 Q1521.4,925.6 1526.5,887.6 Q1524.6,925.8 1526,964.1Z" fill="#7DBA55"/>
<path d="M1432.2,963.5 Q1442.8,930.2 1447.8,896 Q1446.7,931 1437.8,964.5Z" fill="#7DBA55"/>
<path d="M1388.7,964.6 Q1380.9,943.8 1375,922.4 Q1383.2,943 1391.9,963.4Z" fill="#7DBA55"/>
<path d="M1494.3,959.9 Q1502.2,882.2 1500.7,804.2 Q1504.5,882.3 1497.6,960.1Z" fill="#9CC986"/>
<path d="M1497.1,960 Q1483.5,855.8 1492.3,750.8 Q1485.7,855.7 1500.2,960Z" fill="#9CC986"/>
<path d="M1455.4,959.7 Q1468.2,851.2 1496.6,745.6 Q1470.7,851.7 1459,960.3Z" fill="#9CC986"/>
<path d="M1490.3,960 Q1485.7,872.1 1496.1,784.6 Q1487.5,872.1 1492.8,960Z" fill="#9CC986"/>
<path d="M1486.6,960.3 Q1473.7,898 1463.2,835.3 Q1476,897.6 1489.9,959.7Z" fill="#9CC986"/>
<path d="M1464.4,960.3 Q1445.9,905 1435.7,847.6 Q1447.7,904.6 1466.9,959.7Z" fill="#9CC986"/>
<path d="M1459.4,960.2 Q1451.4,844.6 1436.2,729.7 Q1453.6,844.3 1462.6,959.8Z" fill="#9CC986"/>
<path d="M1379.4,959.9 Q1387.8,894.2 1394.6,828.3 Q1389.6,894.4 1381.9,960.1Z" fill="#9CC986"/>
<path d="M1378.6,959.9 Q1379.1,897 1384.5,834.2 Q1381.3,897.1 1381.7,960.1Z" fill="#9CC986"/>
<path d="M1473.6,960.2 Q1453.2,882.6 1450.7,802.2 Q1455.4,882.3 1476.8,959.8Z" fill="#9CC986"/>
<path d="M1486.3,960.5 Q1469,918.8 1462.3,874 Q1471.1,918.2 1489.4,959.5Z" fill="#9CC986"/>
<path d="M1414.4,959.9 Q1409.3,880.3 1422.9,801.4 Q1412,880.4 1418.2,960.1Z" fill="#9CC986"/>
<path d="M1477.9,959.8 Q1480.8,846.2 1508.5,735.8 Q1483,846.5 1481.1,960.2Z" fill="#9CC986"/>
<path d="M1447.7,959.9 Q1449.9,861.2 1465,763.6 Q1452.5,861.4 1451.3,960.1Z" fill="#9CC986"/>
<path d="M1397.5,964 1397.3,936.8 1397,909.6 1396.8,882.4 1396.6,855.2 1396.3,828 1396.1,800.8 1395.8,773.6 1395.6,746.4 1395.3,719.2 1395,692 1395,692 1394.7,719.2 1394.4,746.4 1394.2,773.6 1393.9,800.8 1393.7,828 1393.4,855.2 1393.2,882.4 1393,909.6 1392.7,936.8 1392.5,964Z" fill="#7DB85A"/>
<path d="M1470.5,964 1470.3,942.3 1470,920.6 1469.8,898.9 1469.6,877.2 1469.3,855.5 1469.1,833.8 1468.8,812.1 1468.6,790.4 1468.3,768.7 1468,747 1468,747 1467.7,768.7 1467.4,790.4 1467.2,812.1 1466.9,833.8 1466.7,855.5 1466.4,877.2 1466.2,898.9 1466,920.6 1465.7,942.3 1465.5,964Z" fill="#7DB85A"/>
<path d="M1368.3,840.2 Q1391.5,873.1 1431.7,869.8 Q1408.5,836.9 1368.3,840.2Z" fill="#5DAA3A"/>
<path d="M1543.5,933.1 Q1611,913.2 1606.5,842.9 Q1539,862.8 1543.5,933.1Z" fill="#5CA83C"/>
<path d="M1377.5,753.2 Q1374.9,761.8 1382.5,766.8 Q1385.1,758.2 1377.5,753.2Z" fill="#E2A6BC"/>
<path d="M1392.5,783.2 Q1389.9,791.8 1397.5,796.8 Q1400.1,788.2 1392.5,783.2Z" fill="#E2A6BC"/>
<path d="M1467.5,738.2 Q1464.9,746.8 1472.5,751.8 Q1475.1,743.2 1467.5,738.2Z" fill="#E2A6BC"/>
<path d="M1472.5,793.2 Q1469.9,801.8 1477.5,806.8 Q1480.1,798.2 1472.5,793.2Z" fill="#E2A6BC"/>
<path d="M1452.5,838.2 Q1449.9,846.8 1457.5,851.8 Q1460.1,843.2 1452.5,838.2Z" fill="#E2A6BC"/>
<path d="M1397.5,893.2 Q1394.9,901.8 1402.5,906.8 Q1405.1,898.2 1397.5,893.2Z" fill="#E2A6BC"/>
<path d="M1357.5,873.2 Q1354.9,881.8 1362.5,886.8 Q1365.1,878.2 1357.5,873.2Z" fill="#E2A6BC"/>
<path d="M1485.5,898.2 Q1482.9,906.8 1490.5,911.8 Q1493.1,903.2 1485.5,898.2Z" fill="#E2A6BC"/>
<path d="M1427.5,823.2 Q1424.9,831.8 1432.5,836.8 Q1435.1,828.2 1427.5,823.2Z" fill="#E2A6BC"/>
<path d="M1372.5,893.2 Q1369.9,901.8 1377.5,906.8 Q1380.1,898.2 1372.5,893.2Z" fill="#E2A6BC"/>
<path d="M1269.8,964.4 1271.4,937.4 1272.9,910.3 1274.4,883.3 1275.9,856.3 1277.2,829.2 1278.6,802.2 1279.9,775.2 1281,748.1 1282.1,721.1 1283,694 1283,694 1280.5,721 1278.3,747.9 1276,774.9 1273.7,801.9 1271.4,828.8 1269.1,855.8 1266.8,882.8 1264.5,909.7 1262.1,936.7 1259.7,963.6Z" fill="url(#gBr)"/>
<path d="M1302.6,962 1294.7,936 1285.8,910.5 1276.1,885.4 1265.4,860.8 1253.9,836.7 1241.4,813.2 1228,790 1213.7,767.5 1198.4,745.4 1182,724 1182,724 1196.3,746.8 1209.9,769.7 1222.7,793 1234.6,816.7 1245.6,840.6 1255.7,865 1264.9,889.7 1273.3,914.7 1280.7,940.2 1287.2,966Z" fill="url(#gBr)"/>
<path d="M1288.3,965.8 1293.8,940.8 1300.2,916.1 1307.3,891.7 1315.1,867.6 1323.8,843.7 1333.1,820.1 1343.3,796.8 1354.2,773.7 1365.8,750.8 1378,728 1378,728 1363.7,749.5 1350.4,771.6 1337.9,794.1 1326.2,817 1315.3,840.2 1305.3,863.9 1296,887.9 1287.5,912.3 1279.8,937.1 1272.9,962.2Z" fill="url(#gBr)"/>
<path d="M1309.8,966.8 1318.3,944.6 1327.6,922.9 1337.6,901.7 1348.5,880.9 1360.1,860.5 1372.5,840.6 1385.8,821.1 1399.8,802.1 1414.6,783.4 1430,765 1430,765 1412.8,781.8 1396.5,799.4 1381.1,817.6 1366.5,836.4 1352.7,855.8 1339.7,875.7 1327.5,896.3 1316,917.3 1305.4,939 1295.6,961.2Z" fill="url(#gBr)"/>
<path d="M1269.8,963.9 1268.9,943.7 1267.9,923.4 1266.8,903.2 1265.6,883 1264.3,862.8 1263,842.6 1261.5,822.5 1259.9,802.3 1258.1,782.1 1256,762 1256,762 1256,782.2 1256.3,802.5 1256.5,822.7 1256.7,842.9 1256.8,863.1 1256.9,883.3 1257,903.5 1256.9,923.7 1256.9,943.9 1256.7,964.1Z" fill="url(#gBr)"/>
<path d="M1308.6,963.9 1307.7,939.5 1306.8,915.1 1305.9,890.8 1305.1,866.4 1304.3,842 1303.5,817.6 1302.7,793.2 1301.9,768.8 1301.1,744.4 1300,720 1300,720 1298.6,744.4 1297.6,768.8 1296.7,793.2 1295.9,817.6 1295.2,842 1294.6,866.4 1294,890.8 1293.5,915.3 1293.1,939.7 1292.7,964.1Z" fill="url(#gBr)"/>
<path d="M1311.1,964.7 1312.8,944.2 1314.8,923.6 1317.1,903.1 1319.6,882.6 1322.4,862.1 1325.5,841.6 1328.8,821.2 1332.4,800.8 1336.2,780.4 1340,760 1340,760 1334,779.9 1328.5,800 1323.5,820.1 1318.7,840.3 1314.3,860.6 1310.2,881 1306.4,901.5 1302.9,922 1299.7,942.6 1296.8,963.3Z" fill="url(#gBr)"/>
<path d="M1312.2,962.5 1307.4,945.1 1302.1,928 1296.3,911 1289.9,894.4 1283,877.9 1275.5,861.8 1267.5,845.9 1259,830.3 1249.9,814.9 1240,800 1240,800 1248,816 1255.7,832 1263,848.1 1269.7,864.4 1275.9,880.8 1281.6,897.4 1286.8,914.1 1291.5,931.1 1295.6,948.2 1299.3,965.5Z" fill="url(#gBr)"/>
<path d="M1320.7,964.3 1320.9,949.9 1321.1,935.5 1321.2,921 1321.2,906.6 1321.2,892.2 1321.2,877.7 1321.1,863.3 1320.9,848.9 1320.6,834.4 1320,820 1320,820 1318.5,834.4 1317.2,848.7 1315.9,863.1 1314.7,877.5 1313.5,891.9 1312.3,906.2 1311.1,920.6 1309.9,934.9 1308.6,949.3 1307.4,963.7Z" fill="url(#gBr)"/>
<path d="M1277.6,964.4 1278.3,946 1279.1,927.5 1280,909.1 1281.1,890.6 1282.4,872.2 1283.7,853.8 1285.2,835.3 1286.8,816.9 1288.5,798.5 1290,780 1290,780 1286.4,798.2 1283.1,816.4 1280.1,834.7 1277.4,853.1 1274.7,871.4 1272.3,889.8 1270,908.2 1268,926.6 1266,945.1 1264.3,963.6Z" fill="url(#gBr)"/>
</g>
<g id="row3">
<path d="M1122.7,1359.9 Q1124.5,1326.5 1129.8,1293.4 Q1126.6,1326.6 1125.7,1360.1Z" fill="#B5D9A0"/>
<path d="M1152.4,1360 Q1149.5,1295.2 1152.6,1230.3 Q1151.7,1295.2 1155.5,1360Z" fill="#B5D9A0"/>
<path d="M1073.4,1359.6 Q1081.4,1332.5 1088.3,1305.1 Q1083.8,1333.1 1076.9,1360.4Z" fill="#B5D9A0"/>
<path d="M1098.8,1360.1 Q1092.1,1280.3 1094,1200.2 Q1094.7,1280.2 1102.4,1359.9Z" fill="#B5D9A0"/>
<path d="M1091.9,1359.3 Q1118.4,1294 1141.8,1227.6 Q1121,1295 1095.6,1360.7Z" fill="#B5D9A0"/>
<path d="M1162.4,1359.9 Q1164.8,1282 1177,1205 Q1167.3,1282.2 1166,1360.1Z" fill="#B5D9A0"/>
<path d="M1109.7,1360.3 Q1081.6,1276.5 1074.2,1188.2 Q1083.7,1276 1112.6,1359.7Z" fill="#B5D9A0"/>
<path d="M1106.6,1359 Q1122.6,1337.5 1142.8,1319.8 Q1124.2,1339 1109,1361Z" fill="#B5D9A0"/>
<path d="M1100.3,1360.5 Q1081.1,1284.9 1058.3,1210.4 Q1083.4,1284.3 1103.6,1359.5Z" fill="#B5D9A0"/>
<path d="M1053.2,1360 Q1047.7,1299.6 1053.5,1239.2 Q1049.9,1299.6 1056.3,1360Z" fill="#B5D9A0"/>
<path d="M1107.4,1360.7 Q1089.3,1317.9 1069.2,1276.1 Q1091.5,1316.9 1110.6,1359.3Z" fill="#B5D9A0"/>
<path d="M1109.8,1359.5 Q1131.1,1294.8 1156.8,1231.6 Q1132.9,1295.4 1112.4,1360.5Z" fill="#B5D9A0"/>
<path d="M1110.6,1308.3 Q1061.4,1290.1 1035.4,1335.7 Q1084.6,1353.9 1110.6,1308.3Z" fill="#5DA83A"/>
<path d="M1102.3,1257 Q1128.4,1296.3 1173.7,1283 Q1147.6,1243.7 1102.3,1257Z" fill="#5DA83A"/>
<path d="M1204.7,1362.7 Q1196.9,1342 1190.1,1320.9 Q1199.3,1341 1208.2,1361.3Z" fill="#62A642"/>
<path d="M1201.1,1362.2 Q1201.2,1332.6 1195.6,1303.8 Q1203.7,1332.3 1204.6,1361.8Z" fill="#62A642"/>
<path d="M1211.1,1362.5 Q1203.7,1326.1 1196.8,1289.5 Q1206.7,1325.4 1215.4,1361.5Z" fill="#62A642"/>
<path d="M1186.5,1362.2 Q1181.2,1334.9 1180.4,1306.8 Q1183.6,1334.5 1190,1361.8Z" fill="#62A642"/>
<path d="M1103,1361.9 Q1107.8,1334 1107.7,1305.8 Q1111.2,1334.1 1107.8,1362.1Z" fill="#62A642"/>
<path d="M1129.6,1362.4 Q1125.1,1332.5 1124.6,1302.1 Q1129.2,1332 1135.4,1361.6Z" fill="#62A642"/>
<path d="M1128.7,1362.1 Q1125.4,1336.5 1126.9,1310.5 Q1128.1,1336.3 1132.5,1361.9Z" fill="#62A642"/>
<path d="M1181.6,1361.9 Q1182.2,1334 1186.8,1306.4 Q1184.3,1334.2 1184.6,1362.1Z" fill="#62A642"/>
<path d="M1105.2,1362.5 Q1104.5,1340.3 1101.4,1318.5 Q1108.6,1339.7 1111,1361.5Z" fill="#62A642"/>
<path d="M1138,1361.8 Q1139.7,1339.9 1143.3,1318.2 Q1142.5,1340.2 1142,1362.2Z" fill="#62A642"/>
<path d="M1178.9,1362.3 Q1177.9,1332.1 1173.1,1302.5 Q1180.8,1331.8 1183,1361.7Z" fill="#62A642"/>
<path d="M1155.3,1362.6 Q1142.4,1325.2 1137.6,1285.6 Q1145.8,1324.3 1160.1,1361.4Z" fill="#62A642"/>
<path d="M1173.7,1362.5 Q1168.4,1333.4 1161.8,1304.7 Q1171.1,1332.7 1177.6,1361.5Z" fill="#62A642"/>
<path d="M1109.9,1362.2 Q1111.3,1335.5 1107.2,1309.3 Q1114,1335.3 1113.7,1361.8Z" fill="#62A642"/>
<path d="M1211.4,1360.6 Q1224.2,1339.9 1237.4,1319.5 Q1227.8,1341.9 1216.5,1363.4Z" fill="#62A642"/>
<path d="M1192.8,1362.2 Q1195.1,1324.6 1191,1287.4 Q1199.1,1324.4 1198.6,1361.8Z" fill="#62A642"/>
<path d="M1124.1,1362.2 Q1119.1,1328.2 1120.5,1293.7 Q1122.7,1327.9 1129.3,1361.8Z" fill="#62A642"/>
<path d="M1190.3,1362.9 Q1179.4,1331.7 1169.7,1299.9 Q1182.9,1330.3 1195.3,1361.1Z" fill="#62A642"/>
<path d="M1110.9,1362.7 Q1098.2,1337.2 1088.9,1310.2 Q1100.3,1336.2 1113.9,1361.3Z" fill="#62A642"/>
<path d="M1165,1362.3 Q1163,1324.2 1158.1,1286.4 Q1166.8,1323.7 1170.3,1361.7Z" fill="#62A642"/>
<path d="M1166,1362.9 Q1157,1333.1 1148.8,1302.9 Q1160.9,1331.8 1171.6,1361.1Z" fill="#62A642"/>
<path d="M1124.1,1361.3 Q1133.1,1328.5 1148.1,1297.8 Q1136.1,1329.6 1128.5,1362.7Z" fill="#62A642"/>
<path d="M1196.4,1361.6 Q1200.5,1332.9 1207.7,1304.6 Q1203.6,1333.4 1200.8,1362.4Z" fill="#62A642"/>
<path d="M1148.1,1362 Q1151.5,1323.9 1151.3,1285.7 Q1155.1,1323.9 1153.3,1362Z" fill="#62A642"/>
<path d="M1097.5,1362.7 Q1086.7,1338 1081.1,1311.4 Q1089.4,1337 1101.3,1361.3Z" fill="#62A642"/>
<path d="M1176.8,1361.2 Q1189.9,1329.6 1203.2,1298.1 Q1193.1,1330.8 1181.3,1362.8Z" fill="#62A642"/>
<path d="M1159.4,1361.7 Q1164.7,1340.4 1167,1318.8 Q1168.6,1340.8 1165,1362.3Z" fill="#62A642"/>
<path d="M1175.4,1361.3 Q1183.8,1337.3 1191,1313 Q1187.3,1338.2 1180.5,1362.7Z" fill="#62A642"/>
<path d="M1183.9,1362.7 Q1173,1327.4 1164.2,1291.3 Q1176.3,1326.3 1188.7,1361.3Z" fill="#62A642"/>
<path d="M1120.7,1361.7 Q1123.6,1326.9 1130.6,1292.5 Q1127.3,1327.3 1125.9,1362.3Z" fill="#62A642"/>
<path d="M1203.1,1362.4 Q1200.5,1341.3 1195.8,1320.7 Q1203.2,1340.7 1207,1361.6Z" fill="#62A642"/>
<path d="M1109.5,1362 Q1112,1330.1 1112.4,1298.2 Q1115.9,1330.1 1115.1,1362Z" fill="#62A642"/>
<path d="M1162.1,1362.6 Q1150.3,1334.5 1144.6,1304.3 Q1152.7,1333.7 1165.7,1361.4Z" fill="#62A642"/>
<path d="M1176.9,1361.8 Q1176.7,1341.8 1182,1322 Q1180.6,1342 1182.4,1362.2Z" fill="#62A642"/>
<path d="M1206.3,1361.9 Q1207.5,1341.8 1209.8,1321.7 Q1210.3,1341.9 1210.2,1362.1Z" fill="#62A642"/>
<path d="M1176.7,1362.4 Q1170,1331.5 1166.4,1300 Q1172.7,1331 1180.6,1361.6Z" fill="#62A642"/>
<path d="M1158.5,1362 Q1157.7,1339.8 1160.4,1317.7 Q1160.3,1339.9 1162.2,1362Z" fill="#62A642"/>
<path d="M1128.5,1362.7 Q1113.6,1331.3 1105.7,1297.2 Q1116.2,1330.3 1132.3,1361.3Z" fill="#62A642"/>
<path d="M1154.9,1363.2 Q1146,1338.7 1137,1314.4 Q1149.8,1337.1 1160.3,1360.8Z" fill="#62A642"/>
<path d="M1118.2,1362.4 Q1113.1,1324.2 1102.5,1287.3 Q1115.5,1323.6 1121.6,1361.6Z" fill="#62A642"/>
<path d="M1184.8,1361.4 Q1196.1,1330.3 1205.1,1298.6 Q1199.3,1331.2 1189.3,1362.6Z" fill="#62A642"/>
<path d="M1171.5,1361.7 Q1176.8,1323.9 1181.9,1286.1 Q1181,1324.3 1177.5,1362.3Z" fill="#62A642"/>
<path d="M1126.7,1362.5 Q1120.5,1338.4 1120.8,1313.2 Q1124.5,1337.7 1132.4,1361.5Z" fill="#62A642"/>
<path d="M1119.4,1362.9 Q1109.6,1335.8 1099.1,1308.9 Q1112.7,1334.5 1123.8,1361.1Z" fill="#62A642"/>
<path d="M1116.6,1362.2 Q1113.5,1340.1 1114.4,1317.5 Q1116.3,1339.8 1120.6,1361.8Z" fill="#62A642"/>
<path d="M1118.7,1361.5 Q1127.9,1327.7 1136.2,1293.8 Q1131.4,1328.5 1123.7,1362.5Z" fill="#62A642"/>
<path d="M1190.8,1362.9 Q1180.7,1329.7 1171.7,1296.1 Q1184.6,1328.4 1196.4,1361.1Z" fill="#62A642"/>
<path d="M1103.8,1362.7 Q1093.3,1327.8 1086.8,1291.9 Q1096.7,1326.9 1108.6,1361.3Z" fill="#62A642"/>
<path d="M1105,1362.6 Q1099.8,1338.8 1095.7,1314.6 Q1103.3,1337.9 1110.1,1361.4Z" fill="#62A642"/>
<path d="M1124.9,1362.8 Q1116.7,1325.8 1107.5,1289.1 Q1120.5,1324.8 1130.4,1361.2Z" fill="#62A642"/>
<path d="M1095.3,1361.3 Q1104.9,1341.2 1111.4,1319.9 Q1107.7,1342.1 1099.3,1362.7Z" fill="#62A642"/>
<path d="M1133,1362.3 Q1128.9,1331.4 1127.5,1300.2 Q1132,1331 1137.5,1361.7Z" fill="#62A642"/>
<path d="M1121.9,1362.7 Q1115,1328.6 1103.2,1296 Q1118.1,1327.6 1126.3,1361.3Z" fill="#62A642"/>
<path d="M1177.8,1362 Q1180,1331 1180,1300.1 Q1182.4,1331 1181.2,1362Z" fill="#62A642"/>
<path d="M1187.9,1362.4 Q1184.2,1337.8 1183.2,1312.8 Q1188,1337.2 1193.4,1361.6Z" fill="#62A642"/>
<path d="M1095.2,1361.6 Q1104.7,1332.9 1113.4,1304 Q1106.9,1333.5 1098.3,1362.4Z" fill="#62A642"/>
<path d="M1168.6,1361.7 Q1169.4,1335 1177,1309.1 Q1172.6,1335.4 1173.2,1362.3Z" fill="#62A642"/>
<path d="M1200.1,1361.6 Q1205.8,1339.3 1210.3,1316.9 Q1208.9,1339.9 1204.6,1362.4Z" fill="#62A642"/>
<path d="M1150.4,1361.7 Q1159.5,1325.3 1164.7,1288.3 Q1162.3,1325.8 1154.3,1362.3Z" fill="#62A642"/>
<path d="M1135.6,1361.9 Q1134.1,1329.9 1139.5,1298 Q1137.8,1330 1140.9,1362.1Z" fill="#62A642"/>
<path d="M1128.5,1189.2 Q1125.9,1197.8 1133.5,1202.8 Q1136.1,1194.2 1128.5,1189.2Z" fill="#E2A6BC"/>
<path d="M1142.5,1215.2 Q1139.9,1223.8 1147.5,1228.8 Q1150.1,1220.2 1142.5,1215.2Z" fill="#E2A6BC"/>
<path d="M1148.5,1235.2 Q1145.9,1243.8 1153.5,1248.8 Q1156.1,1240.2 1148.5,1235.2Z" fill="#E2A6BC"/>
<path d="M1128.5,1270.2 Q1125.9,1278.8 1133.5,1283.8 Q1136.1,1275.2 1128.5,1270.2Z" fill="#E2A6BC"/>
<path d="M1154.5,1291.2 Q1151.9,1299.8 1159.5,1304.8 Q1162.1,1296.2 1154.5,1291.2Z" fill="#E2A6BC"/>
<path d="M1189.5,1253.2 Q1186.9,1261.8 1194.5,1266.8 Q1197.1,1258.2 1189.5,1253.2Z" fill="#E2A6BC"/>
<path d="M1147.5,1362 1147.3,1340.4 1147,1318.8 1146.8,1297.2 1146.6,1275.6 1146.3,1254 1146.1,1232.4 1145.8,1210.8 1145.6,1189.2 1145.3,1167.6 1145,1146 1145,1146 1144.7,1167.6 1144.4,1189.2 1144.2,1210.8 1143.9,1232.4 1143.7,1254 1143.4,1275.6 1143.2,1297.2 1143,1318.8 1142.7,1340.4 1142.5,1362Z" fill="#7DB85A"/>
<path d="M1250.2,1362.7 1248.8,1341.3 1247.5,1319.8 1246.2,1298.4 1245,1276.9 1243.8,1255.4 1242.7,1234 1241.6,1212.5 1240.5,1191 1239.4,1169.5 1238,1148 1238,1148 1236.9,1169.5 1236.2,1191 1235.7,1212.6 1235.2,1234.1 1234.9,1255.6 1234.7,1277.1 1234.6,1298.7 1234.6,1320.2 1234.6,1341.7 1234.8,1363.3Z" fill="url(#gBr)"/>
<path d="M1249.7,1361.7 1243,1338.7 1235.5,1316.2 1227.3,1294 1218.2,1272.2 1208.3,1250.8 1197.7,1229.8 1186.3,1209.2 1174,1189 1161,1169.2 1147,1150 1147,1150 1159.6,1170.1 1171.5,1190.5 1182.7,1211.1 1193.2,1232 1202.8,1253.3 1211.7,1274.8 1219.8,1296.7 1227.2,1318.9 1233.7,1341.4 1239.5,1364.3Z" fill="url(#gBr)"/>
<path d="M1264.4,1364 1268,1344.6 1272.2,1325.3 1276.8,1306.1 1281.9,1287.1 1287.6,1268.3 1293.7,1249.6 1300.4,1231 1307.5,1212.6 1315.1,1194.3 1323,1176 1323,1176 1313.6,1193.6 1304.8,1211.4 1296.7,1229.5 1289,1247.8 1281.9,1266.4 1275.3,1285.1 1269.2,1304 1263.7,1323.1 1258.6,1342.5 1254.1,1362Z" fill="url(#gBr)"/>
<path d="M1234.3,1363.3 1235.1,1346.6 1235.9,1329.8 1236.9,1313.1 1238,1296.4 1239.3,1279.6 1240.6,1262.9 1242.1,1246.2 1243.7,1229.5 1245.4,1212.7 1247,1196 1247,1196 1243.8,1212.5 1240.9,1229.1 1238.2,1245.7 1235.6,1262.3 1233.3,1279 1231.1,1295.7 1229.1,1312.4 1227.2,1329.1 1225.5,1345.9 1223.9,1362.7Z" fill="url(#gBr)"/>
<path d="M1260,1361.6 1256,1344.7 1251.5,1327.9 1246.7,1311.2 1241.4,1294.8 1235.6,1278.5 1229.5,1262.4 1222.9,1246.5 1215.8,1230.7 1208.2,1215.2 1200,1200 1200,1200 1206.1,1216.2 1212,1232.3 1217.5,1248.5 1222.7,1264.8 1227.4,1281.1 1231.8,1297.6 1235.7,1314.1 1239.3,1330.8 1242.4,1347.5 1245.2,1364.4Z" fill="url(#gBr)"/>
<path d="M1257.2,1363.8 1259.2,1348.2 1261.5,1332.7 1264.1,1317.2 1267,1301.7 1270.1,1286.3 1273.6,1271 1277.3,1255.7 1281.4,1240.5 1285.6,1225.2 1290,1210 1290,1210 1283.9,1224.7 1278.4,1239.5 1273.2,1254.5 1268.3,1269.6 1263.8,1284.7 1259.6,1300 1255.7,1315.4 1252.2,1330.9 1248.9,1346.5 1246,1362.2Z" fill="url(#gBr)"/>
<path d="M1270.5,1363 1269.9,1350.6 1269.2,1338.3 1268.4,1326 1267.5,1313.6 1266.6,1301.3 1265.5,1289 1264.4,1276.8 1263.1,1264.5 1261.7,1252.2 1260,1240 1260,1240 1259.8,1252.3 1259.8,1264.7 1259.8,1277 1259.8,1289.3 1259.7,1301.6 1259.6,1313.9 1259.4,1326.2 1259.2,1338.5 1258.9,1350.8 1258.5,1363Z" fill="url(#gBr)"/>
<path d="M1239.2,1366.4 1246.2,1353.3 1253.7,1340.6 1261.7,1328.1 1270.1,1316 1278.9,1304.3 1288.3,1292.8 1298.1,1281.7 1308.3,1270.9 1319,1260.4 1330,1250 1330,1250 1317.6,1258.7 1305.7,1268.1 1294.3,1277.9 1283.3,1288.2 1272.8,1299 1262.8,1310.3 1253.1,1321.9 1243.9,1334 1235.2,1346.6 1226.9,1359.6Z" fill="url(#gBr)"/>
<path d="M1279.2,1362 1275.9,1343.3 1272.2,1324.7 1268.3,1306.2 1263.9,1287.9 1259.2,1269.6 1254.2,1251.4 1248.8,1233.4 1243,1215.4 1236.8,1197.6 1230,1180 1230,1180 1234.5,1198.3 1238.9,1216.6 1243.1,1234.9 1247,1253.2 1250.6,1271.5 1253.8,1289.9 1256.8,1308.4 1259.5,1326.9 1261.8,1345.4 1263.8,1364Z" fill="url(#gBr)"/>
<path d="M1360.3,1363.9 Q1362.9,1316.7 1364.9,1269.5 Q1365.3,1316.8 1363.7,1364.1Z" fill="#B8DDA0"/>
<path d="M1471.7,1363.6 Q1490.2,1310.9 1500.6,1256.1 Q1492.1,1311.4 1474.6,1364.4Z" fill="#B8DDA0"/>
<path d="M1430.8,1363.7 Q1439.5,1308.8 1454.8,1255.2 Q1441.5,1309.2 1433.6,1364.3Z" fill="#7DBA4E"/>
<path d="M1568.6,1364.2 Q1567,1340.5 1562.6,1317.2 Q1569,1340.2 1571.3,1363.8Z" fill="#8CC85A"/>
<path d="M1301.2,1363.8 Q1313.9,1286.4 1321.8,1208.5 Q1316.3,1286.7 1304.6,1364.2Z" fill="#A8D68A"/>
<path d="M1553.8,1363.8 Q1562.6,1279.7 1570.1,1195.4 Q1565.4,1279.9 1557.7,1364.2Z" fill="#6DB33F"/>
<path d="M1580.2,1364.3 Q1566.2,1317.8 1557,1270.1 Q1568,1317.4 1582.9,1363.7Z" fill="#8CC85A"/>
<path d="M1580.3,1364.1 Q1582.1,1299.4 1577.7,1235 Q1584.4,1299.3 1583.6,1363.9Z" fill="#A8D68A"/>
<path d="M1461.4,1364 Q1464.7,1314.2 1465.9,1264.4 Q1467.7,1314.3 1465.7,1364Z" fill="#7DBA4E"/>
<path d="M1569,1363.7 Q1579.1,1274.5 1594.9,1186 Q1581.8,1274.9 1572.8,1364.3Z" fill="#7DBA4E"/>
<path d="M1452,1363.8 Q1457.2,1334.7 1458.7,1305.2 Q1459.8,1334.9 1455.7,1364.2Z" fill="#7DBA4E"/>
<path d="M1369.5,1364.3 Q1359.9,1308.8 1345.5,1254.4 Q1361.7,1308.4 1372.1,1363.7Z" fill="#6DB33F"/>
<path d="M1412.1,1364.6 Q1397.9,1323.1 1390.7,1279.7 Q1400.7,1322.3 1416.2,1363.4Z" fill="#6DB33F"/>
<path d="M1474.1,1364.4 Q1464.1,1292.6 1445.3,1222.6 Q1466.5,1292 1477.6,1363.6Z" fill="#A8D68A"/>
<path d="M1373.2,1364.4 Q1365.1,1339.3 1356.6,1314.4 Q1366.8,1338.7 1375.6,1363.6Z" fill="#8CC85A"/>
<path d="M1298,1364.3 Q1289.8,1314.1 1279.2,1264.4 Q1291.9,1313.7 1301,1363.7Z" fill="#B8DDA0"/>
<path d="M1584.2,1364.2 Q1578.5,1317.7 1575.6,1270.8 Q1581.5,1317.3 1588.4,1363.8Z" fill="#7DBA4E"/>
<path d="M1427.3,1364 Q1424.4,1298.3 1430.6,1232.7 Q1427.1,1298.3 1431.1,1364Z" fill="#B8DDA0"/>
<path d="M1582.1,1363.5 Q1592.8,1322.9 1605.1,1282.7 Q1595.7,1323.6 1586.3,1364.5Z" fill="#7DBA4E"/>
<path d="M1365.9,1364.3 Q1358.6,1319.2 1354.9,1273.7 Q1361.7,1318.8 1370.3,1363.7Z" fill="#6DB33F"/>
<path d="M1402.2,1363.8 Q1406.6,1332.6 1409.9,1301.3 Q1408.9,1332.8 1405.6,1364.2Z" fill="#A8D68A"/>
<path d="M1394.8,1363.8 Q1407.5,1292.4 1410.5,1220 Q1410.1,1292.6 1398.4,1364.2Z" fill="#8CC85A"/>
<path d="M1294.6,1364.1 Q1288.9,1299.6 1287.6,1234.8 Q1291.4,1299.4 1298.3,1363.9Z" fill="#A8D68A"/>
<path d="M1398.6,1364.2 Q1394.9,1316.6 1387.5,1269.6 Q1397,1316.4 1401.5,1363.8Z" fill="#B8DDA0"/>
<path d="M1320.2,1363.8 Q1327.3,1275.7 1342.8,1188.6 Q1329.4,1276 1323.2,1364.2Z" fill="#7DBA4E"/>
<path d="M1531.2,1364.5 Q1520.8,1329.9 1515.5,1294 Q1523.3,1329.3 1534.9,1363.5Z" fill="#6DB33F"/>
<path d="M1470,1363.6 Q1489.5,1296.8 1501.8,1228.5 Q1491.7,1297.4 1473.3,1364.4Z" fill="#7DBA4E"/>
<path d="M1339.5,1364.1 Q1331.6,1298.2 1330.2,1231.8 Q1334,1298 1342.9,1363.9Z" fill="#B8DDA0"/>
<path d="M1325.1,1364 Q1325.3,1328.7 1328.6,1293.6 Q1327.3,1328.8 1328,1364Z" fill="#B8DDA0"/>
<path d="M1532.3,1363.9 Q1536.6,1287.3 1543.6,1210.8 Q1539.2,1287.4 1535.9,1364.1Z" fill="#A8D68A"/>
<path d="M1445.3,1363.7 Q1458.1,1310.3 1470.3,1256.7 Q1460.2,1310.7 1448.3,1364.3Z" fill="#6DB33F"/>
<path d="M1298.6,1364.2 Q1298.5,1328.1 1294.9,1292.4 Q1301.5,1327.9 1302.9,1363.8Z" fill="#6DB33F"/>
<path d="M1587.2,1364 Q1584.8,1277.8 1584,1191.5 Q1586.5,1277.7 1589.7,1364Z" fill="#7DBA4E"/>
<path d="M1516.3,1363.8 Q1521.3,1276.4 1534.5,1189.7 Q1523.5,1276.6 1519.4,1364.2Z" fill="#B8DDA0"/>
<path d="M1309.3,1363.9 Q1315.4,1322.4 1316.5,1280.6 Q1317.1,1322.6 1311.9,1364.1Z" fill="#7DBA4E"/>
<path d="M1498,1363.7 Q1506.3,1280 1528.3,1198.7 Q1508.8,1280.5 1501.6,1364.3Z" fill="#6DB33F"/>
<path d="M1513.7,1364.4 Q1502.6,1321.9 1493.3,1278.9 Q1505,1321.3 1517.1,1363.6Z" fill="#8CC85A"/>
<path d="M1571.8,1363.8 Q1576.5,1318.6 1581.5,1273.3 Q1579.6,1318.8 1576.2,1364.2Z" fill="#A8D68A"/>
<path d="M1533.8,1364.7 Q1521.4,1326.5 1505.9,1289.5 Q1523.7,1325.6 1537.1,1363.3Z" fill="#8CC85A"/>
<path d="M1339.8,1363.8 Q1343.5,1278.7 1361.4,1195.3 Q1346.4,1279.1 1343.9,1364.2Z" fill="#7DBA4E"/>
<path d="M1478.8,1363.4 Q1491.8,1338 1504.5,1312.5 Q1493.7,1338.9 1481.4,1364.6Z" fill="#A8D68A"/>
<path d="M1445.2,1364.7 Q1432.6,1319.7 1417,1275.8 Q1435.4,1318.7 1449.1,1363.3Z" fill="#8CC85A"/>
<path d="M1301.9,1364.6 Q1283.8,1310.5 1273.7,1254.3 Q1286.6,1309.8 1306,1363.4Z" fill="#8CC85A"/>
<path d="M1440.2,1364.2 Q1433.8,1320.7 1429.5,1276.9 Q1436,1320.4 1443.4,1363.8Z" fill="#A8D68A"/>
<path d="M1380.6,1364.1 Q1373.9,1275.2 1366.2,1186.4 Q1375.8,1275.1 1383.3,1363.9Z" fill="#6DB33F"/>
<path d="M1505.3,1364.2 Q1501.4,1336.4 1498.5,1308.5 Q1503.2,1336.1 1507.8,1363.8Z" fill="#7DBA4E"/>
<path d="M1484.8,1364 Q1486,1298.8 1489.4,1233.6 Q1488.6,1298.8 1488.5,1364Z" fill="#8CC85A"/>
<path d="M1400.4,1364 Q1400,1294.4 1402.4,1224.7 Q1403.1,1294.4 1404.8,1364Z" fill="#6DB33F"/>
<path d="M1294.2,1364.3 Q1284.6,1323.8 1276.5,1282.9 Q1286.4,1323.4 1296.7,1363.7Z" fill="#B8DDA0"/>
<path d="M1416.6,1363.7 Q1430.8,1278.6 1444.3,1193.3 Q1433.9,1279 1421,1364.3Z" fill="#A8D68A"/>
<path d="M1551.2,1364.4 Q1540.9,1295.1 1527.8,1226.4 Q1543.7,1294.6 1555.2,1363.6Z" fill="#B8DDA0"/>
<path d="M1362.8,1207.2 L1362.8,1293.9" stroke="#8CC63F" stroke-width="2.5"/><ellipse cx="1361.2" cy="1207.2" rx="1.6" ry="2.6" fill="#8CC63F"/><ellipse cx="1364.4" cy="1207.2" rx="1.6" ry="2.6" fill="#8CC63F"/><ellipse cx="1360.8" cy="1213.2" rx="2" ry="2.6" fill="#8CC63F"/><ellipse cx="1364.8" cy="1213.2" rx="2" ry="2.6" fill="#8CC63F"/><ellipse cx="1360.4" cy="1219.2" rx="2.4" ry="2.6" fill="#8CC63F"/><ellipse cx="1365.2" cy="1219.2" rx="2.4" ry="2.6" fill="#8CC63F"/><ellipse cx="1360" cy="1225.3" rx="2.8" ry="2.6" fill="#8CC63F"/><ellipse cx="1365.6" cy="1225.3" rx="2.8" ry="2.6" fill="#8CC63F"/><ellipse cx="1359.6" cy="1231.3" rx="3.2" ry="2.6" fill="#8CC63F"/><ellipse cx="1366" cy="1231.3" rx="3.2" ry="2.6" fill="#8CC63F"/><ellipse cx="1359.2" cy="1237.3" rx="3.6" ry="2.6" fill="#8CC63F"/><ellipse cx="1366.4" cy="1237.3" rx="3.6" ry="2.6" fill="#8CC63F"/><ellipse cx="1358.9" cy="1243.3" rx="3.9" ry="2.6" fill="#8CC63F"/><ellipse cx="1366.7" cy="1243.3" rx="3.9" ry="2.6" fill="#8CC63F"/><ellipse cx="1358.5" cy="1249.3" rx="4.3" ry="2.6" fill="#8CC63F"/><ellipse cx="1367.1" cy="1249.3" rx="4.3" ry="2.6" fill="#8CC63F"/><ellipse cx="1358.1" cy="1255.4" rx="4.7" ry="2.6" fill="#8CC63F"/><ellipse cx="1367.5" cy="1255.4" rx="4.7" ry="2.6" fill="#8CC63F"/>
<path d="M1453.5,1185.9 L1453.5,1272.6" stroke="#8CC63F" stroke-width="2.5"/><ellipse cx="1451.9" cy="1185.9" rx="1.6" ry="2.6" fill="#8CC63F"/><ellipse cx="1455.2" cy="1185.9" rx="1.6" ry="2.6" fill="#8CC63F"/><ellipse cx="1451.5" cy="1191.9" rx="2" ry="2.6" fill="#8CC63F"/><ellipse cx="1455.5" cy="1191.9" rx="2" ry="2.6" fill="#8CC63F"/><ellipse cx="1451.1" cy="1198" rx="2.4" ry="2.6" fill="#8CC63F"/><ellipse cx="1455.9" cy="1198" rx="2.4" ry="2.6" fill="#8CC63F"/><ellipse cx="1450.7" cy="1204" rx="2.8" ry="2.6" fill="#8CC63F"/><ellipse cx="1456.3" cy="1204" rx="2.8" ry="2.6" fill="#8CC63F"/><ellipse cx="1450.3" cy="1210" rx="3.2" ry="2.6" fill="#8CC63F"/><ellipse cx="1456.7" cy="1210" rx="3.2" ry="2.6" fill="#8CC63F"/><ellipse cx="1450" cy="1216" rx="3.6" ry="2.6" fill="#8CC63F"/><ellipse cx="1457.1" cy="1216" rx="3.6" ry="2.6" fill="#8CC63F"/><ellipse cx="1449.6" cy="1222" rx="3.9" ry="2.6" fill="#8CC63F"/><ellipse cx="1457.5" cy="1222" rx="3.9" ry="2.6" fill="#8CC63F"/><ellipse cx="1449.2" cy="1228.1" rx="4.3" ry="2.6" fill="#8CC63F"/><ellipse cx="1457.8" cy="1228.1" rx="4.3" ry="2.6" fill="#8CC63F"/><ellipse cx="1448.8" cy="1234.1" rx="4.7" ry="2.6" fill="#8CC63F"/><ellipse cx="1458.2" cy="1234.1" rx="4.7" ry="2.6" fill="#8CC63F"/>
<path d="M1318,1362.9 L1320.2,1364" stroke="#6FAF35" stroke-width="3.9"/>
<path d="M1318,1362.9 C1320.9,1347 1302.4,1331.1 1293.4,1341.6 C1284.3,1352.1 1302.8,1368.1 1318,1362.9Z" fill="#7DB93A"/><path d="M1318,1362.9 L1297.1,1344.8" stroke="#94CC4A" stroke-width="1.5"/>
<path d="M1424.4,1362.9 L1426.6,1364" stroke="#6FAF35" stroke-width="3.9"/>
<path d="M1424.4,1362.9 C1434.7,1350.4 1426.3,1326.8 1413.2,1331.5 C1400.1,1336.2 1408.5,1359.7 1424.4,1362.9Z" fill="#7DB93A"/><path d="M1424.4,1362.9 L1414.9,1336.2" stroke="#94CC4A" stroke-width="1.5"/>
<path d="M1344.9,1338.2 L1347.1,1364" stroke="#6FAF35" stroke-width="3.9"/>
<path d="M1344.9,1338.2 C1344.6,1318.7 1316.1,1297.7 1306.8,1310.2 C1297.5,1322.8 1326.1,1343.8 1344.9,1338.2Z" fill="#7DB93A"/><path d="M1344.9,1338.2 L1312.5,1314.4" stroke="#94CC4A" stroke-width="1.5"/>
<path d="M1450.2,1331.5 L1452.4,1364" stroke="#6FAF35" stroke-width="3.9"/>
<path d="M1450.2,1331.5 C1438.3,1312.4 1391.2,1300.7 1387.4,1315.8 C1383.7,1331 1430.7,1342.8 1450.2,1331.5Z" fill="#7DB93A"/><path d="M1450.2,1331.5 L1396.8,1318.2" stroke="#94CC4A" stroke-width="1.5"/>
<path d="M1512.9,1333.8 L1515.1,1364" stroke="#6FAF35" stroke-width="3.9"/>
<path d="M1512.9,1333.8 C1513.9,1319.9 1497.1,1309 1490.5,1319.2 C1483.9,1329.4 1500.7,1340.3 1512.9,1333.8Z" fill="#7DB93A"/><path d="M1512.9,1333.8 L1493.8,1321.4" stroke="#94CC4A" stroke-width="1.5"/>
<path d="M1463.6,1310.2 L1465.8,1364" stroke="#6FAF35" stroke-width="3.9"/>
<path d="M1463.6,1310.2 C1463.9,1286.6 1430.3,1261.4 1418.8,1276.6 C1407.3,1291.9 1440.9,1317.1 1463.6,1310.2Z" fill="#7DB93A"/><path d="M1463.6,1310.2 L1425.5,1281.7" stroke="#94CC4A" stroke-width="1.5"/>
<path d="M1511.8,1272.2 L1514,1364" stroke="#6FAF35" stroke-width="3.9"/>
<path d="M1511.8,1272.2 C1520.5,1253.6 1502.9,1225.9 1488.2,1235.2 C1473.6,1244.5 1491.2,1272.2 1511.8,1272.2Z" fill="#7DB93A"/><path d="M1511.8,1272.2 L1491.8,1240.7" stroke="#94CC4A" stroke-width="1.5"/>
<path d="M1505,1294.6 L1507.3,1364" stroke="#6FAF35" stroke-width="3.9"/>
<path d="M1505,1294.6 C1524.9,1305.4 1565.2,1289.4 1558.8,1273.3 C1552.4,1257.1 1512.1,1273.1 1505,1294.6Z" fill="#7DB93A"/><path d="M1505,1294.6 L1550.7,1276.5" stroke="#94CC4A" stroke-width="1.5"/>
<circle cx="1371.2" cy="1322.6" r="12.3" fill="#8E44A8"/><circle cx="1382.9" cy="1331.1" r="12.3" fill="#8E44A8"/><circle cx="1378.4" cy="1344.8" r="12.3" fill="#8E44A8"/><circle cx="1364" cy="1344.8" r="12.3" fill="#8E44A8"/><circle cx="1359.5" cy="1331.1" r="12.3" fill="#8E44A8"/><circle cx="1371.2" cy="1334.9" r="10.1" fill="#B57BC9"/><circle cx="1371.2" cy="1334.9" r="2.7" fill="#F4F1A0"/>
<circle cx="1394.2" cy="1277.4" r="10.5" fill="#8E44A8"/><circle cx="1404.1" cy="1284.6" r="10.5" fill="#8E44A8"/><circle cx="1400.3" cy="1296.3" r="10.5" fill="#8E44A8"/><circle cx="1388" cy="1296.3" r="10.5" fill="#8E44A8"/><circle cx="1384.2" cy="1284.6" r="10.5" fill="#8E44A8"/><circle cx="1394.2" cy="1287.8" r="8.6" fill="#B57BC9"/><circle cx="1394.2" cy="1287.8" r="2.3" fill="#F4F1A0"/>
<circle cx="1540.9" cy="1299.8" r="10.5" fill="#8E44A8"/><circle cx="1550.8" cy="1307" r="10.5" fill="#8E44A8"/><circle cx="1547" cy="1318.7" r="10.5" fill="#8E44A8"/><circle cx="1534.7" cy="1318.7" r="10.5" fill="#8E44A8"/><circle cx="1530.9" cy="1307" r="10.5" fill="#8E44A8"/><circle cx="1540.9" cy="1310.2" r="8.6" fill="#B57BC9"/><circle cx="1540.9" cy="1310.2" r="2.3" fill="#F4F1A0"/>
<ellipse cx="1349.9" cy="1287" rx="9.2" ry="7.1" fill="#9A4DAF" transform="rotate(-150 1349.9 1287)"/><ellipse cx="1364.5" cy="1287" rx="9.2" ry="7.1" fill="#9A4DAF" transform="rotate(-30 1364.5 1287)"/><ellipse cx="1357.2" cy="1299.6" rx="9.2" ry="7.1" fill="#9A4DAF" transform="rotate(90 1357.2 1299.6)"/><circle cx="1357.2" cy="1291.2" r="5" fill="#B98BCB"/><circle cx="1357.2" cy="1291.2" r="1.7" fill="#F4F1A0"/>
<ellipse cx="1569.9" cy="1255.9" rx="8.6" ry="6.6" fill="#9A4DAF" transform="rotate(-150 1569.9 1255.9)"/><ellipse cx="1583.5" cy="1255.9" rx="8.6" ry="6.6" fill="#9A4DAF" transform="rotate(-30 1583.5 1255.9)"/><ellipse cx="1576.7" cy="1267.7" rx="8.6" ry="6.6" fill="#9A4DAF" transform="rotate(90 1576.7 1267.7)"/><circle cx="1576.7" cy="1259.8" r="4.7" fill="#B98BCB"/><circle cx="1576.7" cy="1259.8" r="1.6" fill="#F4F1A0"/>
<ellipse cx="1369.6" cy="1242.8" rx="5.5" ry="4.2" fill="#9A4DAF" transform="rotate(-150 1369.6 1242.8)"/><ellipse cx="1378.4" cy="1242.8" rx="5.5" ry="4.2" fill="#9A4DAF" transform="rotate(-30 1378.4 1242.8)"/><ellipse cx="1374" cy="1250.3" rx="5.5" ry="4.2" fill="#9A4DAF" transform="rotate(90 1374 1250.3)"/><circle cx="1374" cy="1245.3" r="3" fill="#B98BCB"/><circle cx="1374" cy="1245.3" r="1" fill="#F4F1A0"/>
</g>
<g id="row4">
<path d="M1145.2,1726.3 Q1130.3,1683.4 1122.6,1638.5 Q1131.9,1682.9 1147.5,1725.7Z" fill="#7DBA4E"/>
<path d="M1226.5,1726.1 Q1221.1,1646.6 1215.2,1567.2 Q1222.9,1646.5 1229.1,1725.9Z" fill="#8CC85A"/>
<path d="M1155.1,1726.7 Q1143.8,1700.9 1137.3,1673.3 Q1146.4,1699.9 1158.8,1725.3Z" fill="#7DBA4E"/>
<path d="M1250.2,1726.3 Q1244.2,1689.7 1237.2,1653.4 Q1246.1,1689.4 1252.9,1725.7Z" fill="#7DBA4E"/>
<path d="M1273.5,1725.7 Q1282.7,1652.7 1296.6,1580.4 Q1285.3,1653.1 1277.1,1726.3Z" fill="#8CC85A"/>
<path d="M1184.7,1726.2 Q1179.9,1690.8 1170.8,1656.3 Q1181.6,1690.5 1187,1725.8Z" fill="#A8D68A"/>
<path d="M1308.4,1725.9 Q1312.7,1688 1312.9,1650 Q1314.9,1688.1 1311.6,1726.1Z" fill="#A8D68A"/>
<path d="M1304.1,1726 Q1304.4,1681.2 1306,1636.3 Q1306.3,1681.2 1306.9,1726Z" fill="#B8DDA0"/>
<path d="M1144.5,1726.1 Q1139,1658.1 1131.2,1590.3 Q1140.6,1657.9 1146.8,1725.9Z" fill="#8CC85A"/>
<path d="M1156.7,1726 Q1159.4,1677.7 1160,1629.5 Q1161.2,1677.8 1159.1,1726Z" fill="#A8D68A"/>
<path d="M1101,1725.7 Q1112.4,1667.4 1127.1,1609.8 Q1114.3,1667.8 1103.6,1726.3Z" fill="#6DB33F"/>
<path d="M1278,1726.1 Q1269.2,1672.9 1268.4,1619 Q1270.9,1672.8 1280.4,1725.9Z" fill="#A8D68A"/>
<path d="M1143.3,1725.8 Q1155.6,1669.5 1160.4,1612.1 Q1157.3,1669.7 1145.7,1726.2Z" fill="#7DBA4E"/>
<path d="M1158.8,1726.6 Q1148.2,1684 1132.2,1643.1 Q1150.7,1683.1 1162.4,1725.4Z" fill="#8CC85A"/>
<path d="M1274.9,1725.2 Q1287.9,1703.6 1303.7,1683.8 Q1289.5,1704.7 1277.2,1726.8Z" fill="#A8D68A"/>
<path d="M1253.2,1725.8 Q1260.8,1653.2 1276.2,1581.7 Q1262.7,1653.4 1255.8,1726.2Z" fill="#8CC85A"/>
<path d="M1199.1,1726.3 Q1185.3,1684.2 1178.7,1640.2 Q1187.2,1683.7 1201.8,1725.7Z" fill="#7DBA4E"/>
<path d="M1094.7,1726.3 Q1086.1,1659.1 1076.8,1592 Q1088.9,1658.7 1098.6,1725.7Z" fill="#A8D68A"/>
<path d="M1198.1,1726.1 Q1184.3,1651.7 1181.7,1576 Q1185.9,1651.5 1200.4,1725.9Z" fill="#8CC85A"/>
<path d="M1127.3,1725.7 Q1133.4,1696.9 1139.5,1668 Q1135.6,1697.3 1130.4,1726.3Z" fill="#8CC85A"/>
<path d="M1166.8,1726.4 Q1152.4,1656.4 1140.7,1585.8 Q1154.9,1655.9 1170.3,1725.6Z" fill="#A8D68A"/>
<path d="M1340.2,1726 Q1338.5,1691.5 1340.5,1657 Q1340.7,1691.5 1343.3,1726Z" fill="#6DB33F"/>
<path d="M1198.8,1725.9 Q1200.2,1679.9 1209.2,1634.7 Q1202.4,1680.1 1201.9,1726.1Z" fill="#7DBA4E"/>
<path d="M1149.7,1726.3 Q1141.2,1694 1135.7,1661 Q1143.2,1693.6 1152.6,1725.7Z" fill="#7DBA4E"/>
<path d="M1167.6,1725.4 Q1179.3,1686.5 1193,1648.3 Q1182,1687.3 1171.4,1726.6Z" fill="#8CC85A"/>
<path d="M1317.7,1725.9 Q1318.4,1658.2 1328.5,1591.1 Q1320.6,1658.3 1320.8,1726.1Z" fill="#8CC85A"/>
<path d="M1138.5,1725.8 Q1151.9,1652.1 1162.3,1578 Q1153.9,1652.4 1141.2,1726.2Z" fill="#7DBA4E"/>
<path d="M1291.6,1725.9 Q1299.6,1657.3 1301.4,1588.2 Q1301.4,1657.4 1294.2,1726.1Z" fill="#B8DDA0"/>
<path d="M1292.1,1726.1 Q1290.9,1682.2 1283.6,1638.9 Q1292.5,1682 1294.4,1725.9Z" fill="#6DB33F"/>
<path d="M1333.9,1725.7 Q1341,1703.5 1345.2,1680.7 Q1342.6,1703.9 1336.2,1726.3Z" fill="#B8DDA0"/>
<path d="M1257,1726.6 Q1245.4,1695.9 1232.1,1665.9 Q1247.5,1695 1259.9,1725.4Z" fill="#6DB33F"/>
<path d="M1325.1,1726.4 Q1318.2,1705.6 1309.3,1685.6 Q1319.6,1705 1327.2,1725.6Z" fill="#7DBA4E"/>
<path d="M1113.6,1725.8 Q1127.4,1659.4 1133.7,1592 Q1129.6,1659.7 1116.7,1726.2Z" fill="#7DBA4E"/>
<path d="M1135.7,1725.8 Q1141.1,1686 1147.7,1646.3 Q1143.6,1686.3 1139.2,1726.2Z" fill="#B8DDA0"/>
<path d="M1220.9,1726.7 Q1207.2,1704.3 1193.4,1681.9 Q1208.6,1703.4 1222.9,1725.3Z" fill="#B8DDA0"/>
<path d="M1150.1,1725.4 Q1158.9,1703.1 1168.3,1681 Q1161.3,1704 1153.5,1726.6Z" fill="#8CC85A"/>
<path d="M1085.8,1725.7 Q1096,1656.1 1108,1586.7 Q1098.7,1656.5 1089.7,1726.3Z" fill="#8CC85A"/>
<path d="M1136.6,1725.4 Q1150.8,1682 1167,1639.4 Q1153.2,1682.9 1140.2,1726.6Z" fill="#6DB33F"/>
<path d="M1103.5,1725.7 Q1115.8,1657.8 1130,1590.2 Q1117.9,1658.2 1106.6,1726.3Z" fill="#A8D68A"/>
<path d="M1306.5,1725.5 Q1316.9,1702.2 1324.6,1678 Q1319.1,1702.9 1309.6,1726.5Z" fill="#7DBA4E"/>
<path d="M1207.6,1726.4 Q1193.9,1673.4 1186.5,1619 Q1196.5,1672.8 1211.3,1725.6Z" fill="#A8D68A"/>
<path d="M1121.8,1726 Q1119.1,1685.7 1123.5,1645.4 Q1121.8,1685.7 1125.8,1726Z" fill="#B8DDA0"/>
<path d="M1127.3,1725.8 Q1133.2,1698.7 1137.8,1671.5 Q1135.3,1699.1 1130.4,1726.2Z" fill="#8CC85A"/>
<path d="M1209.6,1726.5 Q1198.7,1691.1 1185.4,1656.5 Q1200.6,1690.4 1212.2,1725.5Z" fill="#A8D68A"/>
<path d="M1339.4,1725.9 Q1344.2,1665.3 1348.9,1604.8 Q1346.9,1665.5 1343.2,1726.1Z" fill="#B8DDA0"/>
<path d="M1319.6,1725.7 Q1329.6,1671.9 1338.3,1617.8 Q1332.1,1672.2 1323.2,1726.3Z" fill="#B8DDA0"/>
<path d="M1150,1586 L1150,1663.4" stroke="#8CC63F" stroke-width="2.5"/><ellipse cx="1148.5" cy="1586" rx="1.5" ry="2.6" fill="#8CC63F"/><ellipse cx="1151.5" cy="1586" rx="1.5" ry="2.6" fill="#8CC63F"/><ellipse cx="1148.1" cy="1592.1" rx="1.9" ry="2.6" fill="#8CC63F"/><ellipse cx="1151.9" cy="1592.1" rx="1.9" ry="2.6" fill="#8CC63F"/><ellipse cx="1147.8" cy="1598.3" rx="2.2" ry="2.6" fill="#8CC63F"/><ellipse cx="1152.2" cy="1598.3" rx="2.2" ry="2.6" fill="#8CC63F"/><ellipse cx="1147.4" cy="1604.4" rx="2.6" ry="2.6" fill="#8CC63F"/><ellipse cx="1152.6" cy="1604.4" rx="2.6" ry="2.6" fill="#8CC63F"/><ellipse cx="1147" cy="1610.6" rx="3" ry="2.6" fill="#8CC63F"/><ellipse cx="1153" cy="1610.6" rx="3" ry="2.6" fill="#8CC63F"/><ellipse cx="1146.6" cy="1616.7" rx="3.4" ry="2.6" fill="#8CC63F"/><ellipse cx="1153.4" cy="1616.7" rx="3.4" ry="2.6" fill="#8CC63F"/><ellipse cx="1146.2" cy="1622.9" rx="3.8" ry="2.6" fill="#8CC63F"/><ellipse cx="1153.8" cy="1622.9" rx="3.8" ry="2.6" fill="#8CC63F"/><ellipse cx="1145.8" cy="1629" rx="4.2" ry="2.6" fill="#8CC63F"/><ellipse cx="1154.2" cy="1629" rx="4.2" ry="2.6" fill="#8CC63F"/>
<path d="M1231,1567 L1231,1644.4" stroke="#8CC63F" stroke-width="2.5"/><ellipse cx="1229.5" cy="1567" rx="1.5" ry="2.6" fill="#8CC63F"/><ellipse cx="1232.5" cy="1567" rx="1.5" ry="2.6" fill="#8CC63F"/><ellipse cx="1229.1" cy="1573.1" rx="1.9" ry="2.6" fill="#8CC63F"/><ellipse cx="1232.9" cy="1573.1" rx="1.9" ry="2.6" fill="#8CC63F"/><ellipse cx="1228.8" cy="1579.3" rx="2.2" ry="2.6" fill="#8CC63F"/><ellipse cx="1233.2" cy="1579.3" rx="2.2" ry="2.6" fill="#8CC63F"/><ellipse cx="1228.4" cy="1585.4" rx="2.6" ry="2.6" fill="#8CC63F"/><ellipse cx="1233.6" cy="1585.4" rx="2.6" ry="2.6" fill="#8CC63F"/><ellipse cx="1228" cy="1591.6" rx="3" ry="2.6" fill="#8CC63F"/><ellipse cx="1234" cy="1591.6" rx="3" ry="2.6" fill="#8CC63F"/><ellipse cx="1227.6" cy="1597.7" rx="3.4" ry="2.6" fill="#8CC63F"/><ellipse cx="1234.4" cy="1597.7" rx="3.4" ry="2.6" fill="#8CC63F"/><ellipse cx="1227.2" cy="1603.9" rx="3.8" ry="2.6" fill="#8CC63F"/><ellipse cx="1234.8" cy="1603.9" rx="3.8" ry="2.6" fill="#8CC63F"/><ellipse cx="1226.8" cy="1610" rx="4.2" ry="2.6" fill="#8CC63F"/><ellipse cx="1235.2" cy="1610" rx="4.2" ry="2.6" fill="#8CC63F"/>
<path d="M1110,1725 L1112,1726" stroke="#6FAF35" stroke-width="3.5"/>
<path d="M1110,1725 C1112.6,1710.9 1096.1,1696.6 1088,1706 C1079.9,1715.4 1096.4,1729.6 1110,1725Z" fill="#7DB93A"/><path d="M1110,1725 L1091.3,1708.8" stroke="#94CC4A" stroke-width="1.5"/>
<path d="M1205,1725 L1207,1726" stroke="#6FAF35" stroke-width="3.5"/>
<path d="M1205,1725 C1214.2,1713.8 1206.7,1692.8 1195,1697 C1183.3,1701.2 1190.8,1722.2 1205,1725Z" fill="#7DB93A"/><path d="M1205,1725 L1196.5,1701.2" stroke="#94CC4A" stroke-width="1.5"/>
<path d="M1134,1703 L1136,1726" stroke="#6FAF35" stroke-width="3.5"/>
<path d="M1134,1703 C1133.8,1685.5 1108.3,1666.8 1100,1678 C1091.7,1689.2 1117.2,1708 1134,1703Z" fill="#7DB93A"/><path d="M1134,1703 L1105.1,1681.8" stroke="#94CC4A" stroke-width="1.5"/>
<path d="M1228,1697 L1230,1726" stroke="#6FAF35" stroke-width="3.5"/>
<path d="M1228,1697 C1217.4,1680 1175.4,1669.5 1172,1683 C1168.6,1696.5 1210.6,1707 1228,1697Z" fill="#7DB93A"/><path d="M1228,1697 L1180.4,1685.1" stroke="#94CC4A" stroke-width="1.5"/>
<path d="M1284,1699 L1286,1726" stroke="#6FAF35" stroke-width="3.5"/>
<path d="M1284,1699 C1284.9,1686.7 1269.9,1676.9 1264,1686 C1258.1,1695.1 1273.1,1704.8 1284,1699Z" fill="#7DB93A"/><path d="M1284,1699 L1267,1688" stroke="#94CC4A" stroke-width="1.5"/>
<path d="M1240,1678 L1242,1726" stroke="#6FAF35" stroke-width="3.5"/>
<path d="M1240,1678 C1240.2,1656.9 1210.2,1634.4 1200,1648 C1189.8,1661.6 1219.8,1684.1 1240,1678Z" fill="#7DB93A"/><path d="M1240,1678 L1206,1652.5" stroke="#94CC4A" stroke-width="1.5"/>
<path d="M1283,1644 L1285,1726" stroke="#6FAF35" stroke-width="3.5"/>
<path d="M1283,1644 C1290.8,1627.4 1275.1,1602.7 1262,1611 C1248.9,1619.3 1264.7,1644.1 1283,1644Z" fill="#7DB93A"/><path d="M1283,1644 L1265.2,1616" stroke="#94CC4A" stroke-width="1.5"/>
<path d="M1277,1664 L1279,1726" stroke="#6FAF35" stroke-width="3.5"/>
<path d="M1277,1664 C1294.7,1673.7 1330.7,1659.4 1325,1645 C1319.3,1630.6 1283.3,1644.8 1277,1664Z" fill="#7DB93A"/><path d="M1277,1664 L1317.8,1647.8" stroke="#94CC4A" stroke-width="1.5"/>
<circle cx="1157.5" cy="1689" r="11" fill="#8E44A8"/><circle cx="1168" cy="1696.6" r="11" fill="#8E44A8"/><circle cx="1164" cy="1708.9" r="11" fill="#8E44A8"/><circle cx="1151" cy="1708.9" r="11" fill="#8E44A8"/><circle cx="1147" cy="1696.6" r="11" fill="#8E44A8"/><circle cx="1157.5" cy="1700" r="9" fill="#B57BC9"/><circle cx="1157.5" cy="1700" r="2.4" fill="#F4F1A0"/>
<circle cx="1178" cy="1648.7" r="9.4" fill="#8E44A8"/><circle cx="1186.9" cy="1655.1" r="9.4" fill="#8E44A8"/><circle cx="1183.5" cy="1665.6" r="9.4" fill="#8E44A8"/><circle cx="1172.5" cy="1665.6" r="9.4" fill="#8E44A8"/><circle cx="1169.1" cy="1655.1" r="9.4" fill="#8E44A8"/><circle cx="1178" cy="1658" r="7.7" fill="#B57BC9"/><circle cx="1178" cy="1658" r="2" fill="#F4F1A0"/>
<circle cx="1309" cy="1668.7" r="9.4" fill="#8E44A8"/><circle cx="1317.9" cy="1675.1" r="9.4" fill="#8E44A8"/><circle cx="1314.5" cy="1685.6" r="9.4" fill="#8E44A8"/><circle cx="1303.5" cy="1685.6" r="9.4" fill="#8E44A8"/><circle cx="1300.1" cy="1675.1" r="9.4" fill="#8E44A8"/><circle cx="1309" cy="1678" r="7.7" fill="#B57BC9"/><circle cx="1309" cy="1678" r="2" fill="#F4F1A0"/>
<ellipse cx="1138.5" cy="1657.2" rx="8.2" ry="6.3" fill="#9A4DAF" transform="rotate(-150 1138.5 1657.2)"/><ellipse cx="1151.5" cy="1657.2" rx="8.2" ry="6.3" fill="#9A4DAF" transform="rotate(-30 1151.5 1657.2)"/><ellipse cx="1145" cy="1668.5" rx="8.2" ry="6.3" fill="#9A4DAF" transform="rotate(90 1145 1668.5)"/><circle cx="1145" cy="1661" r="4.5" fill="#B98BCB"/><circle cx="1145" cy="1661" r="1.5" fill="#F4F1A0"/>
<ellipse cx="1334.9" cy="1629.5" rx="7.7" ry="5.9" fill="#9A4DAF" transform="rotate(-150 1334.9 1629.5)"/><ellipse cx="1347.1" cy="1629.5" rx="7.7" ry="5.9" fill="#9A4DAF" transform="rotate(-30 1347.1 1629.5)"/><ellipse cx="1341" cy="1640" rx="7.7" ry="5.9" fill="#9A4DAF" transform="rotate(90 1341 1640)"/><circle cx="1341" cy="1633" r="4.2" fill="#B98BCB"/><circle cx="1341" cy="1633" r="1.4" fill="#F4F1A0"/>
<ellipse cx="1156.1" cy="1617.8" rx="5" ry="3.8" fill="#9A4DAF" transform="rotate(-150 1156.1 1617.8)"/><ellipse cx="1163.9" cy="1617.8" rx="5" ry="3.8" fill="#9A4DAF" transform="rotate(-30 1163.9 1617.8)"/><ellipse cx="1160" cy="1624.5" rx="5" ry="3.8" fill="#9A4DAF" transform="rotate(90 1160 1624.5)"/><circle cx="1160" cy="1620" r="2.7" fill="#B98BCB"/><circle cx="1160" cy="1620" r="0.9" fill="#F4F1A0"/>
<path d="M1511.8,1733.9 Q1519.1,1666.2 1527.5,1598.6 Q1520.6,1666.3 1514.1,1734.1Z" fill="#B8DDA0"/>
<path d="M1594.8,1733.9 Q1604.1,1660.1 1605.2,1585.9 Q1606.1,1660.3 1597.7,1734.1Z" fill="#8CC85A"/>
<path d="M1448.6,1734.5 Q1435.3,1700 1426.1,1664.1 Q1437.2,1699.3 1451.4,1733.5Z" fill="#7DBA4E"/>
<path d="M1575.3,1734.1 Q1573.6,1668.3 1569.9,1602.6 Q1575.3,1668.2 1577.8,1733.9Z" fill="#8CC85A"/>
<path d="M1382.2,1734.4 Q1373.1,1660.9 1354,1589.4 Q1375.5,1660.4 1385.7,1733.6Z" fill="#7DBA4E"/>
<path d="M1392.6,1734.4 Q1384.1,1695.2 1374.1,1656.4 Q1386.3,1694.6 1395.7,1733.6Z" fill="#7DBA4E"/>
<path d="M1402.9,1733.7 Q1415.2,1672.1 1430.7,1611.1 Q1417,1672.5 1405.6,1734.3Z" fill="#6DB33F"/>
<path d="M1392.5,1734.7 Q1382.7,1710.5 1372.9,1686.2 Q1385,1709.4 1395.8,1733.3Z" fill="#A8D68A"/>
<path d="M1504.2,1733.5 Q1510.9,1709.7 1518.4,1686.1 Q1513.4,1710.3 1507.7,1734.5Z" fill="#A8D68A"/>
<path d="M1431.8,1734 Q1436,1671.7 1432,1609.4 Q1437.8,1671.7 1434.4,1734Z" fill="#8CC85A"/>
<path d="M1596,1734.2 Q1591.3,1690 1589.3,1645.5 Q1593.8,1689.7 1599.6,1733.8Z" fill="#B8DDA0"/>
<path d="M1500,1734.9 Q1487.4,1710.8 1472,1688.4 Q1489.3,1709.5 1502.8,1733.1Z" fill="#7DBA4E"/>
<path d="M1380.5,1734.2 Q1371.7,1665.1 1366.7,1595.7 Q1373.7,1664.9 1383.3,1733.8Z" fill="#6DB33F"/>
<path d="M1485.6,1733.4 Q1492.5,1706.5 1504,1681 Q1495,1707.3 1489.2,1734.6Z" fill="#A8D68A"/>
<path d="M1595.5,1734.4 Q1581.4,1694.5 1572.4,1653.1 Q1583.3,1694 1598.3,1733.6Z" fill="#B8DDA0"/>
<path d="M1421.3,1733.7 Q1429,1708.5 1434.8,1683 Q1430.9,1709 1424,1734.3Z" fill="#A8D68A"/>
<path d="M1512.7,1733.8 Q1517,1694.8 1527.2,1656.9 Q1518.7,1695.1 1515.2,1734.2Z" fill="#6DB33F"/>
<path d="M1605.8,1734 Q1606.2,1689.6 1609.6,1645.3 Q1608.7,1689.6 1609.3,1734Z" fill="#7DBA4E"/>
<path d="M1414.3,1733.7 Q1418.6,1704.9 1425.1,1676.5 Q1421.1,1705.3 1417.9,1734.3Z" fill="#8CC85A"/>
<path d="M1403.2,1733.6 Q1420.6,1680.5 1433.7,1626.3 Q1422.9,1681.1 1406.4,1734.4Z" fill="#7DBA4E"/>
<path d="M1377.4,1734.1 Q1375.6,1705.1 1374.8,1676.1 Q1377.5,1705 1380.1,1733.9Z" fill="#6DB33F"/>
<path d="M1608.9,1733.7 Q1622.4,1655.6 1632,1576.9 Q1625.1,1655.9 1612.8,1734.3Z" fill="#6DB33F"/>
<path d="M1432.4,1734.2 Q1428.5,1685.6 1420,1637.6 Q1430.1,1685.3 1434.8,1733.8Z" fill="#7DBA4E"/>
<path d="M1488,1734.2 Q1478.7,1657.9 1470,1581.5 Q1480.4,1657.7 1490.5,1733.8Z" fill="#A8D68A"/>
<path d="M1483.1,1733.9 Q1487.3,1683.9 1487.8,1633.7 Q1489.9,1683.9 1486.8,1734.1Z" fill="#8CC85A"/>
<path d="M1530,1733.9 Q1537.2,1668.5 1541.4,1602.8 Q1539.4,1668.6 1533.2,1734.1Z" fill="#A8D68A"/>
<path d="M1566.2,1734.2 Q1557.7,1655.4 1554.1,1576.3 Q1560.5,1655.2 1570.1,1733.8Z" fill="#A8D68A"/>
<path d="M1396.1,1733.7 Q1405.3,1685 1418.6,1637.1 Q1407.2,1685.4 1398.8,1734.3Z" fill="#A8D68A"/>
<path d="M1424.7,1734 Q1426.5,1673.6 1426.1,1613.2 Q1428.5,1673.6 1427.5,1734Z" fill="#A8D68A"/>
<path d="M1541,1733.6 Q1552.6,1693 1562.5,1652 Q1555.2,1693.6 1544.7,1734.4Z" fill="#7DBA4E"/>
<path d="M1602.9,1733.5 Q1614.7,1681.9 1632.2,1631.8 Q1617.4,1682.6 1606.7,1734.5Z" fill="#B8DDA0"/>
<path d="M1443.4,1733.5 Q1455.9,1697.1 1466.4,1660.1 Q1458.3,1697.8 1446.8,1734.5Z" fill="#8CC85A"/>
<path d="M1394.3,1733.8 Q1403.6,1679.1 1412.5,1624.3 Q1405.5,1679.4 1397,1734.2Z" fill="#6DB33F"/>
<path d="M1575.2,1734.1 Q1568,1654.4 1562.7,1574.5 Q1569.7,1654.2 1577.7,1733.9Z" fill="#7DBA4E"/>
<path d="M1518.1,1734.3 Q1514.9,1672.4 1503.2,1611.7 Q1517.7,1672 1522,1733.7Z" fill="#8CC85A"/>
<path d="M1392.7,1733.4 Q1405.1,1707 1417.6,1680.7 Q1407,1707.9 1395.5,1734.6Z" fill="#7DBA4E"/>
<path d="M1457.4,1734.1 Q1450.9,1674.5 1450.1,1614.5 Q1453.2,1674.4 1460.7,1733.9Z" fill="#8CC85A"/>
<path d="M1584.1,1734.6 Q1572.2,1689.2 1555.9,1645.4 Q1574.7,1688.4 1587.6,1733.4Z" fill="#A8D68A"/>
<path d="M1528.5,1734 Q1525.3,1656 1532.9,1578.3 Q1527.6,1656.1 1531.8,1734Z" fill="#B8DDA0"/>
<path d="M1490.9,1734.2 Q1485.9,1679.3 1483.1,1624.3 Q1488.5,1679.1 1494.6,1733.8Z" fill="#A8D68A"/>
<path d="M1561.1,1733.9 Q1565,1691.7 1570.9,1649.7 Q1566.7,1691.8 1563.6,1734.1Z" fill="#7DBA4E"/>
<path d="M1473.7,1734.4 Q1466.8,1705.8 1457,1678 Q1468.7,1705.1 1476.4,1733.6Z" fill="#8CC85A"/>
<path d="M1349.7,1734.3 Q1336.9,1680.6 1327.7,1626.1 Q1339.1,1680.1 1352.8,1733.7Z" fill="#B8DDA0"/>
<path d="M1577.3,1733.9 Q1579.6,1688.2 1582.7,1642.5 Q1581.7,1688.3 1580.4,1734.1Z" fill="#7DBA4E"/>
<path d="M1533.5,1734.1 Q1527.8,1662.9 1528.2,1591.4 Q1530.1,1662.8 1536.8,1733.9Z" fill="#7DBA4E"/>
<path d="M1604.1,1734 Q1603.2,1689.1 1605.8,1644.1 Q1605.9,1689.1 1608,1734Z" fill="#A8D68A"/>
<path d="M1416,1594 L1416,1671.4" stroke="#8CC63F" stroke-width="2.5"/><ellipse cx="1414.5" cy="1594" rx="1.5" ry="2.6" fill="#8CC63F"/><ellipse cx="1417.5" cy="1594" rx="1.5" ry="2.6" fill="#8CC63F"/><ellipse cx="1414.1" cy="1600.1" rx="1.9" ry="2.6" fill="#8CC63F"/><ellipse cx="1417.9" cy="1600.1" rx="1.9" ry="2.6" fill="#8CC63F"/><ellipse cx="1413.8" cy="1606.3" rx="2.2" ry="2.6" fill="#8CC63F"/><ellipse cx="1418.2" cy="1606.3" rx="2.2" ry="2.6" fill="#8CC63F"/><ellipse cx="1413.4" cy="1612.4" rx="2.6" ry="2.6" fill="#8CC63F"/><ellipse cx="1418.6" cy="1612.4" rx="2.6" ry="2.6" fill="#8CC63F"/><ellipse cx="1413" cy="1618.6" rx="3" ry="2.6" fill="#8CC63F"/><ellipse cx="1419" cy="1618.6" rx="3" ry="2.6" fill="#8CC63F"/><ellipse cx="1412.6" cy="1624.7" rx="3.4" ry="2.6" fill="#8CC63F"/><ellipse cx="1419.4" cy="1624.7" rx="3.4" ry="2.6" fill="#8CC63F"/><ellipse cx="1412.2" cy="1630.9" rx="3.8" ry="2.6" fill="#8CC63F"/><ellipse cx="1419.8" cy="1630.9" rx="3.8" ry="2.6" fill="#8CC63F"/><ellipse cx="1411.8" cy="1637" rx="4.2" ry="2.6" fill="#8CC63F"/><ellipse cx="1420.2" cy="1637" rx="4.2" ry="2.6" fill="#8CC63F"/>
<path d="M1497,1575 L1497,1652.4" stroke="#8CC63F" stroke-width="2.5"/><ellipse cx="1495.5" cy="1575" rx="1.5" ry="2.6" fill="#8CC63F"/><ellipse cx="1498.5" cy="1575" rx="1.5" ry="2.6" fill="#8CC63F"/><ellipse cx="1495.1" cy="1581.1" rx="1.9" ry="2.6" fill="#8CC63F"/><ellipse cx="1498.9" cy="1581.1" rx="1.9" ry="2.6" fill="#8CC63F"/><ellipse cx="1494.8" cy="1587.3" rx="2.2" ry="2.6" fill="#8CC63F"/><ellipse cx="1499.2" cy="1587.3" rx="2.2" ry="2.6" fill="#8CC63F"/><ellipse cx="1494.4" cy="1593.4" rx="2.6" ry="2.6" fill="#8CC63F"/><ellipse cx="1499.6" cy="1593.4" rx="2.6" ry="2.6" fill="#8CC63F"/><ellipse cx="1494" cy="1599.6" rx="3" ry="2.6" fill="#8CC63F"/><ellipse cx="1500" cy="1599.6" rx="3" ry="2.6" fill="#8CC63F"/><ellipse cx="1493.6" cy="1605.7" rx="3.4" ry="2.6" fill="#8CC63F"/><ellipse cx="1500.4" cy="1605.7" rx="3.4" ry="2.6" fill="#8CC63F"/><ellipse cx="1493.2" cy="1611.9" rx="3.8" ry="2.6" fill="#8CC63F"/><ellipse cx="1500.8" cy="1611.9" rx="3.8" ry="2.6" fill="#8CC63F"/><ellipse cx="1492.8" cy="1618" rx="4.2" ry="2.6" fill="#8CC63F"/><ellipse cx="1501.2" cy="1618" rx="4.2" ry="2.6" fill="#8CC63F"/>
<path d="M1376,1733 L1378,1734" stroke="#6FAF35" stroke-width="3.5"/>
<path d="M1376,1733 C1378.6,1718.9 1362.1,1704.6 1354,1714 C1345.9,1723.4 1362.4,1737.6 1376,1733Z" fill="#7DB93A"/><path d="M1376,1733 L1357.3,1716.8" stroke="#94CC4A" stroke-width="1.5"/>
<path d="M1471,1733 L1473,1734" stroke="#6FAF35" stroke-width="3.5"/>
<path d="M1471,1733 C1480.2,1721.8 1472.7,1700.8 1461,1705 C1449.3,1709.2 1456.8,1730.2 1471,1733Z" fill="#7DB93A"/><path d="M1471,1733 L1462.5,1709.2" stroke="#94CC4A" stroke-width="1.5"/>
<path d="M1400,1711 L1402,1734" stroke="#6FAF35" stroke-width="3.5"/>
<path d="M1400,1711 C1399.8,1693.5 1374.3,1674.8 1366,1686 C1357.7,1697.2 1383.2,1716 1400,1711Z" fill="#7DB93A"/><path d="M1400,1711 L1371.1,1689.8" stroke="#94CC4A" stroke-width="1.5"/>
<path d="M1494,1705 L1496,1734" stroke="#6FAF35" stroke-width="3.5"/>
<path d="M1494,1705 C1483.4,1688 1441.4,1677.5 1438,1691 C1434.6,1704.5 1476.6,1715 1494,1705Z" fill="#7DB93A"/><path d="M1494,1705 L1446.4,1693.1" stroke="#94CC4A" stroke-width="1.5"/>
<path d="M1550,1707 L1552,1734" stroke="#6FAF35" stroke-width="3.5"/>
<path d="M1550,1707 C1550.9,1694.7 1535.9,1684.9 1530,1694 C1524.1,1703.1 1539.1,1712.8 1550,1707Z" fill="#7DB93A"/><path d="M1550,1707 L1533,1696" stroke="#94CC4A" stroke-width="1.5"/>
<path d="M1506,1686 L1508,1734" stroke="#6FAF35" stroke-width="3.5"/>
<path d="M1506,1686 C1506.2,1664.9 1476.2,1642.4 1466,1656 C1455.8,1669.6 1485.8,1692.1 1506,1686Z" fill="#7DB93A"/><path d="M1506,1686 L1472,1660.5" stroke="#94CC4A" stroke-width="1.5"/>
<path d="M1549,1652 L1551,1734" stroke="#6FAF35" stroke-width="3.5"/>
<path d="M1549,1652 C1556.8,1635.4 1541.1,1610.7 1528,1619 C1514.9,1627.3 1530.7,1652.1 1549,1652Z" fill="#7DB93A"/><path d="M1549,1652 L1531.2,1624" stroke="#94CC4A" stroke-width="1.5"/>
<path d="M1543,1672 L1545,1734" stroke="#6FAF35" stroke-width="3.5"/>
<path d="M1543,1672 C1560.7,1681.7 1596.7,1667.4 1591,1653 C1585.3,1638.6 1549.3,1652.8 1543,1672Z" fill="#7DB93A"/><path d="M1543,1672 L1583.8,1655.8" stroke="#94CC4A" stroke-width="1.5"/>
<circle cx="1423.5" cy="1697" r="11" fill="#8E44A8"/><circle cx="1434" cy="1704.6" r="11" fill="#8E44A8"/><circle cx="1430" cy="1716.9" r="11" fill="#8E44A8"/><circle cx="1417" cy="1716.9" r="11" fill="#8E44A8"/><circle cx="1413" cy="1704.6" r="11" fill="#8E44A8"/><circle cx="1423.5" cy="1708" r="9" fill="#B57BC9"/><circle cx="1423.5" cy="1708" r="2.4" fill="#F4F1A0"/>
<circle cx="1444" cy="1656.7" r="9.4" fill="#8E44A8"/><circle cx="1452.9" cy="1663.1" r="9.4" fill="#8E44A8"/><circle cx="1449.5" cy="1673.6" r="9.4" fill="#8E44A8"/><circle cx="1438.5" cy="1673.6" r="9.4" fill="#8E44A8"/><circle cx="1435.1" cy="1663.1" r="9.4" fill="#8E44A8"/><circle cx="1444" cy="1666" r="7.7" fill="#B57BC9"/><circle cx="1444" cy="1666" r="2" fill="#F4F1A0"/>
<circle cx="1575" cy="1676.7" r="9.4" fill="#8E44A8"/><circle cx="1583.9" cy="1683.1" r="9.4" fill="#8E44A8"/><circle cx="1580.5" cy="1693.6" r="9.4" fill="#8E44A8"/><circle cx="1569.5" cy="1693.6" r="9.4" fill="#8E44A8"/><circle cx="1566.1" cy="1683.1" r="9.4" fill="#8E44A8"/><circle cx="1575" cy="1686" r="7.7" fill="#B57BC9"/><circle cx="1575" cy="1686" r="2" fill="#F4F1A0"/>
<ellipse cx="1404.5" cy="1665.2" rx="8.2" ry="6.3" fill="#9A4DAF" transform="rotate(-150 1404.5 1665.2)"/><ellipse cx="1417.5" cy="1665.2" rx="8.2" ry="6.3" fill="#9A4DAF" transform="rotate(-30 1417.5 1665.2)"/><ellipse cx="1411" cy="1676.5" rx="8.2" ry="6.3" fill="#9A4DAF" transform="rotate(90 1411 1676.5)"/><circle cx="1411" cy="1669" r="4.5" fill="#B98BCB"/><circle cx="1411" cy="1669" r="1.5" fill="#F4F1A0"/>
<ellipse cx="1600.9" cy="1637.5" rx="7.7" ry="5.9" fill="#9A4DAF" transform="rotate(-150 1600.9 1637.5)"/><ellipse cx="1613.1" cy="1637.5" rx="7.7" ry="5.9" fill="#9A4DAF" transform="rotate(-30 1613.1 1637.5)"/><ellipse cx="1607" cy="1648" rx="7.7" ry="5.9" fill="#9A4DAF" transform="rotate(90 1607 1648)"/><circle cx="1607" cy="1641" r="4.2" fill="#B98BCB"/><circle cx="1607" cy="1641" r="1.4" fill="#F4F1A0"/>
<ellipse cx="1422.1" cy="1625.8" rx="5" ry="3.8" fill="#9A4DAF" transform="rotate(-150 1422.1 1625.8)"/><ellipse cx="1429.9" cy="1625.8" rx="5" ry="3.8" fill="#9A4DAF" transform="rotate(-30 1429.9 1625.8)"/><ellipse cx="1426" cy="1632.5" rx="5" ry="3.8" fill="#9A4DAF" transform="rotate(90 1426 1632.5)"/><circle cx="1426" cy="1628" r="2.7" fill="#B98BCB"/><circle cx="1426" cy="1628" r="0.9" fill="#F4F1A0"/>
</g>
</g>

<!-- COWS -->
<g id="cows">
<use href="#cow" transform="translate(130,290)"/>
<use href="#cow" transform="translate(130,703.9)"/>
<use href="#cow" transform="translate(136.1,1091)"/>
<use href="#cow" transform="translate(129,1479)"/>
<g stroke="#000" stroke-width="11.5" stroke-linecap="butt">
<path d="M356.1,454.4 L401.4,499.8 M401.4,454.4 L356.1,499.8"/>
<path d="M350.1,870.4 L394.4,913.8 M394.4,870.4 L350.1,913.8"/>
<path d="M357.1,1268.6 L402.4,1312 M402.4,1268.6 L357.1,1312"/>
<path d="M357.1,1650.5 L402.6,1695.9 M402.6,1650.5 L357.1,1695.9"/>
</g>
<g class="b" font-size="121" fill="#000" stroke="#000" stroke-width="3">
<text transform="translate(418.8,512.3) scale(1.17,1)">0</text>
<text transform="translate(411,925.5) scale(1.2,1)">2</text>
<text transform="translate(421,1325.7) scale(1.1,1)">4</text>
<text transform="translate(421,1708.5) scale(1.13,1)">8</text>
</g>
</g>

<!-- RIGHT PANEL -->
<g id="rpanel">
<path d="M2160,1308 L2160,1230 Q2200,1170 2260,1180 Q2320,1160 2380,1200 L2420,1180 Q2480,1150 2540,1190 Q2580,1220 2588,1250 L2588,1308 Z" fill="url(#gG4)"/>
<path d="M2244.9,1306.4 2239.8,1263.6 2232.6,1221.6 2223.6,1180.6 2212.6,1140.6 2199.7,1101.5 2184.8,1063.4 2168.1,1026.2 2149.5,990.1 2128.9,955 2106.5,920.9 2082.2,887.9 2055.9,855.9 2027.7,825.1 1997,796 1997,796 2022.9,829.3 2047.5,862.5 2070.3,896.3 2091.3,930.6 2110.4,965.5 2127.7,1001.1 2143.1,1037.3 2156.6,1074.1 2168.2,1111.6 2178.1,1149.8 2186.1,1188.7 2192.2,1228.3 2196.5,1268.5 2199.1,1309.6Z" fill="url(#gG1)"/>
<path d="M2260,1307.1 2256.1,1261 2250.9,1215.3 2244.5,1170 2236.8,1125.1 2227.8,1080.5 2217.6,1036.3 2206,992.5 2193.2,949.1 2179.1,906.1 2163.7,863.6 2147,821.4 2129,779.7 2109.5,738.4 2088,698 2088,698 2104.4,740.7 2120.3,783.2 2135.2,825.8 2148.9,868.6 2161.5,911.6 2172.8,954.8 2183,998.3 2191.9,1041.9 2199.6,1085.8 2206.1,1130 2211.4,1174.3 2215.5,1219 2218.4,1263.8 2220,1308.9Z" fill="url(#gG2)"/>
<path d="M2284,1306.9 2281,1262.8 2279,1218.7 2277.9,1174.7 2277.9,1130.8 2278.7,1086.9 2280.6,1043.1 2283.4,999.3 2287.2,955.5 2291.9,911.8 2297.5,868.1 2304.1,824.4 2311.5,780.7 2319.7,737 2328,693 2328,693 2313.8,735.5 2301.5,778.4 2290.5,821.6 2280.6,865.1 2271.8,908.7 2264.1,952.5 2257.4,996.5 2251.8,1040.6 2247.2,1085 2243.7,1129.5 2241.2,1174.1 2239.8,1219 2239.4,1264 2240,1309.1Z" fill="url(#gG1)"/>
<path d="M2321,1307.6 2319.6,1270.2 2319.3,1233 2319.9,1195.9 2321.6,1158.9 2324.2,1122 2327.9,1085.3 2332.6,1048.6 2338.3,1012.1 2345,975.6 2352.7,939.2 2361.3,902.9 2370.9,866.7 2381.3,830.5 2392,794 2392,794 2375.9,828.5 2361.6,863.6 2348.6,899.1 2336.8,935 2326.1,971.1 2316.5,1007.5 2308,1044.2 2300.6,1081.2 2294.3,1118.4 2289.1,1155.9 2284.9,1193.7 2281.9,1231.7 2279.9,1269.9 2279,1308.4Z" fill="url(#gG1)"/>
<path d="M2269,1308.2 2268.4,1281.9 2267.7,1255.6 2267,1229.3 2266.4,1203 2265.6,1176.7 2264.9,1150.4 2264.1,1124.1 2263.3,1097.8 2262.4,1071.5 2261.5,1045.2 2260.5,1018.9 2259.4,992.6 2258.1,966.3 2256,940 2256,940 2253.4,966.3 2251.5,992.5 2249.8,1018.8 2248.2,1045.1 2246.7,1071.3 2245.3,1097.6 2243.9,1123.9 2242.5,1150.2 2241.2,1176.4 2239.9,1202.7 2238.7,1229 2237.4,1255.3 2236.2,1281.5 2235,1307.8Z" fill="url(#gG1)"/>
<path d="M2466.6,1304.5 2460.8,1282.7 2454.5,1261.2 2447.8,1239.9 2440.5,1218.8 2432.8,1198 2424.6,1177.3 2415.9,1157 2406.7,1136.8 2397,1117 2386.8,1097.3 2376.1,1078 2364.8,1058.9 2352.9,1040.1 2340,1022 2340,1022 2348.8,1042.4 2357.8,1062.5 2366.5,1082.7 2374.7,1102.9 2382.6,1123.3 2390,1143.7 2397,1164.2 2403.5,1184.9 2409.6,1205.7 2415.3,1226.6 2420.5,1247.6 2425.2,1268.8 2429.5,1290.1 2433.4,1311.5Z" fill="url(#gG3)"/>
<path d="M2525,1308.4 2524.6,1259.9 2524.8,1211.5 2525.4,1163.1 2526.6,1114.7 2528.3,1066.3 2530.5,1018 2533.3,969.6 2536.5,921.3 2540.2,873 2544.4,824.6 2549,776.3 2554,728 2559.2,679.6 2564,631 2564,631 2552.4,678.5 2542.5,726.2 2533.4,774.1 2525,822.1 2517.2,870.3 2510.1,918.5 2503.7,966.8 2497.8,1015.2 2492.5,1063.8 2487.8,1112.4 2483.8,1161.1 2480.3,1209.8 2477.3,1258.7 2475,1307.6Z" fill="url(#gG1)"/>
<path d="M2515,1307.4 2512,1264.6 2507.7,1222.1 2502.3,1180 2495.7,1138.2 2487.9,1096.8 2478.9,1055.7 2468.7,1014.9 2457.3,974.6 2444.7,934.6 2430.8,894.9 2415.8,855.7 2399.4,816.9 2381.7,778.6 2362,741 2362,741 2375.9,781 2389.5,820.7 2402.1,860.5 2413.7,900.4 2424.3,940.5 2433.7,980.7 2442,1021.1 2449.2,1061.6 2455.3,1102.3 2460.3,1143.2 2464.2,1184.3 2466.9,1225.5 2468.5,1267 2469,1308.6Z" fill="url(#gG1)"/>
<path d="M2543,1308.2 2542.6,1270.6 2542.9,1233.1 2544.1,1195.8 2546.1,1158.5 2549,1121.3 2552.6,1084.1 2557.1,1047.1 2562.3,1010.1 2568.3,973.2 2575.2,936.4 2582.8,899.6 2591.1,862.8 2600,826 2609,789 2609,789 2594.5,824.3 2581.7,860.1 2570,896.2 2559.2,932.5 2549.4,969.1 2540.5,1005.9 2532.4,1043 2525.3,1080.2 2519,1117.6 2513.7,1155.3 2509.2,1193.1 2505.6,1231.2 2502.9,1269.4 2501,1307.8Z" fill="url(#gG1)"/>
<path d="M2561.9,1309.9 2563.8,1282.6 2566.5,1255.4 2569.8,1228.4 2573.9,1201.5 2578.7,1174.8 2584.2,1148.3 2590.5,1121.9 2597.5,1095.6 2605.1,1069.5 2613.5,1043.5 2622.6,1017.6 2632.3,991.8 2642.7,966 2653,940 2653,940 2637.7,963.6 2623.9,987.9 2611,1012.6 2599,1037.7 2587.8,1063.2 2577.4,1088.9 2567.7,1115 2558.9,1141.4 2550.8,1168.1 2543.5,1195.1 2537,1222.4 2531.2,1250 2526.3,1277.9 2522.1,1306.1Z" fill="url(#gG1)"/>
<path d="M2488.9,1305.6 2483.9,1277.3 2478.4,1249.1 2472.1,1221.2 2465.3,1193.5 2457.8,1166.1 2449.7,1138.9 2440.9,1111.9 2431.5,1085.2 2421.4,1058.8 2410.7,1032.6 2399.3,1006.6 2387.2,981 2374.3,955.7 2360,931 2360,931 2369.5,957.8 2379,984.4 2388.2,1011 2396.8,1037.7 2404.8,1064.4 2412.3,1091.3 2419.2,1118.3 2425.6,1145.3 2431.3,1172.5 2436.5,1199.8 2441,1227.3 2445,1254.9 2448.4,1282.5 2451.1,1310.4Z" fill="url(#gG1)"/>
<path d="M2213,1306.8 2209.4,1278.2 2204.7,1250.1 2198.8,1222.6 2191.7,1195.6 2183.5,1169.1 2174,1143.2 2163.4,1117.9 2151.7,1093.2 2138.8,1069 2124.7,1045.5 2109.4,1022.5 2093,1000.2 2075.3,978.6 2056,958 2056,958 2071.4,981.5 2086.1,1004.9 2099.8,1028.5 2112.4,1052.4 2123.9,1076.5 2134.3,1101 2143.6,1125.8 2151.7,1151 2158.7,1176.4 2164.6,1202.3 2169.3,1228.5 2173,1255 2175.6,1281.9 2177,1309.2Z" fill="url(#gG2)"/>
<path d="M2292.5,1303.7 2284.6,1279.2 2275.3,1256.1 2264.6,1234.6 2252.5,1214.6 2239,1196.1 2224.2,1179.2 2208,1164 2190.6,1150.4 2172,1138.5 2152.1,1128.1 2131.1,1119.5 2108.9,1112.4 2085.6,1107.1 2061,1104 2061,1104 2084.3,1111.9 2106.2,1120.3 2126.6,1129.9 2145.5,1140.5 2162.8,1152.4 2178.8,1165.4 2193.3,1179.5 2206.4,1194.8 2218.1,1211.3 2228.5,1229 2237.7,1247.9 2245.5,1268 2252.1,1289.5 2257.5,1312.3Z" fill="url(#gG2)"/>
<path d="M2226.7,1305.1 2223,1292.4 2218.6,1280.3 2213.4,1268.8 2207.5,1258 2200.9,1247.9 2193.6,1238.5 2185.7,1229.9 2177.1,1222 2167.9,1214.8 2158.1,1208.4 2147.8,1202.7 2136.8,1197.8 2125.3,1193.8 2113,1191 2113,1191 2123.6,1197.6 2133.5,1204 2142.7,1210.7 2151.2,1217.8 2158.9,1225.3 2165.8,1233.2 2172.1,1241.4 2177.6,1250 2182.5,1259.1 2186.7,1268.5 2190.3,1278.4 2193.2,1288.7 2195.5,1299.5 2197.3,1310.9Z" fill="url(#gG2)"/>
<path d="M2333.9,1306.5 2331,1290.1 2327.2,1274.3 2322.5,1259.1 2316.9,1244.5 2310.4,1230.6 2303,1217.2 2294.8,1204.6 2285.7,1192.6 2275.8,1181.3 2265.2,1170.7 2253.7,1160.8 2241.4,1151.6 2228.2,1143.2 2214,1136 2214,1136 2225.6,1146.8 2236.6,1157.3 2246.7,1168.1 2256,1179.2 2264.4,1190.6 2271.9,1202.4 2278.5,1214.4 2284.3,1226.9 2289.3,1239.7 2293.4,1252.8 2296.8,1266.4 2299.3,1280.3 2301.1,1294.7 2302.1,1309.5Z" fill="url(#gG2)"/>
<path d="M2307,1307.5 2306,1284.2 2306.6,1261.7 2308.5,1239.8 2311.9,1218.7 2316.8,1198.3 2323.1,1178.4 2331,1159.2 2340.3,1140.6 2351.2,1122.5 2363.7,1105 2377.7,1088.1 2393.3,1071.7 2410.5,1055.9 2429,1040 2429,1040 2407.7,1052.1 2388.2,1065.8 2370.2,1080.5 2353.6,1096.3 2338.6,1113.2 2325,1131 2313,1149.9 2302.5,1169.7 2293.6,1190.6 2286.3,1212.4 2280.5,1235.1 2276.4,1258.7 2273.9,1283.2 2273,1308.5Z" fill="url(#gG2)"/>
<path d="M2600.9,1306 2596.3,1281.5 2590.2,1258.2 2582.6,1236 2573.6,1215 2563,1195.3 2551.1,1176.8 2537.7,1159.6 2522.9,1143.8 2506.7,1129.2 2489.2,1116 2470.4,1104.1 2450.3,1093.5 2428.9,1084.3 2406,1077 2406,1077 2426.9,1088.5 2446.5,1100.4 2464.5,1113 2481.1,1126.4 2496.1,1140.8 2509.6,1155.9 2521.6,1172 2532.3,1188.9 2541.5,1206.7 2549.3,1225.4 2555.8,1245.1 2560.9,1265.7 2564.7,1287.3 2567.1,1310Z" fill="url(#gG2)"/>
<path d="M2534.8,1310.6 2536.5,1298.5 2538.8,1286.9 2541.8,1275.9 2545.5,1265.3 2549.9,1255.2 2555,1245.5 2560.8,1236.2 2567.3,1227.4 2574.6,1218.9 2582.7,1210.9 2591.6,1203.3 2601.3,1196 2611.8,1189.1 2623,1182 2623,1182 2610.1,1185.3 2598,1189.9 2586.5,1195.3 2575.6,1201.6 2565.4,1208.6 2555.8,1216.4 2547,1224.9 2538.8,1234.3 2531.3,1244.3 2524.5,1255.2 2518.5,1266.7 2513.3,1278.9 2508.9,1291.8 2505.2,1305.4Z" fill="url(#gG2)"/>
<path d="M2424,1308.5 2424.2,1291.2 2425.5,1274.6 2427.8,1258.5 2431.1,1243 2435.5,1228 2440.9,1213.5 2447.5,1199.5 2455.1,1186 2463.9,1173 2473.9,1160.4 2485,1148.3 2497.2,1136.7 2510.6,1125.4 2525,1114 2525,1114 2508.2,1121.7 2492.7,1130.7 2478.3,1140.7 2464.9,1151.7 2452.6,1163.5 2441.4,1176.2 2431.2,1189.7 2422.1,1204.1 2414.2,1219.4 2407.4,1235.4 2401.8,1252.3 2397.3,1270 2394.1,1288.4 2392,1307.5Z" fill="url(#gG2)"/>
<path d="M2559.8,1305.5 2555.4,1287.5 2550.1,1270.2 2543.9,1253.6 2536.7,1237.8 2528.5,1222.7 2519.5,1208.3 2509.5,1194.8 2498.6,1182 2486.9,1170 2474.3,1158.9 2460.8,1148.5 2446.5,1139 2431.3,1130.3 2415,1123 2415,1123 2429.1,1133.8 2442.4,1144.6 2454.8,1155.8 2466.2,1167.4 2476.7,1179.5 2486.3,1192 2494.9,1205 2502.6,1218.5 2509.4,1232.5 2515.3,1247.1 2520.3,1262.1 2524.5,1277.7 2527.8,1293.8 2530.2,1310.5Z" fill="url(#gG2)"/>
<path d="M2381,1307.2 2379.3,1293.1 2377.3,1279.1 2375,1265.2 2372.6,1251.4 2369.8,1237.7 2366.8,1224 2363.6,1210.4 2360.1,1196.9 2356.3,1183.4 2352.2,1170.1 2347.8,1156.8 2343.1,1143.7 2338,1130.7 2332,1118 2332,1118 2333.7,1131.9 2335.9,1145.6 2338,1159.2 2340,1172.9 2341.8,1186.5 2343.4,1200.1 2344.8,1213.6 2346.1,1227.2 2347.1,1240.8 2347.9,1254.4 2348.5,1268 2348.9,1281.6 2349.1,1295.2 2349,1308.8Z" fill="url(#gG2)"/>
<path d="M2445.5,1311.8 2447.3,1302.4 2449.1,1293.1 2451,1283.7 2452.8,1274.4 2454.5,1265 2456.3,1255.6 2458,1246.3 2459.7,1236.9 2461.4,1227.5 2463,1218.1 2464.5,1208.6 2466,1199.2 2467.3,1189.7 2468,1180 2468,1180 2463.6,1188.6 2459.7,1197.4 2456,1206.2 2452.4,1215.1 2448.9,1224 2445.4,1232.8 2442,1241.7 2438.6,1250.7 2435.2,1259.6 2431.8,1268.5 2428.5,1277.4 2425.1,1286.3 2421.8,1295.3 2418.5,1304.2Z" fill="url(#gG2)"/>
<g clip-path="url(#clipPh)">
<ellipse cx="2272.9" cy="490.7" rx="221" ry="209" fill="url(#gPh)"/>
<g filter="url(#blur4)">
<rect x="2040" y="455" width="260" height="50" fill="#4C6E26" opacity="0.8"/>
<rect x="2040" y="515" width="460" height="70" fill="#4E7226" opacity="0.6"/>
<rect x="2280" y="590" width="220" height="60" fill="#52762A" opacity="0.5"/>
<rect x="2040" y="640" width="460" height="70" fill="#48661F" opacity="0.6"/>
<ellipse cx="2250" cy="340" rx="210" ry="80" fill="#3C3C14" opacity="0.75"/>
<ellipse cx="2327.8" cy="586.7" rx="4.2" ry="4.9" fill="#5A7A30" opacity="0.6"/>
<ellipse cx="2465.6" cy="549.6" rx="4.9" ry="4.9" fill="#6A6A40" opacity="0.6"/>
<ellipse cx="2166" cy="507.5" rx="6" ry="5.9" fill="#5A7A30" opacity="0.6"/>
<ellipse cx="2235.5" cy="362.8" rx="5.3" ry="6.2" fill="#303A12" opacity="0.6"/>
<ellipse cx="2119.7" cy="537" rx="5.1" ry="6.9" fill="#6A6A40" opacity="0.6"/>
<ellipse cx="2131.6" cy="415.5" rx="8.3" ry="5.7" fill="#6A6A40" opacity="0.6"/>
<ellipse cx="2357" cy="676.6" rx="6.4" ry="4.4" fill="#303A12" opacity="0.6"/>
<ellipse cx="2131.4" cy="348.3" rx="6.7" ry="6.3" fill="#2A2810" opacity="0.6"/>
<ellipse cx="2312" cy="528.4" rx="4.5" ry="4.4" fill="#8A8660" opacity="0.6"/>
<ellipse cx="2191.6" cy="568.6" rx="7.8" ry="5.8" fill="#6A6A40" opacity="0.6"/>
<ellipse cx="2398.7" cy="436.5" rx="10.7" ry="4.8" fill="#5A7A30" opacity="0.6"/>
<ellipse cx="2364.3" cy="539.5" rx="5" ry="4" fill="#6A6A40" opacity="0.6"/>
<ellipse cx="2412.4" cy="474.9" rx="6.8" ry="5.1" fill="#5A7A30" opacity="0.6"/>
<ellipse cx="2393.5" cy="333.2" rx="10.9" ry="3.1" fill="#8A8660" opacity="0.6"/>
<ellipse cx="2206.5" cy="534.3" rx="6.7" ry="6.7" fill="#6A6A40" opacity="0.6"/>
<ellipse cx="2294.4" cy="415" rx="6.4" ry="6.2" fill="#8A8660" opacity="0.6"/>
<ellipse cx="2329.5" cy="578.5" rx="12" ry="3.6" fill="#8A8660" opacity="0.6"/>
<ellipse cx="2289.4" cy="452.4" rx="9.9" ry="4.4" fill="#6A6A40" opacity="0.6"/>
<ellipse cx="2167.6" cy="550.4" rx="4.4" ry="6.7" fill="#6A6A40" opacity="0.6"/>
<ellipse cx="2074.1" cy="487.4" rx="5" ry="5.9" fill="#6A6A40" opacity="0.6"/>
<ellipse cx="2468.4" cy="542.2" rx="4.9" ry="4.7" fill="#303A12" opacity="0.6"/>
<ellipse cx="2124.2" cy="627.9" rx="5.1" ry="6.7" fill="#8A8660" opacity="0.6"/>
<ellipse cx="2326.8" cy="357.7" rx="7.6" ry="5" fill="#5A7A30" opacity="0.6"/>
<ellipse cx="2373.7" cy="481.6" rx="7.8" ry="6.6" fill="#8A8660" opacity="0.6"/>
<ellipse cx="2108.4" cy="618.8" rx="11.7" ry="5.5" fill="#5A7A30" opacity="0.6"/>
<ellipse cx="2274.7" cy="425.4" rx="7.9" ry="5.1" fill="#2A2810" opacity="0.6"/>
<ellipse cx="2295.7" cy="491.1" rx="10.3" ry="6.1" fill="#2A2810" opacity="0.6"/>
<ellipse cx="2358.7" cy="555.6" rx="6.9" ry="5.8" fill="#8A8660" opacity="0.6"/>
<ellipse cx="2180.8" cy="484.3" rx="11.7" ry="4.4" fill="#8A8660" opacity="0.6"/>
<ellipse cx="2136.8" cy="630.7" rx="8.4" ry="4" fill="#303A12" opacity="0.6"/>
<ellipse cx="2348.8" cy="475.2" rx="9.2" ry="6.2" fill="#5A7A30" opacity="0.6"/>
<ellipse cx="2209.6" cy="547.6" rx="6.8" ry="6.4" fill="#303A12" opacity="0.6"/>
<ellipse cx="2434.1" cy="565.3" rx="11.7" ry="5.1" fill="#8A8660" opacity="0.6"/>
<ellipse cx="2287.6" cy="356.5" rx="11.5" ry="4.9" fill="#8A8660" opacity="0.6"/>
<ellipse cx="2357.3" cy="577.9" rx="5.4" ry="6.1" fill="#303A12" opacity="0.6"/>
<ellipse cx="2309.8" cy="556.2" rx="6.4" ry="5.2" fill="#303A12" opacity="0.6"/>
<ellipse cx="2432.9" cy="398.3" rx="5.6" ry="5.3" fill="#2A2810" opacity="0.6"/>
<ellipse cx="2328.4" cy="362.3" rx="9" ry="3.2" fill="#6A6A40" opacity="0.6"/>
<ellipse cx="2262.8" cy="380.5" rx="11.1" ry="3.4" fill="#2A2810" opacity="0.6"/>
<ellipse cx="2476.2" cy="483.1" rx="4.3" ry="4.9" fill="#5A7A30" opacity="0.6"/>
<ellipse cx="2223.5" cy="534.7" rx="5.6" ry="5.9" fill="#5A7A30" opacity="0.6"/>
<ellipse cx="2220.8" cy="430.2" rx="10.8" ry="6.5" fill="#8A8660" opacity="0.6"/>
<ellipse cx="2356.2" cy="508.9" rx="8.4" ry="4.2" fill="#2A2810" opacity="0.6"/>
<ellipse cx="2187" cy="495.1" rx="6.3" ry="4.4" fill="#5A7A30" opacity="0.6"/>
<ellipse cx="2115.5" cy="453.7" rx="9.1" ry="4.5" fill="#5A7A30" opacity="0.6"/>
<ellipse cx="2121.1" cy="528.4" rx="7.8" ry="3.8" fill="#5A7A30" opacity="0.6"/>
<ellipse cx="2413.1" cy="554.7" rx="4.9" ry="5.3" fill="#303A12" opacity="0.6"/>
<ellipse cx="2324.5" cy="346.3" rx="7" ry="4.7" fill="#5A7A30" opacity="0.6"/>
<ellipse cx="2157.3" cy="406.6" rx="7.1" ry="6.4" fill="#303A12" opacity="0.6"/>
<ellipse cx="2128.4" cy="527.6" rx="8" ry="4.7" fill="#8A8660" opacity="0.6"/>
<ellipse cx="2197.2" cy="683.7" rx="11.4" ry="3.6" fill="#303A12" opacity="0.6"/>
<ellipse cx="2070.2" cy="554" rx="6" ry="3.2" fill="#303A12" opacity="0.6"/>
<ellipse cx="2118.7" cy="447" rx="8.3" ry="4.1" fill="#303A12" opacity="0.6"/>
<ellipse cx="2165.6" cy="397.1" rx="9.8" ry="4.1" fill="#6A6A40" opacity="0.6"/>
<ellipse cx="2271.7" cy="687" rx="9.2" ry="5.4" fill="#5A7A30" opacity="0.6"/>
<ellipse cx="2379.7" cy="337.3" rx="6.4" ry="5.1" fill="#6A6A40" opacity="0.6"/>
<ellipse cx="2204.5" cy="408.7" rx="4.2" ry="4.4" fill="#5A7A30" opacity="0.6"/>
<ellipse cx="2353.2" cy="615.1" rx="4.3" ry="4" fill="#6A6A40" opacity="0.6"/>
<ellipse cx="2255.9" cy="656.6" rx="5.5" ry="4.7" fill="#5A7A30" opacity="0.6"/>
<ellipse cx="2407.2" cy="528" rx="10.9" ry="6.4" fill="#303A12" opacity="0.6"/>
<ellipse cx="2264.6" cy="562.9" rx="11.2" ry="4.9" fill="#6A6A40" opacity="0.6"/>
<ellipse cx="2386" cy="411.5" rx="9.6" ry="4.7" fill="#2A2810" opacity="0.6"/>
<ellipse cx="2183.1" cy="602.3" rx="5.1" ry="4.9" fill="#8A8660" opacity="0.6"/>
<ellipse cx="2296.1" cy="489.1" rx="8.3" ry="4.7" fill="#8A8660" opacity="0.6"/>
<ellipse cx="2292.8" cy="309.4" rx="6.1" ry="3.3" fill="#6A6A40" opacity="0.6"/>
<ellipse cx="2203.2" cy="461.7" rx="12" ry="5.8" fill="#2A2810" opacity="0.6"/>
<ellipse cx="2154.3" cy="548.3" rx="9.7" ry="3.5" fill="#2A2810" opacity="0.6"/>
<ellipse cx="2185.8" cy="657.2" rx="5.5" ry="3.7" fill="#6A6A40" opacity="0.6"/>
<ellipse cx="2151.6" cy="512.2" rx="10" ry="4.1" fill="#303A12" opacity="0.6"/>
<ellipse cx="2305.6" cy="337.3" rx="11" ry="3.5" fill="#303A12" opacity="0.6"/>
<ellipse cx="2245.6" cy="415.8" rx="7.9" ry="4.4" fill="#5A7A30" opacity="0.6"/>
<ellipse cx="2342.1" cy="655.9" rx="9.6" ry="3.6" fill="#6A6A40" opacity="0.6"/>
<ellipse cx="2331.5" cy="492.3" rx="8.4" ry="3.9" fill="#5A7A30" opacity="0.6"/>
<ellipse cx="2087.2" cy="384.3" rx="8.1" ry="3.5" fill="#8A8660" opacity="0.6"/>
<ellipse cx="2160.8" cy="438.5" rx="5.4" ry="5.9" fill="#303A12" opacity="0.6"/>
<ellipse cx="2341.7" cy="324.1" rx="4.7" ry="3.5" fill="#2A2810" opacity="0.6"/>
<ellipse cx="2315.4" cy="385.4" rx="7.8" ry="4.3" fill="#303A12" opacity="0.6"/>
<ellipse cx="2371.8" cy="311.5" rx="11.6" ry="4.7" fill="#6A6A40" opacity="0.6"/>
<ellipse cx="2401.6" cy="589.8" rx="11.8" ry="5.7" fill="#2A2810" opacity="0.6"/>
<ellipse cx="2412.9" cy="345.9" rx="7" ry="6.3" fill="#5A7A30" opacity="0.6"/>
<ellipse cx="2184.6" cy="662.2" rx="10.4" ry="4.5" fill="#8A8660" opacity="0.6"/>
<ellipse cx="2370.8" cy="433.3" rx="10.4" ry="4.7" fill="#8A8660" opacity="0.6"/>
<ellipse cx="2426.2" cy="497" rx="11.9" ry="3.9" fill="#5A7A30" opacity="0.6"/>
<ellipse cx="2144.1" cy="486" rx="9.3" ry="4.4" fill="#303A12" opacity="0.6"/>
<ellipse cx="2243.6" cy="410.2" rx="11.4" ry="4.3" fill="#5A7A30" opacity="0.6"/>
<ellipse cx="2258.6" cy="366.6" rx="4.6" ry="6.5" fill="#6A6A40" opacity="0.6"/>
<ellipse cx="2433.6" cy="477.9" rx="6" ry="4.1" fill="#5A7A30" opacity="0.6"/>
<ellipse cx="2129.5" cy="404.8" rx="4.3" ry="6.6" fill="#6A6A40" opacity="0.6"/>
<ellipse cx="2208" cy="590.8" rx="11.5" ry="5.8" fill="#8A8660" opacity="0.6"/>
<ellipse cx="2349.7" cy="478.7" rx="4.9" ry="5.7" fill="#6A6A40" opacity="0.6"/>
<ellipse cx="2185.2" cy="559.8" rx="4.3" ry="5.9" fill="#6A6A40" opacity="0.6"/>
<ellipse cx="2307.1" cy="552.6" rx="7.2" ry="6.9" fill="#5A7A30" opacity="0.6"/>
<ellipse cx="2216.6" cy="414.7" rx="6.9" ry="3.3" fill="#303A12" opacity="0.6"/>
<ellipse cx="2487.3" cy="477.2" rx="5.4" ry="3.8" fill="#6A6A40" opacity="0.6"/>
<ellipse cx="2078.9" cy="533.5" rx="4.1" ry="3.2" fill="#8A8660" opacity="0.6"/>
<ellipse cx="2395.1" cy="454.1" rx="4.3" ry="6.3" fill="#2A2810" opacity="0.6"/>
<ellipse cx="2420" cy="516.1" rx="9.7" ry="3.9" fill="#2A2810" opacity="0.6"/>
<ellipse cx="2405.4" cy="326.8" rx="4.4" ry="4" fill="#303A12" opacity="0.6"/>
<ellipse cx="2081.7" cy="448.9" rx="4.4" ry="6.3" fill="#2A2810" opacity="0.6"/>
<ellipse cx="2251.7" cy="546.2" rx="11.6" ry="3.8" fill="#2A2810" opacity="0.6"/>
<ellipse cx="2359.2" cy="546.2" rx="8.3" ry="3.3" fill="#6A6A40" opacity="0.6"/>
<ellipse cx="2195" cy="333.2" rx="11.9" ry="3.6" fill="#5A7A30" opacity="0.6"/>
<ellipse cx="2092.4" cy="582.1" rx="4.1" ry="5.2" fill="#5A7A30" opacity="0.6"/>
<ellipse cx="2269.2" cy="518.6" rx="8.2" ry="3.5" fill="#303A12" opacity="0.6"/>
<ellipse cx="2316" cy="328" rx="42" ry="20" fill="none" stroke="#1E160A" stroke-width="12"/>
<ellipse cx="2316" cy="328" rx="30" ry="10" fill="#8A8468"/>
<ellipse cx="2205" cy="612" rx="58" ry="38" fill="none" stroke="#1A1208" stroke-width="14"/>
<ellipse cx="2205" cy="620" rx="44" ry="26" fill="#8E8870"/>
<ellipse cx="2180" cy="625" rx="10" ry="14" fill="#2A2010"/>
<ellipse cx="2228" cy="618" rx="10" ry="9" fill="#B4AE98"/>
<ellipse cx="2388" cy="518" rx="22" ry="20" fill="#15110A"/>
<ellipse cx="2170" cy="372" rx="18" ry="16" fill="#221E0E"/>
<ellipse cx="2085" cy="420" rx="16" ry="24" fill="#2B2A12"/>
<ellipse cx="2250" cy="415" rx="30" ry="18" fill="#2E2A14"/>
<ellipse cx="2330" cy="540" rx="40" ry="22" fill="#3A3018"/>
<ellipse cx="2280" cy="585" rx="14" ry="20" fill="#2A2210"/>
<ellipse cx="2085" cy="575" rx="14" ry="12" fill="#201C0C"/>
<path d="M2265,390 L2440,385 L2455,440 L2420,470 L2300,465 L2260,430 Z" fill="#857C58"/>
<ellipse cx="2375" cy="432" rx="42" ry="22" fill="#A79C74"/>
<ellipse cx="2240" cy="360" rx="24" ry="14" fill="#8E876A"/>
<ellipse cx="2128" cy="418" rx="30" ry="18" fill="#6E6A48"/>
<ellipse cx="2318" cy="522" rx="22" ry="14" fill="#7A7458"/>
<ellipse cx="2418" cy="595" rx="13" ry="9" fill="#C8C8B4"/>
<ellipse cx="2360" cy="500" rx="30" ry="14" fill="#5E5838"/>
<rect x="2348.7" y="432.8" width="7.6" height="3.4" fill="#3A3418" opacity="0.8"/>
<rect x="2299.2" y="429" width="6.1" height="4.4" fill="#2E2812" opacity="0.8"/>
<rect x="2347.6" y="399.3" width="5.7" height="4.7" fill="#2E2812" opacity="0.8"/>
<rect x="2375.2" y="419.7" width="5.3" height="4.2" fill="#3A3418" opacity="0.8"/>
<rect x="2380.3" y="454.5" width="3.3" height="2.1" fill="#3A3418" opacity="0.8"/>
<rect x="2375.9" y="450.2" width="4.6" height="3.8" fill="#3A3418" opacity="0.8"/>
<rect x="2361" y="439.2" width="5.5" height="4" fill="#D6CCA6" opacity="0.8"/>
<rect x="2386.1" y="420.5" width="5.8" height="4.8" fill="#2E2812" opacity="0.8"/>
<rect x="2395.9" y="413.2" width="4.1" height="2.9" fill="#2E2812" opacity="0.8"/>
<rect x="2369.2" y="396.6" width="3.5" height="2.9" fill="#2E2812" opacity="0.8"/>
<rect x="2442.2" y="455.8" width="3" height="2.6" fill="#2E2812" opacity="0.8"/>
<rect x="2351.9" y="466.4" width="5" height="2.2" fill="#3A3418" opacity="0.8"/>
<rect x="2409" y="409.6" width="3.4" height="3" fill="#D6CCA6" opacity="0.8"/>
<rect x="2405.2" y="397.4" width="4.2" height="2.3" fill="#2E2812" opacity="0.8"/>
<rect x="2351" y="426.9" width="6.4" height="2.6" fill="#3A3418" opacity="0.8"/>
<rect x="2447.3" y="449.6" width="5.1" height="3.2" fill="#D6CCA6" opacity="0.8"/>
<rect x="2342.8" y="405" width="4.3" height="4.9" fill="#C8BE98" opacity="0.8"/>
<rect x="2449.6" y="389.6" width="3.9" height="5" fill="#2E2812" opacity="0.8"/>
<rect x="2272.8" y="399.7" width="5.2" height="2" fill="#C8BE98" opacity="0.8"/>
<rect x="2418.6" y="418.9" width="3.4" height="2.6" fill="#3A3418" opacity="0.8"/>
<rect x="2267.9" y="417.5" width="6.1" height="2.4" fill="#D6CCA6" opacity="0.8"/>
<rect x="2419" y="398.9" width="4.9" height="3.9" fill="#C8BE98" opacity="0.8"/>
<rect x="2433.1" y="453.4" width="4.2" height="2.6" fill="#3A3418" opacity="0.8"/>
<rect x="2392.1" y="419.1" width="5.4" height="2.2" fill="#2E2812" opacity="0.8"/>
<rect x="2284.2" y="391.1" width="7.8" height="2.7" fill="#D6CCA6" opacity="0.8"/>
<rect x="2312.5" y="453.9" width="6" height="2.9" fill="#3A3418" opacity="0.8"/>
<rect x="2436.9" y="466.2" width="3.6" height="3.4" fill="#2E2812" opacity="0.8"/>
<rect x="2316.8" y="461.4" width="4" height="2" fill="#C8BE98" opacity="0.8"/>
<rect x="2341.1" y="407.9" width="3.2" height="2.8" fill="#3A3418" opacity="0.8"/>
<rect x="2282.1" y="399.1" width="5.3" height="3" fill="#3A3418" opacity="0.8"/>
<rect x="2374.1" y="461.9" width="5.4" height="3.1" fill="#C8BE98" opacity="0.8"/>
<rect x="2443.1" y="389.7" width="6.2" height="3.4" fill="#C8BE98" opacity="0.8"/>
<rect x="2324" y="467.9" width="3.4" height="3.6" fill="#2E2812" opacity="0.8"/>
<rect x="2431.5" y="447" width="6.5" height="4.4" fill="#C8BE98" opacity="0.8"/>
<rect x="2330.1" y="442.8" width="7.5" height="4.6" fill="#D6CCA6" opacity="0.8"/>
<rect x="2439.7" y="390.4" width="5.5" height="2" fill="#D6CCA6" opacity="0.8"/>
<rect x="2335.1" y="389" width="3.4" height="2.3" fill="#2E2812" opacity="0.8"/>
<rect x="2448.8" y="458.4" width="6.6" height="3.2" fill="#D6CCA6" opacity="0.8"/>
<rect x="2346.5" y="455.1" width="3.4" height="4.3" fill="#2E2812" opacity="0.8"/>
<rect x="2322.4" y="395" width="3.1" height="4.9" fill="#2E2812" opacity="0.8"/>
<rect x="2357" y="437.2" width="7.6" height="2.8" fill="#2E2812" opacity="0.8"/>
<rect x="2333.1" y="399.5" width="6.1" height="3.6" fill="#C8BE98" opacity="0.8"/>
<rect x="2387.1" y="423.4" width="7.5" height="3" fill="#C8BE98" opacity="0.8"/>
<rect x="2301.7" y="422.5" width="7" height="4.7" fill="#3A3418" opacity="0.8"/>
<rect x="2336.1" y="434.6" width="4.6" height="2.4" fill="#D6CCA6" opacity="0.8"/>
<rect x="2329.9" y="459.7" width="3.2" height="2.2" fill="#C8BE98" opacity="0.8"/>
<rect x="2417" y="397" width="5.4" height="4.8" fill="#D6CCA6" opacity="0.8"/>
<rect x="2335.8" y="429.6" width="6.4" height="4.1" fill="#D6CCA6" opacity="0.8"/>
<rect x="2324.3" y="454.3" width="4.4" height="3.8" fill="#C8BE98" opacity="0.8"/>
<rect x="2370.6" y="412.7" width="7" height="2.1" fill="#3A3418" opacity="0.8"/>
<rect x="2340" y="403.2" width="6.8" height="2.8" fill="#3A3418" opacity="0.8"/>
<rect x="2412.4" y="466.7" width="3.6" height="2.3" fill="#C8BE98" opacity="0.8"/>
<rect x="2442.3" y="442.8" width="4" height="3.4" fill="#3A3418" opacity="0.8"/>
<rect x="2397.1" y="448.4" width="5.7" height="2.1" fill="#3A3418" opacity="0.8"/>
<rect x="2315.4" y="415.7" width="6.5" height="3.6" fill="#3A3418" opacity="0.8"/>
<rect x="2337.8" y="451.4" width="7.5" height="2.3" fill="#D6CCA6" opacity="0.8"/>
<rect x="2289" y="424.3" width="6.1" height="4.7" fill="#D6CCA6" opacity="0.8"/>
<rect x="2366.8" y="440.2" width="5.5" height="4.5" fill="#C8BE98" opacity="0.8"/>
<rect x="2350.8" y="440.1" width="4" height="4.2" fill="#2E2812" opacity="0.8"/>
<rect x="2304.5" y="460" width="7.9" height="4.9" fill="#C8BE98" opacity="0.8"/>
<ellipse cx="2150" cy="380" rx="70" ry="45" fill="#332E12" opacity="0.55"/>
<ellipse cx="2230" cy="420" rx="50" ry="25" fill="#2E2A10" opacity="0.5"/>
<ellipse cx="2420" cy="340" rx="40" ry="50" fill="#4A5A1E" opacity="0.6"/>
<ellipse cx="2180" cy="612" rx="9" ry="7" fill="#2A2010"/>
<ellipse cx="2215" cy="628" rx="9" ry="7" fill="#3A3018"/>
<ellipse cx="2235" cy="606" rx="9" ry="7" fill="#2E2410"/>
<ellipse cx="2195" cy="600" rx="9" ry="7" fill="#A8A088"/>
<ellipse cx="2222" cy="618" rx="9" ry="7" fill="#9E9880"/>
</g></g>
<ellipse cx="2272.9" cy="490.7" rx="221" ry="209" fill="none" stroke="#ffffff" stroke-width="2" opacity="0.7"/>
<line x1="2191.6" y1="1463.5" x2="2216.4" y2="1471.1" stroke="#8CC63F" stroke-width="2.5"/><circle cx="2216.4" cy="1471.1" r="3" fill="#8CC63F"/><line x1="2180.2" y1="1479.6" x2="2195.8" y2="1500.4" stroke="#8CC63F" stroke-width="2.5"/><circle cx="2195.8" cy="1500.4" r="3" fill="#8CC63F"/><line x1="2161.5" y1="1486" x2="2161.8" y2="1512" stroke="#8CC63F" stroke-width="2.5"/><circle cx="2161.8" cy="1512" r="3" fill="#8CC63F"/><line x1="2142.6" y1="1480.2" x2="2127.6" y2="1501.4" stroke="#8CC63F" stroke-width="2.5"/><circle cx="2127.6" cy="1501.4" r="3" fill="#8CC63F"/><line x1="2130.7" y1="1464.3" x2="2106.1" y2="1472.7" stroke="#8CC63F" stroke-width="2.5"/><circle cx="2106.1" cy="1472.7" r="3" fill="#8CC63F"/><line x1="2130.4" y1="1444.5" x2="2105.6" y2="1436.9" stroke="#8CC63F" stroke-width="2.5"/><circle cx="2105.6" cy="1436.9" r="3" fill="#8CC63F"/><line x1="2141.8" y1="1428.4" x2="2126.2" y2="1407.6" stroke="#8CC63F" stroke-width="2.5"/><circle cx="2126.2" cy="1407.6" r="3" fill="#8CC63F"/><line x1="2160.5" y1="1422" x2="2160.2" y2="1396" stroke="#8CC63F" stroke-width="2.5"/><circle cx="2160.2" cy="1396" r="3" fill="#8CC63F"/><line x1="2179.4" y1="1427.8" x2="2194.4" y2="1406.6" stroke="#8CC63F" stroke-width="2.5"/><circle cx="2194.4" cy="1406.6" r="3" fill="#8CC63F"/><line x1="2191.3" y1="1443.7" x2="2215.9" y2="1435.3" stroke="#8CC63F" stroke-width="2.5"/><circle cx="2215.9" cy="1435.3" r="3" fill="#8CC63F"/><circle cx="2161" cy="1454" r="32" fill="#D2F5A6"/>
<circle cx="2161" cy="1454" r="30" fill="none" stroke="#8CC63F" stroke-width="4"/>
<path d="M2268,1390 C2290,1380 2312,1392 2308,1420 C2305,1440 2290,1450 2290,1470 C2288,1490 2262,1496 2250,1482 C2236,1466 2244,1446 2254,1432 C2262,1420 2250,1398 2268,1390 Z" fill="#D9A98C" stroke="#E0484A" stroke-width="6"/>
<circle cx="2285" cy="1405" r="3" fill="#E0484A"/>
<circle cx="2275" cy="1430" r="3" fill="#E0484A"/>
<circle cx="2262" cy="1460" r="3" fill="#E0484A"/>
<circle cx="2280" cy="1470" r="3" fill="#E0484A"/>
<circle cx="2296" cy="1415" r="3" fill="#E0484A"/>
<path d="M2370,1500 C2392,1510 2460,1535 2450,1552 M2372,1505 C2390,1530 2420,1545 2440,1552" stroke="#3DB3CC" stroke-width="3" fill="none"/>
<path d="M2330,1448 C2345,1440 2360,1452 2372,1470 C2384,1488 2384,1506 2368,1508 C2352,1510 2338,1496 2328,1478 C2320,1462 2322,1452 2330,1448 Z" fill="#52BCD3"/>
<path d="M2378,1420 C2392,1410 2405,1425 2415,1445 C2400,1450 2390,1440 2382,1445 C2376,1438 2370,1430 2378,1420 Z" fill="#9B6FD0"/>
<path d="M2086,1512 C2100,1505 2108,1520 2112,1535 C2118,1550 2140,1552 2138,1565 C2134,1578 2108,1574 2094,1562 C2080,1548 2072,1520 2086,1512 Z" fill="#D982C8"/>
<ellipse cx="2315" cy="1528" rx="15" ry="16" fill="#E06A9A"/>
<path d="M2291,1590 q-1.7,-2.6 18.6,-3.1 M2290.7,1595.2 q0.6,1.1 9.9,2.2 M2290,1600.4 q3.5,-4.7 16.5,-0.3 M2288.7,1605.4 q0.1,3.4 13,2.9 M2287,1610.4 q2.8,0.3 5.9,0.7 M2284.8,1615.2 q-3,0.6 7.4,5.5 M2282.1,1619.7 q3.4,4.8 9.4,6.4 M2279,1624.1 q-4.1,-0.4 10,11.9 M2275.4,1628.2 q-3.9,-0.6 12.3,9.2 M2271.5,1631.9 q4.4,-4.4 9.1,10.5 M2267.3,1635.3 q4.5,0.3 7.4,11.9 M2262.7,1638.4 q2.7,-1.2 12.1,9.1 M2257.9,1641.1 q-4.6,-1.4 10.1,8.4 M2252.8,1643.3 q4.1,1.9 3.5,16.2 M2247.5,1645.2 q-4,-2 1.3,16.9 M2242,1646.5 q4.2,2.5 4.4,13.2 M2236.5,1647.5 q2.6,2.6 -2.1,8.8 M2230.8,1647.9 q4.2,-3.9 -0.5,8.7 M2225.2,1647.9 q-3.6,-2.4 1.4,13.5 M2219.5,1647.5 q-4.7,4.6 -3.4,9.6 M2214,1646.5 q4.8,2.1 -1.8,11.4 M2208.5,1645.2 q3.4,-4 -2.3,8.5 M2203.2,1643.3 q-0.5,-3.1 -3.5,6.5 M2198.1,1641.1 q-3.6,-4.1 -0.9,7.3 M2193.3,1638.4 q2.8,-3.3 -4.5,11.4 M2188.7,1635.3 q-0.1,2 -5.7,7.4 M2184.5,1631.9 q-0.7,-2.5 -8.3,14.7 M2180.6,1628.2 q-1.8,4.1 -10.3,14.7 M2177,1624.1 q5,-0.2 -10.6,11.4 M2173.9,1619.7 q0,-1 -8.4,5.8 M2171.2,1615.2 q0.6,2.1 -15.5,3.3 M2169,1610.4 q-3.5,-1.4 -11.6,1.6 M2167.3,1605.4 q0.9,0.6 -15.1,1 M2166,1600.4 q2.2,0.9 -7,4.1 M2165.3,1595.2 q-3.4,4.7 -14.2,1.1 M2165,1590 q4.6,-4.1 -12.6,-3.4 M2165.3,1584.8 q1.2,3.5 -16.1,0.9 M2166,1579.6 q-1,4.8 -6.5,-5.1 M2167.3,1574.6 q-4.7,2.8 -11.4,0.1 M2169,1569.6 q3.2,4.4 -14,-3 M2171.2,1564.8 q1.7,-4.3 -11.7,-1.9 M2173.9,1560.3 q2.1,-3.2 -10.3,-5.8 M2177,1555.9 q-1.8,-0.3 -15.2,-8.6 M2180.6,1551.8 q-1.1,1.6 -12.6,-13.9 M2184.5,1548.1 q-2.9,1.1 -6.4,-12.4 M2188.7,1544.7 q-1.6,1.4 -11.6,-11.5 M2193.3,1541.6 q-2.9,-1.5 -10.9,-16 M2198.1,1538.9 q3.3,0.3 -7.4,-14.5 M2203.2,1536.7 q4.4,-0.2 -2.6,-11.3 M2208.5,1534.8 q-4.9,-2 -3.7,-9.1 M2214,1533.5 q1.9,3.8 -0.7,-12.3 M2219.5,1532.5 q0.4,-0.3 1.2,-12.8 M2225.2,1532.1 q3.7,-0.7 1.5,-15.7 M2230.8,1532.1 q4.5,-0.6 3.6,-12.5 M2236.5,1532.5 q-4.2,-1.7 4.9,-6.9 M2242,1533.5 q3.6,-1.5 0.3,-14.1 M2247.5,1534.8 q-3.3,-0.1 3.6,-17.4 M2252.8,1536.7 q4.1,-2.4 5.8,-10.8 M2257.9,1538.9 q-4.8,0.9 5.9,-11.3 M2262.7,1541.6 q1.4,-4.6 9,-8.5 M2267.3,1544.7 q-0.8,-4.8 5,-9.2 M2271.5,1548.1 q-2.2,0.4 11.9,-9.2 M2275.4,1551.8 q0.8,3.7 6.2,-7.4 M2279,1555.9 q2.2,-3.4 13.8,-5.7 M2282.1,1560.3 q4.5,-4.5 9.6,-8.8 M2284.8,1564.8 q1.4,2.1 8.7,-6.3 M2287,1569.6 q-0.5,-1.2 11.9,-5 M2288.7,1574.6 q-3.8,-0 9.5,-0.8 M2290,1579.6 q2.5,-1.7 17.1,-1.2 M2290.7,1584.8 q3,-4.6 14,-0.5" stroke="#7CC3EA" stroke-width="1.6" fill="none"/>
<path d="M2175,1545 C2190,1525 2225,1535 2245,1550 C2265,1540 2290,1555 2285,1580 C2282,1600 2270,1620 2255,1640 C2240,1660 2220,1650 2210,1630 C2200,1610 2172,1600 2170,1580 C2168,1565 2168,1555 2175,1545 Z" transform="translate(2228,1590) scale(1.12) translate(-2228,-1590)" fill="#CFE6F8" stroke="#7CC3EA" stroke-width="3"/>
<circle cx="2200" cy="1570" r="8" fill="none" stroke="#D8A070" stroke-width="2"/>
<circle cx="2235" cy="1575" r="8" fill="none" stroke="#D06090" stroke-width="2"/>
<circle cx="2260" cy="1590" r="8" fill="none" stroke="#A0A0A0" stroke-width="2"/>
<circle cx="2215" cy="1595" r="8" fill="none" stroke="#90C090" stroke-width="2"/>
<circle cx="2245" cy="1620" r="8" fill="none" stroke="#909090" stroke-width="2"/>
<g stroke="#F0A050" stroke-width="2">
<line x1="2390.5" y1="1628.6" x2="2432.5" y2="1628.6"/>
<line x1="2390.2" y1="1632.1" x2="2431.6" y2="1639.4"/>
<line x1="2389.3" y1="1635.4" x2="2428.8" y2="1649.8"/>
<line x1="2387.8" y1="1638.6" x2="2424.2" y2="1659.6"/>
<line x1="2385.8" y1="1641.5" x2="2418" y2="1668.5"/>
<line x1="2383.4" y1="1643.9" x2="2410.4" y2="1676.1"/>
<line x1="2380.5" y1="1645.9" x2="2401.5" y2="1682.3"/>
<line x1="2377.3" y1="1647.4" x2="2391.7" y2="1686.9"/>
<line x1="2374" y1="1648.3" x2="2381.3" y2="1689.7"/>
<line x1="2370.5" y1="1648.6" x2="2370.5" y2="1690.6"/>
<line x1="2367" y1="1648.3" x2="2359.7" y2="1689.7"/>
<line x1="2363.7" y1="1647.4" x2="2349.3" y2="1686.9"/>
<line x1="2360.5" y1="1645.9" x2="2339.5" y2="1682.3"/>
<line x1="2357.6" y1="1643.9" x2="2330.6" y2="1676.1"/>
<line x1="2355.2" y1="1641.5" x2="2323" y2="1668.5"/>
<line x1="2353.2" y1="1638.6" x2="2316.8" y2="1659.6"/>
<line x1="2351.7" y1="1635.4" x2="2312.2" y2="1649.8"/>
<line x1="2350.8" y1="1632.1" x2="2309.4" y2="1639.4"/>
<line x1="2350.5" y1="1628.6" x2="2308.5" y2="1628.6"/>
<line x1="2350.8" y1="1625.1" x2="2309.4" y2="1617.8"/>
<line x1="2351.7" y1="1621.8" x2="2312.2" y2="1607.4"/>
<line x1="2353.2" y1="1618.6" x2="2316.8" y2="1597.6"/>
<line x1="2355.2" y1="1615.7" x2="2323" y2="1588.7"/>
<line x1="2357.6" y1="1613.3" x2="2330.6" y2="1581.1"/>
<line x1="2360.5" y1="1611.3" x2="2339.5" y2="1574.9"/>
<line x1="2363.7" y1="1609.8" x2="2349.3" y2="1570.3"/>
<line x1="2367" y1="1608.9" x2="2359.7" y2="1567.5"/>
<line x1="2370.5" y1="1608.6" x2="2370.5" y2="1566.6"/>
<line x1="2374" y1="1608.9" x2="2381.3" y2="1567.5"/>
<line x1="2377.3" y1="1609.8" x2="2391.7" y2="1570.3"/>
<line x1="2380.5" y1="1611.3" x2="2401.5" y2="1574.9"/>
<line x1="2383.4" y1="1613.3" x2="2410.4" y2="1581.1"/>
<line x1="2385.8" y1="1615.7" x2="2418" y2="1588.7"/>
<line x1="2387.8" y1="1618.6" x2="2424.2" y2="1597.6"/>
<line x1="2389.3" y1="1621.8" x2="2428.8" y2="1607.4"/>
<line x1="2390.2" y1="1625.1" x2="2431.6" y2="1617.8"/>
</g>
<circle cx="2370.5" cy="1628.6" r="27" fill="#EE9B3C"/>
<line x1="2113" y1="1634.5" x2="2118.7" y2="1636.3" stroke="#5CC8B8" stroke-width="2.5"/><circle cx="2118.7" cy="1636.3" r="4" fill="#5CC8B8"/><line x1="2105.2" y1="1645.6" x2="2108.8" y2="1650.4" stroke="#5CC8B8" stroke-width="2.5"/><circle cx="2108.8" cy="1650.4" r="4" fill="#5CC8B8"/><line x1="2092.3" y1="1650" x2="2092.4" y2="1656" stroke="#5CC8B8" stroke-width="2.5"/><circle cx="2092.4" cy="1656" r="4" fill="#5CC8B8"/><line x1="2079.3" y1="1646" x2="2075.9" y2="1650.9" stroke="#5CC8B8" stroke-width="2.5"/><circle cx="2075.9" cy="1650.9" r="4" fill="#5CC8B8"/><line x1="2071.2" y1="1635.1" x2="2065.5" y2="1637" stroke="#5CC8B8" stroke-width="2.5"/><circle cx="2065.5" cy="1637" r="4" fill="#5CC8B8"/><line x1="2071" y1="1621.5" x2="2065.3" y2="1619.7" stroke="#5CC8B8" stroke-width="2.5"/><circle cx="2065.3" cy="1619.7" r="4" fill="#5CC8B8"/><line x1="2078.8" y1="1610.4" x2="2075.2" y2="1605.6" stroke="#5CC8B8" stroke-width="2.5"/><circle cx="2075.2" cy="1605.6" r="4" fill="#5CC8B8"/><line x1="2091.7" y1="1606" x2="2091.6" y2="1600" stroke="#5CC8B8" stroke-width="2.5"/><circle cx="2091.6" cy="1600" r="4" fill="#5CC8B8"/><line x1="2104.7" y1="1610" x2="2108.1" y2="1605.1" stroke="#5CC8B8" stroke-width="2.5"/><circle cx="2108.1" cy="1605.1" r="4" fill="#5CC8B8"/><line x1="2112.8" y1="1620.9" x2="2118.5" y2="1619" stroke="#5CC8B8" stroke-width="2.5"/><circle cx="2118.5" cy="1619" r="4" fill="#5CC8B8"/><circle cx="2092" cy="1628" r="22" fill="#5CC8B8"/>
<circle cx="2088" cy="1620" r="8" fill="#CDE5B0"/><circle cx="2098" cy="1638" r="8" fill="#CDE5B0"/>
<line x1="2188.2" y1="1682.3" x2="2193.9" y2="1684" stroke="#F7CF4A" stroke-width="2.5"/><circle cx="2193.9" cy="1684" r="4" fill="#F7CF4A"/><line x1="2182.6" y1="1692.6" x2="2187.2" y2="1696.4" stroke="#F7CF4A" stroke-width="2.5"/><circle cx="2187.2" cy="1696.4" r="4" fill="#F7CF4A"/><line x1="2173.5" y1="1699.9" x2="2176.3" y2="1705.2" stroke="#F7CF4A" stroke-width="2.5"/><circle cx="2176.3" cy="1705.2" r="4" fill="#F7CF4A"/><line x1="2162.3" y1="1703.3" x2="2162.8" y2="1709.2" stroke="#F7CF4A" stroke-width="2.5"/><circle cx="2162.8" cy="1709.2" r="4" fill="#F7CF4A"/><line x1="2150.6" y1="1702.1" x2="2148.9" y2="1707.8" stroke="#F7CF4A" stroke-width="2.5"/><circle cx="2148.9" cy="1707.8" r="4" fill="#F7CF4A"/><line x1="2140.3" y1="1696.5" x2="2136.5" y2="1701.1" stroke="#F7CF4A" stroke-width="2.5"/><circle cx="2136.5" cy="1701.1" r="4" fill="#F7CF4A"/><line x1="2133" y1="1687.4" x2="2127.7" y2="1690.2" stroke="#F7CF4A" stroke-width="2.5"/><circle cx="2127.7" cy="1690.2" r="4" fill="#F7CF4A"/><line x1="2129.6" y1="1676.2" x2="2123.7" y2="1676.7" stroke="#F7CF4A" stroke-width="2.5"/><circle cx="2123.7" cy="1676.7" r="4" fill="#F7CF4A"/><line x1="2130.8" y1="1664.5" x2="2125.1" y2="1662.8" stroke="#F7CF4A" stroke-width="2.5"/><circle cx="2125.1" cy="1662.8" r="4" fill="#F7CF4A"/><line x1="2136.4" y1="1654.2" x2="2131.8" y2="1650.4" stroke="#F7CF4A" stroke-width="2.5"/><circle cx="2131.8" cy="1650.4" r="4" fill="#F7CF4A"/><line x1="2145.5" y1="1646.9" x2="2142.7" y2="1641.6" stroke="#F7CF4A" stroke-width="2.5"/><circle cx="2142.7" cy="1641.6" r="4" fill="#F7CF4A"/><line x1="2156.7" y1="1643.5" x2="2156.2" y2="1637.6" stroke="#F7CF4A" stroke-width="2.5"/><circle cx="2156.2" cy="1637.6" r="4" fill="#F7CF4A"/><line x1="2168.4" y1="1644.7" x2="2170.1" y2="1639" stroke="#F7CF4A" stroke-width="2.5"/><circle cx="2170.1" cy="1639" r="4" fill="#F7CF4A"/><line x1="2178.7" y1="1650.3" x2="2182.5" y2="1645.7" stroke="#F7CF4A" stroke-width="2.5"/><circle cx="2182.5" cy="1645.7" r="4" fill="#F7CF4A"/><line x1="2186" y1="1659.4" x2="2191.3" y2="1656.6" stroke="#F7CF4A" stroke-width="2.5"/><circle cx="2191.3" cy="1656.6" r="4" fill="#F7CF4A"/><line x1="2189.4" y1="1670.6" x2="2195.3" y2="1670.1" stroke="#F7CF4A" stroke-width="2.5"/><circle cx="2195.3" cy="1670.1" r="4" fill="#F7CF4A"/><circle cx="2159.5" cy="1673.4" r="30" fill="#F7CF4A"/>
<circle cx="2159.5" cy="1673.4" r="20" fill="#EFE2B8"/>
<line x1="2278.7" y1="1727.5" x2="2307.3" y2="1736.4" stroke="#8CC63F" stroke-width="2.5"/><circle cx="2307.3" cy="1736.4" r="4.5" fill="#8CC63F"/><line x1="2274" y1="1735.6" x2="2296" y2="1756" stroke="#8CC63F" stroke-width="2.5"/><circle cx="2296" cy="1756" r="4.5" fill="#8CC63F"/><line x1="2266.3" y1="1740.9" x2="2277.2" y2="1768.8" stroke="#8CC63F" stroke-width="2.5"/><circle cx="2277.2" cy="1768.8" r="4.5" fill="#8CC63F"/><line x1="2257" y1="1742.2" x2="2254.7" y2="1772.2" stroke="#8CC63F" stroke-width="2.5"/><circle cx="2254.7" cy="1772.2" r="4.5" fill="#8CC63F"/><line x1="2248.1" y1="1739.5" x2="2233.1" y2="1765.4" stroke="#8CC63F" stroke-width="2.5"/><circle cx="2233.1" cy="1765.4" r="4.5" fill="#8CC63F"/><line x1="2241.2" y1="1733.1" x2="2216.4" y2="1750" stroke="#8CC63F" stroke-width="2.5"/><circle cx="2216.4" cy="1750" r="4.5" fill="#8CC63F"/><line x1="2237.8" y1="1724.4" x2="2208.2" y2="1728.9" stroke="#8CC63F" stroke-width="2.5"/><circle cx="2208.2" cy="1728.9" r="4.5" fill="#8CC63F"/><line x1="2238.5" y1="1715.1" x2="2209.9" y2="1706.2" stroke="#8CC63F" stroke-width="2.5"/><circle cx="2209.9" cy="1706.2" r="4.5" fill="#8CC63F"/><line x1="2243.2" y1="1707" x2="2221.2" y2="1686.6" stroke="#8CC63F" stroke-width="2.5"/><circle cx="2221.2" cy="1686.6" r="4.5" fill="#8CC63F"/><line x1="2250.9" y1="1701.7" x2="2240" y2="1673.8" stroke="#8CC63F" stroke-width="2.5"/><circle cx="2240" cy="1673.8" r="4.5" fill="#8CC63F"/><line x1="2260.2" y1="1700.4" x2="2262.5" y2="1670.4" stroke="#8CC63F" stroke-width="2.5"/><circle cx="2262.5" cy="1670.4" r="4.5" fill="#8CC63F"/><line x1="2269.1" y1="1703.1" x2="2284.1" y2="1677.2" stroke="#8CC63F" stroke-width="2.5"/><circle cx="2284.1" cy="1677.2" r="4.5" fill="#8CC63F"/><line x1="2276" y1="1709.5" x2="2300.8" y2="1692.6" stroke="#8CC63F" stroke-width="2.5"/><circle cx="2300.8" cy="1692.6" r="4.5" fill="#8CC63F"/><line x1="2279.4" y1="1718.2" x2="2309" y2="1713.7" stroke="#8CC63F" stroke-width="2.5"/><circle cx="2309" cy="1713.7" r="4.5" fill="#8CC63F"/><circle cx="2258.6" cy="1721.3" r="21" fill="#6FB53A"/><circle cx="2250.6" cy="1715.3" r="4" fill="#8CC63F"/><circle cx="2265.6" cy="1726.3" r="4" fill="#8CC63F"/><circle cx="2264.6" cy="1712.3" r="3" fill="#8CC63F"/><circle cx="2253.6" cy="1730.3" r="3" fill="#8CC63F"/>
<path d="M2352,1755 C2368,1742 2385,1730 2398,1714 C2410,1700 2418,1690 2428,1690 C2434,1698 2424,1712 2412,1726 C2398,1742 2382,1754 2366,1764 Z" fill="#D4A8C8"/>
<path d="M2360,1752 C2380,1736 2400,1716 2422,1696" stroke="#8FD0C8" stroke-width="5" fill="none"/>
<path d="M2358,1748 l-8,-6 M2372,1738 l-6,-8 M2388,1725 l-4,-9 M2404,1710 l-2,-9 M2418,1696 l0,-9 M2370,1766 l4,7 M2390,1752 l5,6 M2408,1735 l6,5" stroke="#D4A8C8" stroke-width="1.5"/>
<path d="M2096,1720 C2110,1716 2124,1730 2128,1746 C2120,1738 2108,1730 2096,1720 Z" fill="#E8A070"/>
<g fill="none" stroke="#000" stroke-width="10" stroke-dasharray="10 9">
<ellipse cx="2271.8" cy="494.5" rx="229.8" ry="220.5"/>
<ellipse cx="2248.5" cy="1570" rx="230.5" ry="221.5"/>
<path d="M2097,648 Q2150,800 2190,942"/>
<path d="M2440,652 Q2390,820 2343,960"/>
<path d="M2186,1052 Q2130,1200 2064,1426"/>
<path d="M2351,1126 Q2400,1280 2434,1428"/>
</g>
<circle cx="2260.5" cy="1005.4" r="72.5" fill="none" stroke="#000" stroke-width="18"/>
<path d="M2318,1058 L2332,1072" stroke="#000" stroke-width="14"/>
<path d="M2335,1075 L2384,1122" stroke="#000" stroke-width="32" stroke-linecap="round"/>
</g>

<!-- label boxes -->
<rect x="195" y="90" width="302" height="107" fill="#BF9000"/>
<rect x="1141" y="91" width="390" height="107" fill="#C5E0B4"/>
<rect x="2151" y="78.6" width="346" height="104.7" fill="#BDD7EE"/>

<!-- connectors -->
<g fill="none" stroke="#4472C4" stroke-width="17">
<polyline points="1345,91 1345,31 2322,31 2322,79"/>
<polyline points="375.5,1826 375.5,1930.3 2334,1930.3" stroke-width="16"/>
</g>
<g fill="#2E75B6">
<rect x="2314.5" y="183" width="15.5" height="20"/>
<polygon points="2298,201 2347,201 2322.5,247"/>
<rect x="2320" y="1872" width="15" height="56"/>
<polygon points="2303,1874 2352.5,1874 2327.5,1826"/>
<!-- horizontal arrows -->
<g id="harrow"><rect x="636" y="436" width="374" height="17"/><polygon points="1007,420 1007,469 1055,444.5"/></g>
<use href="#harrow" transform="translate(0,429.2)"/>
<use href="#harrow" transform="translate(0,806.1)"/>
<use href="#harrow" transform="translate(0,1225.2)"/>
</g>

<!-- dashed boxes -->
<g fill="none" stroke="#2F5597" stroke-width="8.2" stroke-dasharray="33 24.8">
<path d="M27.5,364.4 A113.7,113.7 0 0 1 141.2,250.7 H594.3 A113.7,113.7 0 0 1 708,364.4 V1712.8 A113.7,113.7 0 0 1 594.3,1826.5 H141.2 A113.7,113.7 0 0 1 27.5,1712.8 Z"/>
<path d="M994.5,364.4 A113.7,113.7 0 0 1 1108.2,250.7 H1563.3 A113.7,113.7 0 0 1 1677,364.4 V1712.8 A113.7,113.7 0 0 1 1563.3,1826.5 H1108.2 A113.7,113.7 0 0 1 994.5,1712.8 Z"/>
<path d="M1981.4,364.4 A113.7,113.7 0 0 1 2095.1,250.7 H2549.8 A113.7,113.7 0 0 1 2663.5,364.4 V1712.8 A113.7,113.7 0 0 1 2549.8,1826.5 H2095.1 A113.7,113.7 0 0 1 1981.4,1712.8 Z"/>
</g>

<!-- orange lines -->
<g stroke="#ED7D31" stroke-width="15" fill="none">
<line x1="1599.8" y1="312.2" x2="2087" y2="712"/>
<line x1="1587.2" y1="1765.4" x2="2081" y2="1319"/>
</g>

<!-- big blue arrow -->
<path d="M2841,548 H2889.5 V1411.4 H2915 L2865.4,1459.5 L2815,1411.4 H2841 Z" fill="#4472C4" stroke="#2F528F" stroke-width="2"/>

<!-- star -->
<g id="star">
<polygon points="2860.5,945.2 2924.8,863.0 2918.4,938.4 2991.4,926.1 2962.4,966.6 3038.3,978.3 2978.0,1011.4 3047.0,1051.3 2964.8,1046.3 2987.3,1119.3 2916.1,1067.8 2902.8,1142.6 2855.9,1074.6 2820.5,1169.0 2807.2,1084.4 2756.2,1112.6 2771.9,1060.4 2676.3,1069.6 2738.3,1029.8 2674.0,985.0 2753.9,970.9 2680.4,895.5 2800.3,952.5 2818.2,895.5" fill="#FFFF00" stroke="#FF0000" stroke-width="9" stroke-miterlimit="10"/>
<text x="2720" y="1020.5" class="b" font-size="66" fill="#000">response</text>
</g>

<!-- texts -->
<g class="b" font-size="69" fill="#000">
<text x="222" y="168" textLength="247.6" lengthAdjust="spacingAndGlyphs">Grazing</text>
<text x="1166" y="168.6" textLength="336.7" lengthAdjust="spacingAndGlyphs">Vegetation</text>
<text x="2177" y="156" textLength="292" lengthAdjust="spacingAndGlyphs">Microbes</text>
<text x="1726" y="116" textLength="183.5" lengthAdjust="spacingAndGlyphs">Effect</text>
<text x="725" y="395" textLength="242.6" lengthAdjust="spacingAndGlyphs">Change</text>
<text x="1224" y="1913" textLength="236" lengthAdjust="spacingAndGlyphs">Control</text>
</g>
<g class="b" font-size="48" fill="#000">
<text x="716" y="972">Abundance</text>
<text x="717" y="1087.3">Coverage</text>
<text x="717" y="1201.5">Height</text>
</g>
<path d="M967.3,1039.5 H978.5 V1103.5 H989.3 L972.7,1135.8 L956.6,1103.5 H967.3 Z" fill="#000"/>
<g font-size="67" fill="#000">
<text x="2752.5" y="449.3">Fungal</text>
<text x="2748" y="528">disease</text>
<text x="2679" y="1546.8" textLength="375.8" lengthAdjust="spacingAndGlyphs">phyllosphere</text>
<text x="2706" y="1625.8">microbiome</text>
</g>
</svg>
</body></html>
